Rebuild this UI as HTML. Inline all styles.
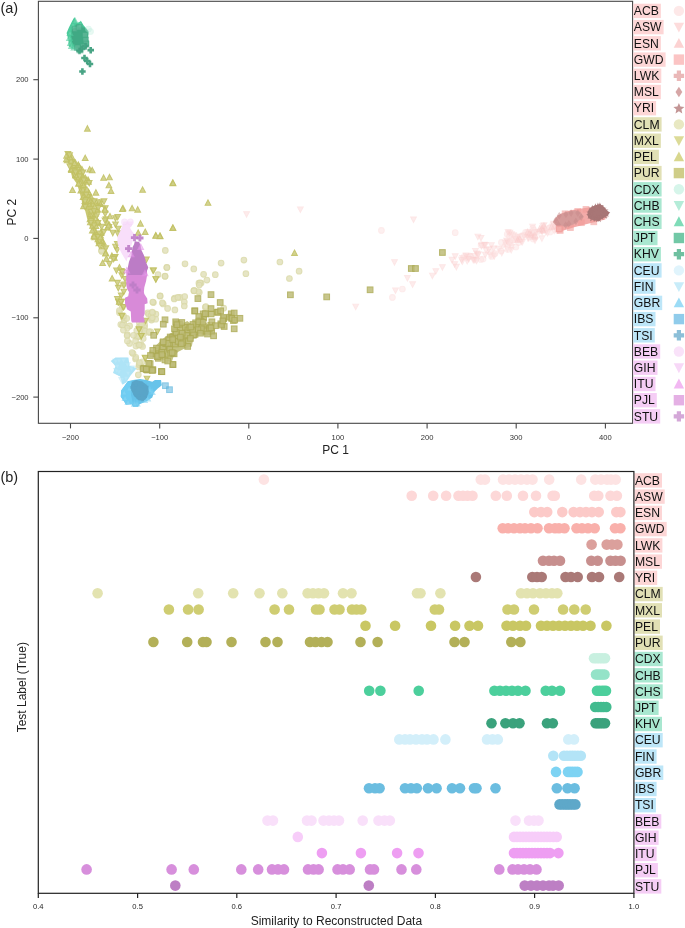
<!DOCTYPE html>
<html><head><meta charset="utf-8"><style>html,body{margin:0;padding:0;background:#fff;}svg{display:block} svg{will-change:transform}</style></head><body>
<svg width="685" height="928" viewBox="0 0 685 928" font-family="&quot;Liberation Sans&quot;, sans-serif">
<rect width="685" height="928" fill="#fff"/>
<path d="M500.0 250.0L520.0 240.0L545.0 233.0L558.0 228.0L556.0 222.0L540.0 228.0L520.0 233.0L503.0 242.0Z" fill="#fbd0d0" fill-opacity="0.4"/>
<g opacity="0.45"><path d="M513.6 238.2L516.4 232.9L510.8 232.9Z" fill="#fcdada" stroke="#fbd0d0" stroke-width="1.1" stroke-opacity="1.0"/></g>
<g opacity="0.45"><path d="M517.7 239.6L520.5 234.3L514.9 234.3Z" fill="#fcdada" stroke="#fbd0d0" stroke-width="1.1" stroke-opacity="1.0"/></g>
<g opacity="0.45"><path d="M557.6 224.0L560.4 218.7L554.8 218.7Z" fill="#fcdada" stroke="#fbd0d0" stroke-width="1.1" stroke-opacity="1.0"/></g>
<g opacity="0.45"><path d="M545.8 234.9L548.6 229.5L543.0 229.5Z" fill="#fcdada" stroke="#fbd0d0" stroke-width="1.1" stroke-opacity="1.0"/></g>
<g opacity="0.45"><path d="M490.8 258.3L493.6 253.0L488.0 253.0Z" fill="#fcdada" stroke="#fbd0d0" stroke-width="1.1" stroke-opacity="1.0"/></g>
<g opacity="0.45"><path d="M523.9 238.5L526.7 233.2L521.1 233.2Z" fill="#fcdada" stroke="#fbd0d0" stroke-width="1.1" stroke-opacity="1.0"/></g>
<g opacity="0.45"><path d="M528.0 241.0L530.8 235.7L525.2 235.7Z" fill="#fcdada" stroke="#fbd0d0" stroke-width="1.1" stroke-opacity="1.0"/></g>
<g opacity="0.45"><path d="M491.4 248.1L494.2 242.7L488.6 242.7Z" fill="#fcdada" stroke="#fbd0d0" stroke-width="1.1" stroke-opacity="1.0"/></g>
<g opacity="0.45"><path d="M484.4 247.6L487.2 242.2L481.6 242.2Z" fill="#fcdada" stroke="#fbd0d0" stroke-width="1.1" stroke-opacity="1.0"/></g>
<g opacity="0.45"><path d="M532.9 234.8L535.7 229.5L530.1 229.5Z" fill="#fcdada" stroke="#fbd0d0" stroke-width="1.1" stroke-opacity="1.0"/></g>
<g opacity="0.45"><path d="M558.0 227.2L560.8 221.9L555.2 221.9Z" fill="#fcdada" stroke="#fbd0d0" stroke-width="1.1" stroke-opacity="1.0"/></g>
<g opacity="0.45"><path d="M501.8 255.7L504.6 250.4L499.0 250.4Z" fill="#fcdada" stroke="#fbd0d0" stroke-width="1.1" stroke-opacity="1.0"/></g>
<g opacity="0.45"><path d="M547.5 235.9L550.3 230.6L544.7 230.6Z" fill="#fcdada" stroke="#fbd0d0" stroke-width="1.1" stroke-opacity="1.0"/></g>
<g opacity="0.45"><path d="M518.0 242.3L520.8 237.0L515.2 237.0Z" fill="#fcdada" stroke="#fbd0d0" stroke-width="1.1" stroke-opacity="1.0"/></g>
<g opacity="0.45"><path d="M507.4 251.6L510.2 246.2L504.6 246.2Z" fill="#fcdada" stroke="#fbd0d0" stroke-width="1.1" stroke-opacity="1.0"/></g>
<g opacity="0.45"><path d="M542.2 234.6L545.0 229.3L539.4 229.3Z" fill="#fcdada" stroke="#fbd0d0" stroke-width="1.1" stroke-opacity="1.0"/></g>
<g opacity="0.45"><path d="M498.6 251.8L501.4 246.4L495.8 246.4Z" fill="#fcdada" stroke="#fbd0d0" stroke-width="1.1" stroke-opacity="1.0"/></g>
<g opacity="0.45"><path d="M555.8 228.7L558.6 223.4L553.0 223.4Z" fill="#fcdada" stroke="#fbd0d0" stroke-width="1.1" stroke-opacity="1.0"/></g>
<g opacity="0.45"><path d="M511.5 249.5L514.3 244.2L508.7 244.2Z" fill="#fcdada" stroke="#fbd0d0" stroke-width="1.1" stroke-opacity="1.0"/></g>
<g opacity="0.45"><path d="M462.6 260.9L465.4 255.6L459.8 255.6Z" fill="#fcdada" stroke="#fbd0d0" stroke-width="1.1" stroke-opacity="1.0"/></g>
<g opacity="0.45"><path d="M506.6 243.5L509.4 238.2L503.8 238.2Z" fill="#fcdada" stroke="#fbd0d0" stroke-width="1.1" stroke-opacity="1.0"/></g>
<g opacity="0.45"><path d="M542.9 229.1L545.7 223.8L540.1 223.8Z" fill="#fcdada" stroke="#fbd0d0" stroke-width="1.1" stroke-opacity="1.0"/></g>
<g opacity="0.45"><path d="M462.3 264.4L465.1 259.0L459.5 259.0Z" fill="#fcdada" stroke="#fbd0d0" stroke-width="1.1" stroke-opacity="1.0"/></g>
<g opacity="0.45"><path d="M476.7 256.4L479.5 251.0L473.9 251.0Z" fill="#fcdada" stroke="#fbd0d0" stroke-width="1.1" stroke-opacity="1.0"/></g>
<g opacity="0.45"><path d="M485.9 252.8L488.7 247.5L483.1 247.5Z" fill="#fcdada" stroke="#fbd0d0" stroke-width="1.1" stroke-opacity="1.0"/></g>
<g opacity="0.45"><path d="M535.0 243.3L537.8 237.9L532.2 237.9Z" fill="#fcdada" stroke="#fbd0d0" stroke-width="1.1" stroke-opacity="1.0"/></g>
<g opacity="0.45"><path d="M477.9 257.1L480.7 251.8L475.1 251.8Z" fill="#fcdada" stroke="#fbd0d0" stroke-width="1.1" stroke-opacity="1.0"/></g>
<g opacity="0.45"><path d="M493.3 257.7L496.1 252.3L490.5 252.3Z" fill="#fcdada" stroke="#fbd0d0" stroke-width="1.1" stroke-opacity="1.0"/></g>
<g opacity="0.45"><path d="M532.5 229.5L535.3 224.2L529.7 224.2Z" fill="#fcdada" stroke="#fbd0d0" stroke-width="1.1" stroke-opacity="1.0"/></g>
<g opacity="0.45"><path d="M474.6 258.8L477.4 253.5L471.8 253.5Z" fill="#fcdada" stroke="#fbd0d0" stroke-width="1.1" stroke-opacity="1.0"/></g>
<g opacity="0.45"><path d="M542.6 231.4L545.4 226.0L539.8 226.0Z" fill="#fcdada" stroke="#fbd0d0" stroke-width="1.1" stroke-opacity="1.0"/></g>
<g opacity="0.45"><path d="M484.1 248.1L486.9 242.8L481.3 242.8Z" fill="#fcdada" stroke="#fbd0d0" stroke-width="1.1" stroke-opacity="1.0"/></g>
<g opacity="0.45"><path d="M473.1 262.5L475.9 257.2L470.3 257.2Z" fill="#fcdada" stroke="#fbd0d0" stroke-width="1.1" stroke-opacity="1.0"/></g>
<g opacity="0.45"><path d="M510.2 245.7L513.0 240.3L507.4 240.3Z" fill="#fcdada" stroke="#fbd0d0" stroke-width="1.1" stroke-opacity="1.0"/></g>
<g opacity="0.45"><path d="M521.3 244.5L524.1 239.2L518.5 239.2Z" fill="#fcdada" stroke="#fbd0d0" stroke-width="1.1" stroke-opacity="1.0"/></g>
<g opacity="0.45"><path d="M511.2 252.8L514.0 247.5L508.4 247.5Z" fill="#fcdada" stroke="#fbd0d0" stroke-width="1.1" stroke-opacity="1.0"/></g>
<g opacity="0.45"><path d="M505.2 245.7L508.0 240.4L502.4 240.4Z" fill="#fcdada" stroke="#fbd0d0" stroke-width="1.1" stroke-opacity="1.0"/></g>
<g opacity="0.45"><path d="M554.2 233.5L557.0 228.2L551.4 228.2Z" fill="#fcdada" stroke="#fbd0d0" stroke-width="1.1" stroke-opacity="1.0"/></g>
<g opacity="0.45"><path d="M544.0 228.1L546.8 222.7L541.2 222.7Z" fill="#fcdada" stroke="#fbd0d0" stroke-width="1.1" stroke-opacity="1.0"/></g>
<g opacity="0.45"><path d="M475.4 253.9L478.2 248.6L472.6 248.6Z" fill="#fcdada" stroke="#fbd0d0" stroke-width="1.1" stroke-opacity="1.0"/></g>
<g opacity="0.45"><path d="M511.6 237.1L514.4 231.7L508.8 231.7Z" fill="#fcdada" stroke="#fbd0d0" stroke-width="1.1" stroke-opacity="1.0"/></g>
<g opacity="0.45"><path d="M515.4 241.6L518.2 236.3L512.6 236.3Z" fill="#fcdada" stroke="#fbd0d0" stroke-width="1.1" stroke-opacity="1.0"/></g>
<g opacity="0.45"><path d="M522.4 244.8L525.2 239.5L519.6 239.5Z" fill="#fcdada" stroke="#fbd0d0" stroke-width="1.1" stroke-opacity="1.0"/></g>
<g opacity="0.45"><path d="M541.9 233.5L544.7 228.2L539.1 228.2Z" fill="#fcdada" stroke="#fbd0d0" stroke-width="1.1" stroke-opacity="1.0"/></g>
<g opacity="0.45"><path d="M474.9 262.9L477.7 257.6L472.1 257.6Z" fill="#fcdada" stroke="#fbd0d0" stroke-width="1.1" stroke-opacity="1.0"/></g>
<g opacity="0.45"><path d="M528.8 240.9L531.6 235.6L526.0 235.6Z" fill="#fcdada" stroke="#fbd0d0" stroke-width="1.1" stroke-opacity="1.0"/></g>
<g opacity="0.45"><path d="M467.2 263.8L470.0 258.5L464.4 258.5Z" fill="#fcdada" stroke="#fbd0d0" stroke-width="1.1" stroke-opacity="1.0"/></g>
<g opacity="0.45"><path d="M468.4 260.1L471.2 254.8L465.6 254.8Z" fill="#fcdada" stroke="#fbd0d0" stroke-width="1.1" stroke-opacity="1.0"/></g>
<g opacity="0.45"><path d="M466.7 260.4L469.5 255.1L463.9 255.1Z" fill="#fcdada" stroke="#fbd0d0" stroke-width="1.1" stroke-opacity="1.0"/></g>
<g opacity="0.45"><path d="M535.9 234.9L538.7 229.6L533.1 229.6Z" fill="#fcdada" stroke="#fbd0d0" stroke-width="1.1" stroke-opacity="1.0"/></g>
<g opacity="0.45"><path d="M553.5 226.7L556.3 221.4L550.7 221.4Z" fill="#fcdada" stroke="#fbd0d0" stroke-width="1.1" stroke-opacity="1.0"/></g>
<g opacity="0.45"><path d="M541.9 241.2L544.7 235.9L539.1 235.9Z" fill="#fcdada" stroke="#fbd0d0" stroke-width="1.1" stroke-opacity="1.0"/></g>
<g opacity="0.45"><path d="M494.3 259.1L497.1 253.7L491.5 253.7Z" fill="#fcdada" stroke="#fbd0d0" stroke-width="1.1" stroke-opacity="1.0"/></g>
<g opacity="0.45"><path d="M468.4 259.5L471.2 254.1L465.6 254.1Z" fill="#fcdada" stroke="#fbd0d0" stroke-width="1.1" stroke-opacity="1.0"/></g>
<g opacity="0.45"><path d="M507.5 244.4L510.3 239.0L504.7 239.0Z" fill="#fcdada" stroke="#fbd0d0" stroke-width="1.1" stroke-opacity="1.0"/></g>
<g opacity="0.5"><circle cx="518.6" cy="242.6" r="2.80" fill="#fde4e4" stroke="#fcdcdc" stroke-width="1.1" stroke-opacity="1.0"/></g>
<g opacity="0.5"><circle cx="558.5" cy="225.7" r="2.80" fill="#fde4e4" stroke="#fcdcdc" stroke-width="1.1" stroke-opacity="1.0"/></g>
<g opacity="0.5"><circle cx="464.4" cy="256.3" r="2.80" fill="#fde4e4" stroke="#fcdcdc" stroke-width="1.1" stroke-opacity="1.0"/></g>
<g opacity="0.5"><circle cx="470.5" cy="256.3" r="2.80" fill="#fde4e4" stroke="#fcdcdc" stroke-width="1.1" stroke-opacity="1.0"/></g>
<g opacity="0.5"><circle cx="515.9" cy="247.0" r="2.80" fill="#fde4e4" stroke="#fcdcdc" stroke-width="1.1" stroke-opacity="1.0"/></g>
<g opacity="0.5"><circle cx="510.3" cy="242.9" r="2.80" fill="#fde4e4" stroke="#fcdcdc" stroke-width="1.1" stroke-opacity="1.0"/></g>
<g opacity="0.5"><circle cx="533.7" cy="230.2" r="2.80" fill="#fde4e4" stroke="#fcdcdc" stroke-width="1.1" stroke-opacity="1.0"/></g>
<g opacity="0.5"><circle cx="532.9" cy="228.2" r="2.80" fill="#fde4e4" stroke="#fcdcdc" stroke-width="1.1" stroke-opacity="1.0"/></g>
<g opacity="0.5"><circle cx="509.4" cy="236.1" r="2.80" fill="#fde4e4" stroke="#fcdcdc" stroke-width="1.1" stroke-opacity="1.0"/></g>
<g opacity="0.5"><circle cx="507.9" cy="249.5" r="2.80" fill="#fde4e4" stroke="#fcdcdc" stroke-width="1.1" stroke-opacity="1.0"/></g>
<g opacity="0.5"><circle cx="534.3" cy="232.6" r="2.80" fill="#fde4e4" stroke="#fcdcdc" stroke-width="1.1" stroke-opacity="1.0"/></g>
<g opacity="0.5"><circle cx="527.6" cy="232.0" r="2.80" fill="#fde4e4" stroke="#fcdcdc" stroke-width="1.1" stroke-opacity="1.0"/></g>
<g opacity="0.5"><circle cx="511.7" cy="239.7" r="2.80" fill="#fde4e4" stroke="#fcdcdc" stroke-width="1.1" stroke-opacity="1.0"/></g>
<g opacity="0.5"><circle cx="549.4" cy="227.9" r="2.80" fill="#fde4e4" stroke="#fcdcdc" stroke-width="1.1" stroke-opacity="1.0"/></g>
<g opacity="0.5"><circle cx="481.1" cy="244.9" r="2.80" fill="#fde4e4" stroke="#fcdcdc" stroke-width="1.1" stroke-opacity="1.0"/></g>
<g opacity="0.5"><circle cx="555.3" cy="224.9" r="2.80" fill="#fde4e4" stroke="#fcdcdc" stroke-width="1.1" stroke-opacity="1.0"/></g>
<g opacity="0.5"><circle cx="483.1" cy="259.0" r="2.80" fill="#fde4e4" stroke="#fcdcdc" stroke-width="1.1" stroke-opacity="1.0"/></g>
<g opacity="0.5"><circle cx="491.6" cy="256.5" r="2.80" fill="#fde4e4" stroke="#fcdcdc" stroke-width="1.1" stroke-opacity="1.0"/></g>
<g opacity="0.5"><circle cx="550.2" cy="231.9" r="2.80" fill="#fde4e4" stroke="#fcdcdc" stroke-width="1.1" stroke-opacity="1.0"/></g>
<g opacity="0.5"><circle cx="470.2" cy="256.2" r="2.80" fill="#fde4e4" stroke="#fcdcdc" stroke-width="1.1" stroke-opacity="1.0"/></g>
<g opacity="0.5"><circle cx="533.2" cy="239.1" r="2.80" fill="#fde4e4" stroke="#fcdcdc" stroke-width="1.1" stroke-opacity="1.0"/></g>
<g opacity="0.5"><circle cx="552.7" cy="224.7" r="2.80" fill="#fde4e4" stroke="#fcdcdc" stroke-width="1.1" stroke-opacity="1.0"/></g>
<g opacity="0.5"><circle cx="507.2" cy="234.3" r="2.80" fill="#fde4e4" stroke="#fcdcdc" stroke-width="1.1" stroke-opacity="1.0"/></g>
<g opacity="0.5"><circle cx="489.8" cy="252.0" r="2.80" fill="#fde4e4" stroke="#fcdcdc" stroke-width="1.1" stroke-opacity="1.0"/></g>
<g opacity="0.5"><circle cx="557.6" cy="230.6" r="2.80" fill="#fde4e4" stroke="#fcdcdc" stroke-width="1.1" stroke-opacity="1.0"/></g>
<g opacity="0.5"><circle cx="525.6" cy="232.4" r="2.80" fill="#fde4e4" stroke="#fcdcdc" stroke-width="1.1" stroke-opacity="1.0"/></g>
<g opacity="0.5"><circle cx="515.7" cy="236.6" r="2.80" fill="#fde4e4" stroke="#fcdcdc" stroke-width="1.1" stroke-opacity="1.0"/></g>
<g opacity="0.5"><circle cx="480.8" cy="259.4" r="2.80" fill="#fde4e4" stroke="#fcdcdc" stroke-width="1.1" stroke-opacity="1.0"/></g>
<g opacity="0.5"><circle cx="535.0" cy="237.4" r="2.80" fill="#fde4e4" stroke="#fcdcdc" stroke-width="1.1" stroke-opacity="1.0"/></g>
<g opacity="0.5"><circle cx="501.4" cy="242.4" r="2.80" fill="#fde4e4" stroke="#fcdcdc" stroke-width="1.1" stroke-opacity="1.0"/></g>
<g opacity="0.45"><path d="M560.2 221.2L563.0 226.5L557.4 226.5Z" fill="#fbd4d4" stroke="#fac8c8" stroke-width="1.1" stroke-opacity="1.0"/></g>
<g opacity="0.45"><path d="M533.7 233.8L536.5 239.1L530.9 239.1Z" fill="#fbd4d4" stroke="#fac8c8" stroke-width="1.1" stroke-opacity="1.0"/></g>
<g opacity="0.45"><path d="M554.2 223.5L557.0 228.8L551.4 228.8Z" fill="#fbd4d4" stroke="#fac8c8" stroke-width="1.1" stroke-opacity="1.0"/></g>
<g opacity="0.45"><path d="M527.8 229.2L530.6 234.5L525.0 234.5Z" fill="#fbd4d4" stroke="#fac8c8" stroke-width="1.1" stroke-opacity="1.0"/></g>
<g opacity="0.45"><path d="M560.4 224.3L563.2 229.6L557.6 229.6Z" fill="#fbd4d4" stroke="#fac8c8" stroke-width="1.1" stroke-opacity="1.0"/></g>
<g opacity="0.45"><path d="M531.1 231.8L533.9 237.2L528.3 237.2Z" fill="#fbd4d4" stroke="#fac8c8" stroke-width="1.1" stroke-opacity="1.0"/></g>
<g opacity="0.45"><path d="M541.8 225.7L544.6 231.0L539.0 231.0Z" fill="#fbd4d4" stroke="#fac8c8" stroke-width="1.1" stroke-opacity="1.0"/></g>
<g opacity="0.45"><path d="M534.9 232.6L537.7 238.0L532.1 238.0Z" fill="#fbd4d4" stroke="#fac8c8" stroke-width="1.1" stroke-opacity="1.0"/></g>
<g opacity="0.45"><path d="M543.9 223.0L546.7 228.3L541.1 228.3Z" fill="#fbd4d4" stroke="#fac8c8" stroke-width="1.1" stroke-opacity="1.0"/></g>
<g opacity="0.45"><path d="M551.7 223.8L554.5 229.2L548.9 229.2Z" fill="#fbd4d4" stroke="#fac8c8" stroke-width="1.1" stroke-opacity="1.0"/></g>
<g opacity="0.45"><path d="M517.6 237.1L520.4 242.4L514.8 242.4Z" fill="#fbd4d4" stroke="#fac8c8" stroke-width="1.1" stroke-opacity="1.0"/></g>
<g opacity="0.45"><path d="M558.1 226.3L560.9 231.6L555.3 231.6Z" fill="#fbd4d4" stroke="#fac8c8" stroke-width="1.1" stroke-opacity="1.0"/></g>
<g opacity="0.45"><path d="M542.9 227.5L545.7 232.8L540.1 232.8Z" fill="#fbd4d4" stroke="#fac8c8" stroke-width="1.1" stroke-opacity="1.0"/></g>
<g opacity="0.45"><path d="M559.5 221.2L562.3 226.5L556.7 226.5Z" fill="#fbd4d4" stroke="#fac8c8" stroke-width="1.1" stroke-opacity="1.0"/></g>
<g opacity="0.45"><path d="M560.0 223.2L562.8 228.6L557.2 228.6Z" fill="#fbd4d4" stroke="#fac8c8" stroke-width="1.1" stroke-opacity="1.0"/></g>
<g opacity="0.45"><path d="M557.4 224.5L560.2 229.8L554.6 229.8Z" fill="#fbd4d4" stroke="#fac8c8" stroke-width="1.1" stroke-opacity="1.0"/></g>
<g opacity="0.45"><path d="M519.9 236.0L522.7 241.3L517.1 241.3Z" fill="#fbd4d4" stroke="#fac8c8" stroke-width="1.1" stroke-opacity="1.0"/></g>
<g opacity="0.45"><path d="M529.5 230.4L532.3 235.7L526.7 235.7Z" fill="#fbd4d4" stroke="#fac8c8" stroke-width="1.1" stroke-opacity="1.0"/></g>
<g opacity="0.45"><path d="M557.9 222.6L560.7 228.0L555.1 228.0Z" fill="#fbd4d4" stroke="#fac8c8" stroke-width="1.1" stroke-opacity="1.0"/></g>
<g opacity="0.45"><path d="M539.6 226.3L542.4 231.6L536.8 231.6Z" fill="#fbd4d4" stroke="#fac8c8" stroke-width="1.1" stroke-opacity="1.0"/></g>
<g opacity="0.5"><path d="M355.7 309.6L358.5 304.3L352.9 304.3Z" fill="#fcdada" stroke="#fbd0d0" stroke-width="1.1" stroke-opacity="1.0"/></g>
<g opacity="0.5"><path d="M246.6 217.1L249.4 211.8L243.8 211.8Z" fill="#fcdada" stroke="#fbd0d0" stroke-width="1.1" stroke-opacity="1.0"/></g>
<g opacity="0.5"><path d="M300.4 212.3L303.2 207.0L297.6 207.0Z" fill="#fcdada" stroke="#fbd0d0" stroke-width="1.1" stroke-opacity="1.0"/></g>
<g opacity="0.5"><path d="M413.5 222.4L416.3 217.1L410.7 217.1Z" fill="#fcdada" stroke="#fbd0d0" stroke-width="1.1" stroke-opacity="1.0"/></g>
<g opacity="0.5"><path d="M394.5 265.1L397.3 259.8L391.7 259.8Z" fill="#fcdada" stroke="#fbd0d0" stroke-width="1.1" stroke-opacity="1.0"/></g>
<g opacity="0.5"><path d="M407.4 280.9L410.2 275.6L404.6 275.6Z" fill="#fcdada" stroke="#fbd0d0" stroke-width="1.1" stroke-opacity="1.0"/></g>
<g opacity="0.5"><path d="M412.6 287.2L415.4 281.9L409.8 281.9Z" fill="#fcdada" stroke="#fbd0d0" stroke-width="1.1" stroke-opacity="1.0"/></g>
<g opacity="0.5"><path d="M395.5 293.3L398.3 288.0L392.7 288.0Z" fill="#fcdada" stroke="#fbd0d0" stroke-width="1.1" stroke-opacity="1.0"/></g>
<g opacity="0.5"><path d="M432.4 278.5L435.2 273.2L429.6 273.2Z" fill="#fcdada" stroke="#fbd0d0" stroke-width="1.1" stroke-opacity="1.0"/></g>
<g opacity="0.5"><path d="M435.8 274.1L438.6 268.8L433.0 268.8Z" fill="#fcdada" stroke="#fbd0d0" stroke-width="1.1" stroke-opacity="1.0"/></g>
<g opacity="0.5"><path d="M442.4 270.1L445.2 264.8L439.6 264.8Z" fill="#fcdada" stroke="#fbd0d0" stroke-width="1.1" stroke-opacity="1.0"/></g>
<g opacity="0.5"><path d="M452.0 262.7L454.8 257.4L449.2 257.4Z" fill="#fcdada" stroke="#fbd0d0" stroke-width="1.1" stroke-opacity="1.0"/></g>
<g opacity="0.5"><path d="M455.2 259.2L458.0 253.9L452.4 253.9Z" fill="#fcdada" stroke="#fbd0d0" stroke-width="1.1" stroke-opacity="1.0"/></g>
<g opacity="0.5"><path d="M454.7 267.1L457.5 261.8L451.9 261.8Z" fill="#fcdada" stroke="#fbd0d0" stroke-width="1.1" stroke-opacity="1.0"/></g>
<g opacity="0.5"><path d="M456.4 269.7L459.2 264.4L453.6 264.4Z" fill="#fcdada" stroke="#fbd0d0" stroke-width="1.1" stroke-opacity="1.0"/></g>
<g opacity="0.5"><path d="M461.7 262.7L464.5 257.4L458.9 257.4Z" fill="#fcdada" stroke="#fbd0d0" stroke-width="1.1" stroke-opacity="1.0"/></g>
<g opacity="0.5"><path d="M466.0 258.3L468.8 253.0L463.2 253.0Z" fill="#fcdada" stroke="#fbd0d0" stroke-width="1.1" stroke-opacity="1.0"/></g>
<g opacity="0.5"><path d="M468.7 261.9L471.5 256.6L465.9 256.6Z" fill="#fcdada" stroke="#fbd0d0" stroke-width="1.1" stroke-opacity="1.0"/></g>
<g opacity="0.5"><path d="M473.9 262.7L476.7 257.4L471.1 257.4Z" fill="#fcdada" stroke="#fbd0d0" stroke-width="1.1" stroke-opacity="1.0"/></g>
<g opacity="0.5"><path d="M476.6 263.6L479.4 258.3L473.8 258.3Z" fill="#fcdada" stroke="#fbd0d0" stroke-width="1.1" stroke-opacity="1.0"/></g>
<g opacity="0.5"><path d="M478.3 257.5L481.1 252.2L475.5 252.2Z" fill="#fcdada" stroke="#fbd0d0" stroke-width="1.1" stroke-opacity="1.0"/></g>
<g opacity="0.5"><path d="M481.0 240.8L483.8 235.5L478.2 235.5Z" fill="#fcdada" stroke="#fbd0d0" stroke-width="1.1" stroke-opacity="1.0"/></g>
<g opacity="0.5"><path d="M477.9 239.6L480.7 234.3L475.1 234.3Z" fill="#fcdada" stroke="#fbd0d0" stroke-width="1.1" stroke-opacity="1.0"/></g>
<g opacity="0.5"><path d="M481.5 248.7L484.3 243.4L478.7 243.4Z" fill="#fcdada" stroke="#fbd0d0" stroke-width="1.1" stroke-opacity="1.0"/></g>
<g opacity="0.5"><path d="M485.3 247.8L488.1 242.5L482.5 242.5Z" fill="#fcdada" stroke="#fbd0d0" stroke-width="1.1" stroke-opacity="1.0"/></g>
<g opacity="0.5"><path d="M485.3 257.5L488.1 252.2L482.5 252.2Z" fill="#fcdada" stroke="#fbd0d0" stroke-width="1.1" stroke-opacity="1.0"/></g>
<g opacity="0.5"><path d="M488.8 252.2L491.6 246.9L486.0 246.9Z" fill="#fcdada" stroke="#fbd0d0" stroke-width="1.1" stroke-opacity="1.0"/></g>
<g opacity="0.5"><path d="M493.7 251.3L496.5 246.0L490.9 246.0Z" fill="#fcdada" stroke="#fbd0d0" stroke-width="1.1" stroke-opacity="1.0"/></g>
<g opacity="0.5"><path d="M509.9 235.6L512.7 230.3L507.1 230.3Z" fill="#fcdada" stroke="#fbd0d0" stroke-width="1.1" stroke-opacity="1.0"/></g>
<g opacity="0.5"><path d="M508.1 235.0L510.9 229.7L505.3 229.7Z" fill="#fcdada" stroke="#fbd0d0" stroke-width="1.1" stroke-opacity="1.0"/></g>
<g opacity="0.55"><circle cx="381.4" cy="230.4" r="2.80" fill="#fde4e4" stroke="#fcdcdc" stroke-width="1.1" stroke-opacity="1.0"/></g>
<g opacity="0.55"><circle cx="402.4" cy="289.0" r="2.80" fill="#fde4e4" stroke="#fcdcdc" stroke-width="1.1" stroke-opacity="1.0"/></g>
<g opacity="0.55"><circle cx="392.4" cy="297.4" r="2.80" fill="#fde4e4" stroke="#fcdcdc" stroke-width="1.1" stroke-opacity="1.0"/></g>
<g opacity="0.55"><circle cx="455.2" cy="232.7" r="2.80" fill="#fde4e4" stroke="#fcdcdc" stroke-width="1.1" stroke-opacity="1.0"/></g>
<g opacity="0.55"><circle cx="495.0" cy="253.7" r="2.80" fill="#fde4e4" stroke="#fcdcdc" stroke-width="1.1" stroke-opacity="1.0"/></g>
<g opacity="0.55"><circle cx="501.1" cy="251.1" r="2.80" fill="#fde4e4" stroke="#fcdcdc" stroke-width="1.1" stroke-opacity="1.0"/></g>
<path d="M556.4 231.2L561.0 231.2L575.0 227.1L589.0 223.6L605.4 219.5L606.0 212.0L600.0 206.0L586.7 207.8L570.4 210.2L560.0 214.0Z" fill="#f3aaa8"/>
<g opacity="0.6"><rect x="557.4" y="227.6" width="5.6" height="5.6" fill="#f29d9a" stroke="#f29d9a" stroke-width="1.1" stroke-opacity="1.0"/></g>
<g opacity="0.6"><rect x="567.6" y="224.8" width="5.6" height="5.6" fill="#f29d9a" stroke="#f29d9a" stroke-width="1.1" stroke-opacity="1.0"/></g>
<g opacity="0.6"><rect x="578.6" y="219.9" width="5.6" height="5.6" fill="#f29d9a" stroke="#f29d9a" stroke-width="1.1" stroke-opacity="1.0"/></g>
<g opacity="0.6"><rect x="591.0" y="219.0" width="5.6" height="5.6" fill="#f29d9a" stroke="#f29d9a" stroke-width="1.1" stroke-opacity="1.0"/></g>
<g opacity="0.6"><rect x="601.3" y="211.8" width="5.6" height="5.6" fill="#f29d9a" stroke="#f29d9a" stroke-width="1.1" stroke-opacity="1.0"/></g>
<g opacity="0.6"><rect x="597.2" y="206.6" width="5.6" height="5.6" fill="#f29d9a" stroke="#f29d9a" stroke-width="1.1" stroke-opacity="1.0"/></g>
<g opacity="0.6"><rect x="583.2" y="206.6" width="5.6" height="5.6" fill="#f29d9a" stroke="#f29d9a" stroke-width="1.1" stroke-opacity="1.0"/></g>
<g opacity="0.6"><rect x="574.9" y="208.6" width="5.6" height="5.6" fill="#f29d9a" stroke="#f29d9a" stroke-width="1.1" stroke-opacity="1.0"/></g>
<g opacity="0.6"><rect x="562.3" y="211.0" width="5.6" height="5.6" fill="#f29d9a" stroke="#f29d9a" stroke-width="1.1" stroke-opacity="1.0"/></g>
<g opacity="0.6"><rect x="558.5" y="216.6" width="5.6" height="5.6" fill="#f29d9a" stroke="#f29d9a" stroke-width="1.1" stroke-opacity="1.0"/></g>
<path d="M552.8 221.9L557.5 215.4L563.4 213.1L569.2 211.4L575.0 210.2L580.3 211.9L583.8 216.6L579.7 220.1L573.9 224.2L568.0 226.5L562.2 226.5L556.4 225.9Z" fill="#d59b9a"/>
<g opacity="0.5"><path d="M555.9 217.4L557.7 220.2L555.9 223.0L554.0 220.2Z" fill="#c88a8a" stroke="#c88a8a" stroke-width="1.1" stroke-opacity="1.0"/></g>
<g opacity="0.5"><path d="M559.2 212.9L561.1 215.7L559.2 218.5L557.4 215.7Z" fill="#c88a8a" stroke="#c88a8a" stroke-width="1.1" stroke-opacity="1.0"/></g>
<g opacity="0.5"><path d="M565.9 211.7L567.7 214.5L565.9 217.3L564.0 214.5Z" fill="#c88a8a" stroke="#c88a8a" stroke-width="1.1" stroke-opacity="1.0"/></g>
<g opacity="0.5"><path d="M571.1 210.3L572.9 213.1L571.1 215.9L569.2 213.1Z" fill="#c88a8a" stroke="#c88a8a" stroke-width="1.1" stroke-opacity="1.0"/></g>
<g opacity="0.5"><path d="M577.8 210.3L579.6 213.1L577.8 215.9L575.9 213.1Z" fill="#c88a8a" stroke="#c88a8a" stroke-width="1.1" stroke-opacity="1.0"/></g>
<g opacity="0.5"><path d="M581.2 214.5L583.0 217.3L581.2 220.1L579.3 217.3Z" fill="#c88a8a" stroke="#c88a8a" stroke-width="1.1" stroke-opacity="1.0"/></g>
<g opacity="0.5"><path d="M575.9 218.6L577.7 221.4L575.9 224.2L574.0 221.4Z" fill="#c88a8a" stroke="#c88a8a" stroke-width="1.1" stroke-opacity="1.0"/></g>
<g opacity="0.5"><path d="M568.8 220.9L570.7 223.7L568.8 226.5L567.0 223.7Z" fill="#c88a8a" stroke="#c88a8a" stroke-width="1.1" stroke-opacity="1.0"/></g>
<g opacity="0.5"><path d="M565.7 222.3L567.6 225.1L565.7 227.9L563.9 225.1Z" fill="#c88a8a" stroke="#c88a8a" stroke-width="1.1" stroke-opacity="1.0"/></g>
<g opacity="0.5"><path d="M558.4 221.8L560.3 224.6L558.4 227.4L556.6 224.6Z" fill="#c88a8a" stroke="#c88a8a" stroke-width="1.1" stroke-opacity="1.0"/></g>
<path d="M589.0 209.0L593.7 206.1L600.1 204.1L603.6 206.7L606.6 210.2L609.8 212.5L607.7 215.4L603.6 217.8L598.4 221.3L593.7 220.1L589.0 218.4L587.3 214.9L587.9 211.4Z" fill="#a87676"/>
<g opacity="0.8"><polygon points="592.3,206.2 593.1,208.0 595.0,208.2 593.5,209.4 594.0,211.3 592.3,210.3 590.7,211.3 591.1,209.4 589.7,208.2 591.6,208.0" fill="#a87676" stroke="#a87676" stroke-width="1.1" stroke-opacity="1.0"/></g>
<g opacity="0.8"><polygon points="595.5,204.7 596.3,206.5 598.2,206.7 596.7,207.9 597.2,209.8 595.5,208.8 593.9,209.8 594.3,207.9 592.9,206.7 594.8,206.5" fill="#a87676" stroke="#a87676" stroke-width="1.1" stroke-opacity="1.0"/></g>
<g opacity="0.8"><polygon points="597.9,203.9 598.6,205.7 600.5,205.9 599.1,207.1 599.5,209.0 597.9,208.0 596.2,209.0 596.7,207.1 595.2,205.9 597.1,205.7" fill="#a87676" stroke="#a87676" stroke-width="1.1" stroke-opacity="1.0"/></g>
<g opacity="0.8"><polygon points="599.9,203.8 600.7,205.6 602.6,205.8 601.1,207.0 601.6,208.9 599.9,207.9 598.3,208.9 598.8,207.0 597.3,205.8 599.2,205.6" fill="#a87676" stroke="#a87676" stroke-width="1.1" stroke-opacity="1.0"/></g>
<g opacity="0.8"><polygon points="602.7,206.2 603.4,208.0 605.3,208.2 603.9,209.4 604.3,211.3 602.7,210.3 601.0,211.3 601.5,209.4 600.0,208.2 601.9,208.0" fill="#a87676" stroke="#a87676" stroke-width="1.1" stroke-opacity="1.0"/></g>
<g opacity="0.8"><polygon points="604.4,208.1 605.2,209.9 607.1,210.0 605.6,211.3 606.1,213.2 604.4,212.2 602.8,213.2 603.2,211.3 601.8,210.0 603.7,209.9" fill="#a87676" stroke="#a87676" stroke-width="1.1" stroke-opacity="1.0"/></g>
<g opacity="0.8"><polygon points="606.2,210.8 606.9,212.6 608.9,212.7 607.4,214.0 607.8,215.9 606.2,214.9 604.5,215.9 605.0,214.0 603.5,212.7 605.5,212.6" fill="#a87676" stroke="#a87676" stroke-width="1.1" stroke-opacity="1.0"/></g>
<g opacity="0.8"><polygon points="604.6,212.7 605.3,214.4 607.3,214.6 605.8,215.8 606.2,217.7 604.6,216.7 603.0,217.7 603.4,215.8 601.9,214.6 603.9,214.4" fill="#a87676" stroke="#a87676" stroke-width="1.1" stroke-opacity="1.0"/></g>
<g opacity="0.8"><polygon points="601.0,213.8 601.8,215.5 603.7,215.7 602.2,216.9 602.7,218.8 601.0,217.8 599.4,218.8 599.8,216.9 598.4,215.7 600.3,215.5" fill="#a87676" stroke="#a87676" stroke-width="1.1" stroke-opacity="1.0"/></g>
<g opacity="0.8"><polygon points="598.5,215.8 599.2,217.6 601.1,217.7 599.7,219.0 600.1,220.9 598.5,219.8 596.8,220.9 597.3,219.0 595.8,217.7 597.7,217.6" fill="#a87676" stroke="#a87676" stroke-width="1.1" stroke-opacity="1.0"/></g>
<g opacity="0.8"><polygon points="596.1,215.5 596.9,217.3 598.8,217.5 597.3,218.7 597.8,220.6 596.1,219.6 594.5,220.6 594.9,218.7 593.5,217.5 595.4,217.3" fill="#a87676" stroke="#a87676" stroke-width="1.1" stroke-opacity="1.0"/></g>
<g opacity="0.8"><polygon points="592.4,215.3 593.1,217.1 595.1,217.2 593.6,218.5 594.0,220.3 592.4,219.3 590.8,220.3 591.2,218.5 589.7,217.2 591.7,217.1" fill="#a87676" stroke="#a87676" stroke-width="1.1" stroke-opacity="1.0"/></g>
<g opacity="0.8"><polygon points="590.2,212.7 590.9,214.5 592.8,214.6 591.4,215.9 591.8,217.8 590.2,216.8 588.5,217.8 589.0,215.9 587.5,214.6 589.4,214.5" fill="#a87676" stroke="#a87676" stroke-width="1.1" stroke-opacity="1.0"/></g>
<g opacity="0.8"><polygon points="590.3,210.0 591.1,211.8 593.0,211.9 591.5,213.2 592.0,215.1 590.3,214.1 588.7,215.1 589.1,213.2 587.7,211.9 589.6,211.8" fill="#a87676" stroke="#a87676" stroke-width="1.1" stroke-opacity="1.0"/></g>
<g opacity="0.8"><rect x="556.5" y="226.1" width="5.6" height="5.6" fill="#f5b3b0" stroke="#f29d9a" stroke-width="1.1" stroke-opacity="1.0"/></g>
<g opacity="0.85"><circle cx="165.3" cy="250.4" r="2.80" fill="#e2e1bb" stroke="#dad9a8" stroke-width="1.1" stroke-opacity="1.0"/></g>
<g opacity="0.85"><circle cx="166.8" cy="267.4" r="2.80" fill="#e2e1bb" stroke="#dad9a8" stroke-width="1.1" stroke-opacity="1.0"/></g>
<g opacity="0.85"><circle cx="165.0" cy="276.2" r="2.80" fill="#e2e1bb" stroke="#dad9a8" stroke-width="1.1" stroke-opacity="1.0"/></g>
<g opacity="0.85"><circle cx="158.0" cy="274.7" r="2.80" fill="#e2e1bb" stroke="#dad9a8" stroke-width="1.1" stroke-opacity="1.0"/></g>
<g opacity="0.85"><circle cx="185.0" cy="263.8" r="2.80" fill="#e2e1bb" stroke="#dad9a8" stroke-width="1.1" stroke-opacity="1.0"/></g>
<g opacity="0.85"><circle cx="193.8" cy="268.9" r="2.80" fill="#e2e1bb" stroke="#dad9a8" stroke-width="1.1" stroke-opacity="1.0"/></g>
<g opacity="0.85"><circle cx="203.6" cy="274.3" r="2.80" fill="#e2e1bb" stroke="#dad9a8" stroke-width="1.1" stroke-opacity="1.0"/></g>
<g opacity="0.85"><circle cx="206.9" cy="280.1" r="2.80" fill="#e2e1bb" stroke="#dad9a8" stroke-width="1.1" stroke-opacity="1.0"/></g>
<g opacity="0.85"><circle cx="198.9" cy="283.1" r="2.80" fill="#e2e1bb" stroke="#dad9a8" stroke-width="1.1" stroke-opacity="1.0"/></g>
<g opacity="0.85"><circle cx="201.1" cy="283.1" r="2.80" fill="#e2e1bb" stroke="#dad9a8" stroke-width="1.1" stroke-opacity="1.0"/></g>
<g opacity="0.85"><circle cx="215.3" cy="274.7" r="2.80" fill="#e2e1bb" stroke="#dad9a8" stroke-width="1.1" stroke-opacity="1.0"/></g>
<g opacity="0.85"><circle cx="221.1" cy="263.1" r="2.80" fill="#e2e1bb" stroke="#dad9a8" stroke-width="1.1" stroke-opacity="1.0"/></g>
<g opacity="0.85"><circle cx="243.9" cy="260.1" r="2.80" fill="#e2e1bb" stroke="#dad9a8" stroke-width="1.1" stroke-opacity="1.0"/></g>
<g opacity="0.85"><circle cx="245.9" cy="273.7" r="2.80" fill="#e2e1bb" stroke="#dad9a8" stroke-width="1.1" stroke-opacity="1.0"/></g>
<g opacity="0.85"><circle cx="194.5" cy="290.8" r="2.80" fill="#e2e1bb" stroke="#dad9a8" stroke-width="1.1" stroke-opacity="1.0"/></g>
<g opacity="0.85"><circle cx="199.3" cy="292.3" r="2.80" fill="#e2e1bb" stroke="#dad9a8" stroke-width="1.1" stroke-opacity="1.0"/></g>
<g opacity="0.85"><circle cx="160.2" cy="295.9" r="2.80" fill="#e2e1bb" stroke="#dad9a8" stroke-width="1.1" stroke-opacity="1.0"/></g>
<g opacity="0.85"><circle cx="174.8" cy="298.1" r="2.80" fill="#e2e1bb" stroke="#dad9a8" stroke-width="1.1" stroke-opacity="1.0"/></g>
<g opacity="0.85"><circle cx="179.9" cy="297.4" r="2.80" fill="#e2e1bb" stroke="#dad9a8" stroke-width="1.1" stroke-opacity="1.0"/></g>
<g opacity="0.85"><circle cx="184.7" cy="296.6" r="2.80" fill="#e2e1bb" stroke="#dad9a8" stroke-width="1.1" stroke-opacity="1.0"/></g>
<g opacity="0.85"><circle cx="279.9" cy="262.0" r="2.80" fill="#e2e1bb" stroke="#dad9a8" stroke-width="1.1" stroke-opacity="1.0"/></g>
<g opacity="0.85"><circle cx="299.1" cy="271.2" r="2.80" fill="#e2e1bb" stroke="#dad9a8" stroke-width="1.1" stroke-opacity="1.0"/></g>
<g opacity="0.85"><circle cx="289.4" cy="278.5" r="2.80" fill="#e2e1bb" stroke="#dad9a8" stroke-width="1.1" stroke-opacity="1.0"/></g>
<g opacity="0.85"><circle cx="101.9" cy="251.5" r="2.80" fill="#e2e1bb" stroke="#dad9a8" stroke-width="1.1" stroke-opacity="1.0"/></g>
<g opacity="0.85"><circle cx="123.1" cy="284.3" r="2.80" fill="#e2e1bb" stroke="#dad9a8" stroke-width="1.1" stroke-opacity="1.0"/></g>
<g opacity="0.85"><circle cx="160.0" cy="296.0" r="2.80" fill="#e2e1bb" stroke="#dad9a8" stroke-width="1.1" stroke-opacity="1.0"/></g>
<g opacity="0.85"><circle cx="153.4" cy="302.6" r="2.80" fill="#e2e1bb" stroke="#dad9a8" stroke-width="1.1" stroke-opacity="1.0"/></g>
<g opacity="0.85"><circle cx="163.2" cy="304.0" r="2.80" fill="#e2e1bb" stroke="#dad9a8" stroke-width="1.1" stroke-opacity="1.0"/></g>
<g opacity="0.85"><circle cx="174.2" cy="298.9" r="2.80" fill="#e2e1bb" stroke="#dad9a8" stroke-width="1.1" stroke-opacity="1.0"/></g>
<g opacity="0.85"><circle cx="177.8" cy="297.4" r="2.80" fill="#e2e1bb" stroke="#dad9a8" stroke-width="1.1" stroke-opacity="1.0"/></g>
<g opacity="0.85"><circle cx="167.6" cy="308.4" r="2.80" fill="#e2e1bb" stroke="#dad9a8" stroke-width="1.1" stroke-opacity="1.0"/></g>
<g opacity="0.85"><circle cx="174.9" cy="309.9" r="2.80" fill="#e2e1bb" stroke="#dad9a8" stroke-width="1.1" stroke-opacity="1.0"/></g>
<g opacity="0.85"><circle cx="147.9" cy="312.8" r="2.80" fill="#e2e1bb" stroke="#dad9a8" stroke-width="1.1" stroke-opacity="1.0"/></g>
<g opacity="0.85"><circle cx="155.9" cy="314.2" r="2.80" fill="#e2e1bb" stroke="#dad9a8" stroke-width="1.1" stroke-opacity="1.0"/></g>
<g opacity="0.85"><circle cx="151.5" cy="320.1" r="2.80" fill="#e2e1bb" stroke="#dad9a8" stroke-width="1.1" stroke-opacity="1.0"/></g>
<g opacity="0.85"><circle cx="123.8" cy="323.0" r="2.80" fill="#e2e1bb" stroke="#dad9a8" stroke-width="1.1" stroke-opacity="1.0"/></g>
<g opacity="0.85"><circle cx="129.6" cy="325.9" r="2.80" fill="#e2e1bb" stroke="#dad9a8" stroke-width="1.1" stroke-opacity="1.0"/></g>
<g opacity="0.85"><circle cx="127.4" cy="334.7" r="2.80" fill="#e2e1bb" stroke="#dad9a8" stroke-width="1.1" stroke-opacity="1.0"/></g>
<g opacity="0.85"><circle cx="136.9" cy="336.9" r="2.80" fill="#e2e1bb" stroke="#dad9a8" stroke-width="1.1" stroke-opacity="1.0"/></g>
<g opacity="0.85"><circle cx="142.8" cy="330.3" r="2.80" fill="#e2e1bb" stroke="#dad9a8" stroke-width="1.1" stroke-opacity="1.0"/></g>
<g opacity="0.85"><circle cx="150.8" cy="331.8" r="2.80" fill="#e2e1bb" stroke="#dad9a8" stroke-width="1.1" stroke-opacity="1.0"/></g>
<g opacity="0.85"><circle cx="129.6" cy="343.4" r="2.80" fill="#e2e1bb" stroke="#dad9a8" stroke-width="1.1" stroke-opacity="1.0"/></g>
<g opacity="0.85"><circle cx="138.4" cy="344.9" r="2.80" fill="#e2e1bb" stroke="#dad9a8" stroke-width="1.1" stroke-opacity="1.0"/></g>
<g opacity="0.85"><circle cx="141.3" cy="344.9" r="2.80" fill="#e2e1bb" stroke="#dad9a8" stroke-width="1.1" stroke-opacity="1.0"/></g>
<g opacity="0.85"><circle cx="122.3" cy="306.9" r="2.80" fill="#e2e1bb" stroke="#dad9a8" stroke-width="1.1" stroke-opacity="1.0"/></g>
<g opacity="0.85"><circle cx="184.3" cy="302.0" r="2.80" fill="#e2e1bb" stroke="#dad9a8" stroke-width="1.1" stroke-opacity="1.0"/></g>
<g opacity="0.85"><circle cx="184.3" cy="306.0" r="2.80" fill="#e2e1bb" stroke="#dad9a8" stroke-width="1.1" stroke-opacity="1.0"/></g>
<g opacity="0.85"><circle cx="205.3" cy="307.3" r="2.80" fill="#e2e1bb" stroke="#dad9a8" stroke-width="1.1" stroke-opacity="1.0"/></g>
<g opacity="0.85"><circle cx="223.7" cy="308.2" r="2.80" fill="#e2e1bb" stroke="#dad9a8" stroke-width="1.1" stroke-opacity="1.0"/></g>
<g opacity="0.85"><circle cx="152.8" cy="302.0" r="2.80" fill="#e2e1bb" stroke="#dad9a8" stroke-width="1.1" stroke-opacity="1.0"/></g>
<g opacity="0.85"><circle cx="162.4" cy="302.9" r="2.80" fill="#e2e1bb" stroke="#dad9a8" stroke-width="1.1" stroke-opacity="1.0"/></g>
<g opacity="0.85"><circle cx="200.0" cy="282.8" r="2.80" fill="#e2e1bb" stroke="#dad9a8" stroke-width="1.1" stroke-opacity="1.0"/></g>
<g opacity="0.85"><circle cx="198.3" cy="291.5" r="2.80" fill="#e2e1bb" stroke="#dad9a8" stroke-width="1.1" stroke-opacity="1.0"/></g>
<g opacity="0.85"><circle cx="194.0" cy="290.7" r="2.80" fill="#e2e1bb" stroke="#dad9a8" stroke-width="1.1" stroke-opacity="1.0"/></g>
<g opacity="0.85"><circle cx="101.4" cy="250.4" r="2.80" fill="#e2e1bb" stroke="#dad9a8" stroke-width="1.1" stroke-opacity="1.0"/></g>
<g opacity="0.85"><circle cx="193.9" cy="290.7" r="2.80" fill="#e2e1bb" stroke="#dad9a8" stroke-width="1.1" stroke-opacity="1.0"/></g>
<g opacity="0.85"><circle cx="199.2" cy="285.0" r="2.80" fill="#e2e1bb" stroke="#dad9a8" stroke-width="1.1" stroke-opacity="1.0"/></g>
<g opacity="0.85"><circle cx="205.8" cy="306.5" r="2.80" fill="#e2e1bb" stroke="#dad9a8" stroke-width="1.1" stroke-opacity="1.0"/></g>
<g opacity="0.85"><circle cx="138.3" cy="374.8" r="2.80" fill="#e2e1bb" stroke="#dad9a8" stroke-width="1.1" stroke-opacity="1.0"/></g>
<g opacity="0.85"><circle cx="140.0" cy="365.1" r="2.80" fill="#e2e1bb" stroke="#dad9a8" stroke-width="1.1" stroke-opacity="1.0"/></g>
<g opacity="0.85"><circle cx="135.6" cy="359.0" r="2.80" fill="#e2e1bb" stroke="#dad9a8" stroke-width="1.1" stroke-opacity="1.0"/></g>
<g opacity="0.85"><circle cx="127.1" cy="335.5" r="2.80" fill="#e2e1bb" stroke="#dad9a8" stroke-width="1.1" stroke-opacity="1.0"/></g>
<g opacity="0.85"><circle cx="137.7" cy="336.8" r="2.80" fill="#e2e1bb" stroke="#dad9a8" stroke-width="1.1" stroke-opacity="1.0"/></g>
<g opacity="0.85"><circle cx="119.3" cy="302.6" r="2.80" fill="#e2e1bb" stroke="#dad9a8" stroke-width="1.1" stroke-opacity="1.0"/></g>
<g opacity="0.85"><circle cx="140.3" cy="365.7" r="2.80" fill="#e2e1bb" stroke="#dad9a8" stroke-width="1.1" stroke-opacity="1.0"/></g>
<g opacity="0.85"><circle cx="166.9" cy="267.5" r="2.80" fill="#e2e1bb" stroke="#dad9a8" stroke-width="1.1" stroke-opacity="1.0"/></g>
<g opacity="0.85"><circle cx="165.1" cy="276.3" r="2.80" fill="#e2e1bb" stroke="#dad9a8" stroke-width="1.1" stroke-opacity="1.0"/></g>
<g opacity="0.8"><circle cx="148.6" cy="314.3" r="2.80" fill="#e2e1bb" stroke="#dad9a8" stroke-width="1.1" stroke-opacity="1.0"/></g>
<g opacity="0.8"><circle cx="135.8" cy="357.4" r="2.80" fill="#e2e1bb" stroke="#dad9a8" stroke-width="1.1" stroke-opacity="1.0"/></g>
<g opacity="0.8"><circle cx="133.6" cy="335.3" r="2.80" fill="#e2e1bb" stroke="#dad9a8" stroke-width="1.1" stroke-opacity="1.0"/></g>
<g opacity="0.8"><circle cx="124.1" cy="319.8" r="2.80" fill="#e2e1bb" stroke="#dad9a8" stroke-width="1.1" stroke-opacity="1.0"/></g>
<g opacity="0.8"><circle cx="139.9" cy="364.8" r="2.80" fill="#e2e1bb" stroke="#dad9a8" stroke-width="1.1" stroke-opacity="1.0"/></g>
<g opacity="0.8"><circle cx="151.0" cy="315.5" r="2.80" fill="#e2e1bb" stroke="#dad9a8" stroke-width="1.1" stroke-opacity="1.0"/></g>
<g opacity="0.8"><circle cx="152.8" cy="312.8" r="2.80" fill="#e2e1bb" stroke="#dad9a8" stroke-width="1.1" stroke-opacity="1.0"/></g>
<g opacity="0.8"><circle cx="127.2" cy="328.0" r="2.80" fill="#e2e1bb" stroke="#dad9a8" stroke-width="1.1" stroke-opacity="1.0"/></g>
<g opacity="0.8"><circle cx="139.8" cy="326.9" r="2.80" fill="#e2e1bb" stroke="#dad9a8" stroke-width="1.1" stroke-opacity="1.0"/></g>
<g opacity="0.8"><circle cx="123.2" cy="317.3" r="2.80" fill="#e2e1bb" stroke="#dad9a8" stroke-width="1.1" stroke-opacity="1.0"/></g>
<g opacity="0.8"><circle cx="143.2" cy="338.5" r="2.80" fill="#e2e1bb" stroke="#dad9a8" stroke-width="1.1" stroke-opacity="1.0"/></g>
<g opacity="0.8"><circle cx="144.3" cy="321.4" r="2.80" fill="#e2e1bb" stroke="#dad9a8" stroke-width="1.1" stroke-opacity="1.0"/></g>
<g opacity="0.8"><circle cx="135.6" cy="340.8" r="2.80" fill="#e2e1bb" stroke="#dad9a8" stroke-width="1.1" stroke-opacity="1.0"/></g>
<g opacity="0.8"><circle cx="135.9" cy="346.1" r="2.80" fill="#e2e1bb" stroke="#dad9a8" stroke-width="1.1" stroke-opacity="1.0"/></g>
<g opacity="0.8"><circle cx="136.8" cy="330.7" r="2.80" fill="#e2e1bb" stroke="#dad9a8" stroke-width="1.1" stroke-opacity="1.0"/></g>
<g opacity="0.8"><circle cx="123.4" cy="330.1" r="2.80" fill="#e2e1bb" stroke="#dad9a8" stroke-width="1.1" stroke-opacity="1.0"/></g>
<g opacity="0.8"><circle cx="139.2" cy="326.5" r="2.80" fill="#e2e1bb" stroke="#dad9a8" stroke-width="1.1" stroke-opacity="1.0"/></g>
<g opacity="0.8"><circle cx="138.7" cy="367.0" r="2.80" fill="#e2e1bb" stroke="#dad9a8" stroke-width="1.1" stroke-opacity="1.0"/></g>
<g opacity="0.8"><circle cx="120.8" cy="324.6" r="2.80" fill="#e2e1bb" stroke="#dad9a8" stroke-width="1.1" stroke-opacity="1.0"/></g>
<g opacity="0.8"><circle cx="155.7" cy="319.2" r="2.80" fill="#e2e1bb" stroke="#dad9a8" stroke-width="1.1" stroke-opacity="1.0"/></g>
<g opacity="0.8"><circle cx="139.1" cy="364.4" r="2.80" fill="#e2e1bb" stroke="#dad9a8" stroke-width="1.1" stroke-opacity="1.0"/></g>
<g opacity="0.8"><circle cx="126.7" cy="318.4" r="2.80" fill="#e2e1bb" stroke="#dad9a8" stroke-width="1.1" stroke-opacity="1.0"/></g>
<g opacity="0.8"><circle cx="139.3" cy="322.3" r="2.80" fill="#e2e1bb" stroke="#dad9a8" stroke-width="1.1" stroke-opacity="1.0"/></g>
<g opacity="0.8"><circle cx="119.5" cy="312.7" r="2.80" fill="#e2e1bb" stroke="#dad9a8" stroke-width="1.1" stroke-opacity="1.0"/></g>
<g opacity="0.8"><circle cx="144.7" cy="325.2" r="2.80" fill="#e2e1bb" stroke="#dad9a8" stroke-width="1.1" stroke-opacity="1.0"/></g>
<g opacity="0.8"><circle cx="142.4" cy="361.8" r="2.80" fill="#e2e1bb" stroke="#dad9a8" stroke-width="1.1" stroke-opacity="1.0"/></g>
<g opacity="0.8"><circle cx="144.5" cy="327.6" r="2.80" fill="#e2e1bb" stroke="#dad9a8" stroke-width="1.1" stroke-opacity="1.0"/></g>
<g opacity="0.8"><circle cx="151.5" cy="318.5" r="2.80" fill="#e2e1bb" stroke="#dad9a8" stroke-width="1.1" stroke-opacity="1.0"/></g>
<g opacity="0.8"><circle cx="133.1" cy="353.5" r="2.80" fill="#e2e1bb" stroke="#dad9a8" stroke-width="1.1" stroke-opacity="1.0"/></g>
<g opacity="0.8"><circle cx="152.4" cy="317.8" r="2.80" fill="#e2e1bb" stroke="#dad9a8" stroke-width="1.1" stroke-opacity="1.0"/></g>
<g opacity="0.8"><circle cx="142.6" cy="346.5" r="2.80" fill="#e2e1bb" stroke="#dad9a8" stroke-width="1.1" stroke-opacity="1.0"/></g>
<g opacity="0.8"><circle cx="119.4" cy="310.5" r="2.80" fill="#e2e1bb" stroke="#dad9a8" stroke-width="1.1" stroke-opacity="1.0"/></g>
<g opacity="0.8"><circle cx="143.9" cy="330.3" r="2.80" fill="#e2e1bb" stroke="#dad9a8" stroke-width="1.1" stroke-opacity="1.0"/></g>
<g opacity="0.8"><circle cx="139.5" cy="362.7" r="2.80" fill="#e2e1bb" stroke="#dad9a8" stroke-width="1.1" stroke-opacity="1.0"/></g>
<g opacity="0.8"><circle cx="123.5" cy="315.9" r="2.80" fill="#e2e1bb" stroke="#dad9a8" stroke-width="1.1" stroke-opacity="1.0"/></g>
<g opacity="0.8"><circle cx="122.5" cy="325.0" r="2.80" fill="#e2e1bb" stroke="#dad9a8" stroke-width="1.1" stroke-opacity="1.0"/></g>
<g opacity="0.8"><circle cx="127.4" cy="340.9" r="2.80" fill="#e2e1bb" stroke="#dad9a8" stroke-width="1.1" stroke-opacity="1.0"/></g>
<g opacity="0.8"><circle cx="144.2" cy="333.2" r="2.80" fill="#e2e1bb" stroke="#dad9a8" stroke-width="1.1" stroke-opacity="1.0"/></g>
<g opacity="0.8"><circle cx="141.6" cy="324.5" r="2.80" fill="#e2e1bb" stroke="#dad9a8" stroke-width="1.1" stroke-opacity="1.0"/></g>
<g opacity="0.8"><circle cx="145.1" cy="331.1" r="2.80" fill="#e2e1bb" stroke="#dad9a8" stroke-width="1.1" stroke-opacity="1.0"/></g>
<g opacity="0.8"><circle cx="139.3" cy="344.9" r="2.80" fill="#e2e1bb" stroke="#dad9a8" stroke-width="1.1" stroke-opacity="1.0"/></g>
<g opacity="0.8"><circle cx="152.2" cy="312.2" r="2.80" fill="#e2e1bb" stroke="#dad9a8" stroke-width="1.1" stroke-opacity="1.0"/></g>
<g opacity="0.8"><circle cx="149.3" cy="332.6" r="2.80" fill="#e2e1bb" stroke="#dad9a8" stroke-width="1.1" stroke-opacity="1.0"/></g>
<g opacity="0.8"><circle cx="149.2" cy="331.7" r="2.80" fill="#e2e1bb" stroke="#dad9a8" stroke-width="1.1" stroke-opacity="1.0"/></g>
<g opacity="0.8"><circle cx="132.1" cy="352.5" r="2.80" fill="#e2e1bb" stroke="#dad9a8" stroke-width="1.1" stroke-opacity="1.0"/></g>
<path d="M68.0 156.0L71.0 156.0L76.0 162.0L80.0 168.0L84.0 175.0L86.0 183.0L87.0 192.0L91.0 200.0L95.0 206.0L95.0 213.0L96.0 222.0L97.0 232.0L100.0 240.0L100.0 244.0L98.0 244.0L94.0 237.0L90.0 227.0L87.0 218.0L85.0 210.0L82.0 202.0L80.0 194.0L77.0 184.0L72.0 177.0L70.0 167.0L68.0 161.0Z" fill="#c6c56b" fill-opacity="0.95"/>
<g opacity="0.9"><path d="M103.3 239.5L106.1 244.8L100.5 244.8Z" fill="#cfcf86" stroke="#c2c164" stroke-width="1.1" stroke-opacity="1.0"/></g>
<g opacity="0.9"><path d="M92.5 222.9L95.3 228.3L89.7 228.3Z" fill="#cfcf86" stroke="#c2c164" stroke-width="1.1" stroke-opacity="1.0"/></g>
<g opacity="0.9"><path d="M100.5 235.4L103.3 240.7L97.7 240.7Z" fill="#cfcf86" stroke="#c2c164" stroke-width="1.1" stroke-opacity="1.0"/></g>
<g opacity="0.9"><path d="M98.1 219.7L100.9 225.0L95.3 225.0Z" fill="#cfcf86" stroke="#c2c164" stroke-width="1.1" stroke-opacity="1.0"/></g>
<g opacity="0.9"><path d="M90.3 219.5L93.1 224.8L87.5 224.8Z" fill="#cfcf86" stroke="#c2c164" stroke-width="1.1" stroke-opacity="1.0"/></g>
<g opacity="0.9"><path d="M97.1 207.1L99.9 212.4L94.3 212.4Z" fill="#cfcf86" stroke="#c2c164" stroke-width="1.1" stroke-opacity="1.0"/></g>
<g opacity="0.9"><path d="M88.2 177.3L91.0 182.6L85.4 182.6Z" fill="#cfcf86" stroke="#c2c164" stroke-width="1.1" stroke-opacity="1.0"/></g>
<g opacity="0.9"><path d="M99.4 235.5L102.2 240.8L96.6 240.8Z" fill="#cfcf86" stroke="#c2c164" stroke-width="1.1" stroke-opacity="1.0"/></g>
<g opacity="0.9"><path d="M80.8 187.7L83.6 193.0L78.0 193.0Z" fill="#cfcf86" stroke="#c2c164" stroke-width="1.1" stroke-opacity="1.0"/></g>
<g opacity="0.9"><path d="M85.4 175.2L88.2 180.5L82.6 180.5Z" fill="#cfcf86" stroke="#c2c164" stroke-width="1.1" stroke-opacity="1.0"/></g>
<g opacity="0.9"><path d="M67.4 157.5L70.2 162.8L64.6 162.8Z" fill="#cfcf86" stroke="#c2c164" stroke-width="1.1" stroke-opacity="1.0"/></g>
<g opacity="0.9"><path d="M71.3 166.1L74.1 171.4L68.5 171.4Z" fill="#cfcf86" stroke="#c2c164" stroke-width="1.1" stroke-opacity="1.0"/></g>
<g opacity="0.9"><path d="M103.8 243.5L106.6 248.8L101.0 248.8Z" fill="#cfcf86" stroke="#c2c164" stroke-width="1.1" stroke-opacity="1.0"/></g>
<g opacity="0.9"><path d="M83.0 186.7L85.8 192.1L80.2 192.1Z" fill="#cfcf86" stroke="#c2c164" stroke-width="1.1" stroke-opacity="1.0"/></g>
<g opacity="0.9"><path d="M98.9 240.3L101.7 245.6L96.1 245.6Z" fill="#cfcf86" stroke="#c2c164" stroke-width="1.1" stroke-opacity="1.0"/></g>
<g opacity="0.9"><path d="M73.4 161.7L76.2 167.0L70.6 167.0Z" fill="#cfcf86" stroke="#c2c164" stroke-width="1.1" stroke-opacity="1.0"/></g>
<g opacity="0.9"><path d="M73.8 165.2L76.6 170.5L71.0 170.5Z" fill="#cfcf86" stroke="#c2c164" stroke-width="1.1" stroke-opacity="1.0"/></g>
<g opacity="0.9"><path d="M101.6 237.9L104.4 243.2L98.8 243.2Z" fill="#cfcf86" stroke="#c2c164" stroke-width="1.1" stroke-opacity="1.0"/></g>
<g opacity="0.9"><path d="M78.4 163.1L81.2 168.4L75.6 168.4Z" fill="#cfcf86" stroke="#c2c164" stroke-width="1.1" stroke-opacity="1.0"/></g>
<g opacity="0.9"><path d="M75.8 172.3L78.6 177.6L73.0 177.6Z" fill="#cfcf86" stroke="#c2c164" stroke-width="1.1" stroke-opacity="1.0"/></g>
<g opacity="0.9"><path d="M98.1 232.8L100.9 238.1L95.3 238.1Z" fill="#cfcf86" stroke="#c2c164" stroke-width="1.1" stroke-opacity="1.0"/></g>
<g opacity="0.9"><path d="M90.3 195.2L93.1 200.5L87.5 200.5Z" fill="#cfcf86" stroke="#c2c164" stroke-width="1.1" stroke-opacity="1.0"/></g>
<g opacity="0.9"><path d="M83.1 182.1L85.9 187.4L80.3 187.4Z" fill="#cfcf86" stroke="#c2c164" stroke-width="1.1" stroke-opacity="1.0"/></g>
<g opacity="0.9"><path d="M90.1 197.9L92.9 203.2L87.3 203.2Z" fill="#cfcf86" stroke="#c2c164" stroke-width="1.1" stroke-opacity="1.0"/></g>
<g opacity="0.9"><path d="M97.9 236.2L100.7 241.6L95.1 241.6Z" fill="#cfcf86" stroke="#c2c164" stroke-width="1.1" stroke-opacity="1.0"/></g>
<g opacity="0.9"><path d="M81.7 170.8L84.5 176.1L78.9 176.1Z" fill="#cfcf86" stroke="#c2c164" stroke-width="1.1" stroke-opacity="1.0"/></g>
<g opacity="0.9"><path d="M71.9 154.2L74.7 159.6L69.1 159.6Z" fill="#cfcf86" stroke="#c2c164" stroke-width="1.1" stroke-opacity="1.0"/></g>
<g opacity="0.9"><path d="M100.4 201.0L103.2 206.3L97.6 206.3Z" fill="#cfcf86" stroke="#c2c164" stroke-width="1.1" stroke-opacity="1.0"/></g>
<g opacity="0.9"><path d="M94.3 231.6L97.1 236.9L91.5 236.9Z" fill="#cfcf86" stroke="#c2c164" stroke-width="1.1" stroke-opacity="1.0"/></g>
<g opacity="0.9"><path d="M97.5 206.4L100.3 211.7L94.7 211.7Z" fill="#cfcf86" stroke="#c2c164" stroke-width="1.1" stroke-opacity="1.0"/></g>
<g opacity="0.9"><path d="M98.1 200.7L100.9 206.0L95.3 206.0Z" fill="#cfcf86" stroke="#c2c164" stroke-width="1.1" stroke-opacity="1.0"/></g>
<g opacity="0.9"><path d="M81.9 166.4L84.7 171.8L79.1 171.8Z" fill="#cfcf86" stroke="#c2c164" stroke-width="1.1" stroke-opacity="1.0"/></g>
<g opacity="0.9"><path d="M85.2 192.7L88.0 198.0L82.4 198.0Z" fill="#cfcf86" stroke="#c2c164" stroke-width="1.1" stroke-opacity="1.0"/></g>
<g opacity="0.9"><path d="M71.4 167.1L74.2 172.4L68.6 172.4Z" fill="#cfcf86" stroke="#c2c164" stroke-width="1.1" stroke-opacity="1.0"/></g>
<g opacity="0.9"><path d="M94.3 233.3L97.1 238.6L91.5 238.6Z" fill="#cfcf86" stroke="#c2c164" stroke-width="1.1" stroke-opacity="1.0"/></g>
<g opacity="0.9"><path d="M83.1 194.1L85.9 199.4L80.3 199.4Z" fill="#cfcf86" stroke="#c2c164" stroke-width="1.1" stroke-opacity="1.0"/></g>
<g opacity="0.9"><path d="M78.3 162.0L81.1 167.3L75.5 167.3Z" fill="#cfcf86" stroke="#c2c164" stroke-width="1.1" stroke-opacity="1.0"/></g>
<g opacity="0.9"><path d="M100.8 230.1L103.6 235.4L98.0 235.4Z" fill="#cfcf86" stroke="#c2c164" stroke-width="1.1" stroke-opacity="1.0"/></g>
<g opacity="0.9"><path d="M88.5 190.0L91.3 195.3L85.7 195.3Z" fill="#cfcf86" stroke="#c2c164" stroke-width="1.1" stroke-opacity="1.0"/></g>
<g opacity="0.9"><path d="M79.4 180.2L82.2 185.5L76.6 185.5Z" fill="#cfcf86" stroke="#c2c164" stroke-width="1.1" stroke-opacity="1.0"/></g>
<g opacity="0.9"><path d="M76.8 172.2L79.6 177.5L74.0 177.5Z" fill="#cfcf86" stroke="#c2c164" stroke-width="1.1" stroke-opacity="1.0"/></g>
<g opacity="0.9"><path d="M66.4 156.4L69.2 161.8L63.6 161.8Z" fill="#cfcf86" stroke="#c2c164" stroke-width="1.1" stroke-opacity="1.0"/></g>
<g opacity="0.9"><path d="M94.8 234.5L97.6 239.8L92.0 239.8Z" fill="#cfcf86" stroke="#c2c164" stroke-width="1.1" stroke-opacity="1.0"/></g>
<g opacity="0.9"><path d="M94.0 233.4L96.8 238.8L91.2 238.8Z" fill="#cfcf86" stroke="#c2c164" stroke-width="1.1" stroke-opacity="1.0"/></g>
<g opacity="0.9"><path d="M95.9 223.1L98.7 228.4L93.1 228.4Z" fill="#cfcf86" stroke="#c2c164" stroke-width="1.1" stroke-opacity="1.0"/></g>
<g opacity="0.9"><path d="M99.5 238.1L102.3 243.4L96.7 243.4Z" fill="#cfcf86" stroke="#c2c164" stroke-width="1.1" stroke-opacity="1.0"/></g>
<g opacity="0.9"><path d="M100.6 232.7L103.4 238.0L97.8 238.0Z" fill="#cfcf86" stroke="#c2c164" stroke-width="1.1" stroke-opacity="1.0"/></g>
<g opacity="0.9"><path d="M78.9 166.5L81.7 171.8L76.1 171.8Z" fill="#cfcf86" stroke="#c2c164" stroke-width="1.1" stroke-opacity="1.0"/></g>
<g opacity="0.9"><path d="M84.9 198.2L87.7 203.5L82.1 203.5Z" fill="#cfcf86" stroke="#c2c164" stroke-width="1.1" stroke-opacity="1.0"/></g>
<g opacity="0.9"><path d="M87.7 191.9L90.5 197.2L84.9 197.2Z" fill="#cfcf86" stroke="#c2c164" stroke-width="1.1" stroke-opacity="1.0"/></g>
<g opacity="0.9"><path d="M86.0 200.1L88.8 205.4L83.2 205.4Z" fill="#cfcf86" stroke="#c2c164" stroke-width="1.1" stroke-opacity="1.0"/></g>
<g opacity="0.9"><path d="M66.6 152.7L69.4 158.1L63.8 158.1Z" fill="#cfcf86" stroke="#c2c164" stroke-width="1.1" stroke-opacity="1.0"/></g>
<g opacity="0.9"><path d="M93.1 200.9L95.9 206.2L90.3 206.2Z" fill="#cfcf86" stroke="#c2c164" stroke-width="1.1" stroke-opacity="1.0"/></g>
<g opacity="0.9"><path d="M94.8 203.8L97.6 209.1L92.0 209.1Z" fill="#cfcf86" stroke="#c2c164" stroke-width="1.1" stroke-opacity="1.0"/></g>
<g opacity="0.9"><path d="M94.1 227.5L96.9 232.8L91.3 232.8Z" fill="#cfcf86" stroke="#c2c164" stroke-width="1.1" stroke-opacity="1.0"/></g>
<g opacity="0.9"><path d="M88.6 189.3L91.4 194.6L85.8 194.6Z" fill="#cfcf86" stroke="#c2c164" stroke-width="1.1" stroke-opacity="1.0"/></g>
<g opacity="0.9"><path d="M83.5 203.2L86.3 208.6L80.7 208.6Z" fill="#cfcf86" stroke="#c2c164" stroke-width="1.1" stroke-opacity="1.0"/></g>
<g opacity="0.9"><path d="M88.4 178.8L91.2 184.1L85.6 184.1Z" fill="#cfcf86" stroke="#c2c164" stroke-width="1.1" stroke-opacity="1.0"/></g>
<g opacity="0.9"><path d="M78.6 174.5L81.4 179.8L75.8 179.8Z" fill="#cfcf86" stroke="#c2c164" stroke-width="1.1" stroke-opacity="1.0"/></g>
<g opacity="0.9"><path d="M98.0 219.5L100.8 224.9L95.2 224.9Z" fill="#cfcf86" stroke="#c2c164" stroke-width="1.1" stroke-opacity="1.0"/></g>
<g opacity="0.9"><path d="M93.9 212.0L96.7 217.3L91.1 217.3Z" fill="#cfcf86" stroke="#c2c164" stroke-width="1.1" stroke-opacity="1.0"/></g>
<g opacity="0.9"><path d="M85.8 201.5L88.6 206.8L83.0 206.8Z" fill="#cfcf86" stroke="#c2c164" stroke-width="1.1" stroke-opacity="1.0"/></g>
<g opacity="0.9"><path d="M80.1 180.3L82.9 185.6L77.3 185.6Z" fill="#cfcf86" stroke="#c2c164" stroke-width="1.1" stroke-opacity="1.0"/></g>
<g opacity="0.9"><path d="M99.1 237.4L101.9 242.7L96.3 242.7Z" fill="#cfcf86" stroke="#c2c164" stroke-width="1.1" stroke-opacity="1.0"/></g>
<g opacity="0.9"><path d="M88.7 200.7L91.5 206.0L85.9 206.0Z" fill="#cfcf86" stroke="#c2c164" stroke-width="1.1" stroke-opacity="1.0"/></g>
<g opacity="0.9"><path d="M73.6 162.1L76.4 167.4L70.8 167.4Z" fill="#cfcf86" stroke="#c2c164" stroke-width="1.1" stroke-opacity="1.0"/></g>
<g opacity="0.9"><path d="M71.1 158.0L73.9 163.3L68.3 163.3Z" fill="#cfcf86" stroke="#c2c164" stroke-width="1.1" stroke-opacity="1.0"/></g>
<g opacity="0.9"><path d="M85.8 198.9L88.6 204.2L83.0 204.2Z" fill="#cfcf86" stroke="#c2c164" stroke-width="1.1" stroke-opacity="1.0"/></g>
<g opacity="0.9"><path d="M75.4 160.0L78.2 165.3L72.6 165.3Z" fill="#cfcf86" stroke="#c2c164" stroke-width="1.1" stroke-opacity="1.0"/></g>
<g opacity="0.9"><path d="M99.3 233.7L102.1 239.0L96.5 239.0Z" fill="#cfcf86" stroke="#c2c164" stroke-width="1.1" stroke-opacity="1.0"/></g>
<g opacity="0.9"><path d="M80.4 169.1L83.2 174.4L77.6 174.4Z" fill="#cfcf86" stroke="#c2c164" stroke-width="1.1" stroke-opacity="1.0"/></g>
<g opacity="0.9"><path d="M70.0 154.3L72.8 159.7L67.2 159.7Z" fill="#cfcf86" stroke="#c2c164" stroke-width="1.1" stroke-opacity="1.0"/></g>
<g opacity="0.9"><path d="M90.0 216.4L92.8 221.7L87.2 221.7Z" fill="#cfcf86" stroke="#c2c164" stroke-width="1.1" stroke-opacity="1.0"/></g>
<g opacity="0.9"><path d="M97.5 218.7L100.3 224.0L94.7 224.0Z" fill="#cfcf86" stroke="#c2c164" stroke-width="1.1" stroke-opacity="1.0"/></g>
<g opacity="0.9"><path d="M79.3 164.2L82.1 169.5L76.5 169.5Z" fill="#cfcf86" stroke="#c2c164" stroke-width="1.1" stroke-opacity="1.0"/></g>
<g opacity="0.9"><path d="M74.4 160.2L77.2 165.5L71.6 165.5Z" fill="#cfcf86" stroke="#c2c164" stroke-width="1.1" stroke-opacity="1.0"/></g>
<g opacity="0.9"><path d="M71.9 165.9L74.7 171.2L69.1 171.2Z" fill="#cfcf86" stroke="#c2c164" stroke-width="1.1" stroke-opacity="1.0"/></g>
<g opacity="0.9"><path d="M75.5 172.4L78.3 177.8L72.7 177.8Z" fill="#cfcf86" stroke="#c2c164" stroke-width="1.1" stroke-opacity="1.0"/></g>
<g opacity="0.9"><path d="M93.9 198.4L96.7 203.7L91.1 203.7Z" fill="#cfcf86" stroke="#c2c164" stroke-width="1.1" stroke-opacity="1.0"/></g>
<g opacity="0.9"><path d="M75.1 168.5L77.9 173.8L72.3 173.8Z" fill="#cfcf86" stroke="#c2c164" stroke-width="1.1" stroke-opacity="1.0"/></g>
<g opacity="0.9"><path d="M90.5 211.2L93.3 216.6L87.7 216.6Z" fill="#cfcf86" stroke="#c2c164" stroke-width="1.1" stroke-opacity="1.0"/></g>
<g opacity="0.9"><path d="M86.8 186.7L89.6 192.1L84.0 192.1Z" fill="#cfcf86" stroke="#c2c164" stroke-width="1.1" stroke-opacity="1.0"/></g>
<g opacity="0.9"><path d="M91.2 194.6L94.0 199.9L88.4 199.9Z" fill="#cfcf86" stroke="#c2c164" stroke-width="1.1" stroke-opacity="1.0"/></g>
<g opacity="0.9"><path d="M95.0 211.1L97.8 216.4L92.2 216.4Z" fill="#cfcf86" stroke="#c2c164" stroke-width="1.1" stroke-opacity="1.0"/></g>
<g opacity="0.9"><path d="M92.3 227.7L95.1 233.0L89.5 233.0Z" fill="#cfcf86" stroke="#c2c164" stroke-width="1.1" stroke-opacity="1.0"/></g>
<g opacity="0.9"><path d="M78.5 180.7L81.3 186.1L75.7 186.1Z" fill="#cfcf86" stroke="#c2c164" stroke-width="1.1" stroke-opacity="1.0"/></g>
<g opacity="0.9"><path d="M99.6 200.2L102.4 205.5L96.8 205.5Z" fill="#cfcf86" stroke="#c2c164" stroke-width="1.1" stroke-opacity="1.0"/></g>
<g opacity="0.9"><path d="M88.2 198.1L91.0 203.4L85.4 203.4Z" fill="#cfcf86" stroke="#c2c164" stroke-width="1.1" stroke-opacity="1.0"/></g>
<g opacity="0.9"><path d="M100.9 229.6L103.7 234.9L98.1 234.9Z" fill="#cfcf86" stroke="#c2c164" stroke-width="1.1" stroke-opacity="1.0"/></g>
<g opacity="0.9"><path d="M100.1 201.1L102.9 206.4L97.3 206.4Z" fill="#cfcf86" stroke="#c2c164" stroke-width="1.1" stroke-opacity="1.0"/></g>
<g opacity="0.9"><path d="M87.8 203.4L90.6 198.0L85.0 198.0Z" fill="#cfcf86" stroke="#c2c164" stroke-width="1.1" stroke-opacity="1.0"/></g>
<g opacity="0.9"><path d="M84.2 182.5L87.0 177.2L81.4 177.2Z" fill="#cfcf86" stroke="#c2c164" stroke-width="1.1" stroke-opacity="1.0"/></g>
<g opacity="0.9"><path d="M99.5 236.4L102.3 231.0L96.7 231.0Z" fill="#cfcf86" stroke="#c2c164" stroke-width="1.1" stroke-opacity="1.0"/></g>
<g opacity="0.9"><path d="M77.6 172.7L80.4 167.4L74.8 167.4Z" fill="#cfcf86" stroke="#c2c164" stroke-width="1.1" stroke-opacity="1.0"/></g>
<g opacity="0.9"><path d="M67.9 156.9L70.7 151.6L65.1 151.6Z" fill="#cfcf86" stroke="#c2c164" stroke-width="1.1" stroke-opacity="1.0"/></g>
<g opacity="0.9"><path d="M94.2 204.1L97.0 198.7L91.4 198.7Z" fill="#cfcf86" stroke="#c2c164" stroke-width="1.1" stroke-opacity="1.0"/></g>
<g opacity="0.9"><path d="M86.2 197.5L89.0 192.2L83.4 192.2Z" fill="#cfcf86" stroke="#c2c164" stroke-width="1.1" stroke-opacity="1.0"/></g>
<g opacity="0.9"><path d="M85.2 209.7L88.0 204.3L82.4 204.3Z" fill="#cfcf86" stroke="#c2c164" stroke-width="1.1" stroke-opacity="1.0"/></g>
<g opacity="0.9"><path d="M96.6 219.1L99.4 213.8L93.8 213.8Z" fill="#cfcf86" stroke="#c2c164" stroke-width="1.1" stroke-opacity="1.0"/></g>
<g opacity="0.9"><path d="M91.4 218.1L94.2 212.8L88.6 212.8Z" fill="#cfcf86" stroke="#c2c164" stroke-width="1.1" stroke-opacity="1.0"/></g>
<g opacity="0.9"><path d="M74.5 177.4L77.3 172.1L71.7 172.1Z" fill="#cfcf86" stroke="#c2c164" stroke-width="1.1" stroke-opacity="1.0"/></g>
<g opacity="0.9"><path d="M99.8 248.7L102.6 243.4L97.0 243.4Z" fill="#cfcf86" stroke="#c2c164" stroke-width="1.1" stroke-opacity="1.0"/></g>
<g opacity="0.9"><path d="M83.8 183.3L86.6 178.0L81.0 178.0Z" fill="#cfcf86" stroke="#c2c164" stroke-width="1.1" stroke-opacity="1.0"/></g>
<g opacity="0.9"><path d="M91.1 223.8L93.9 218.5L88.3 218.5Z" fill="#cfcf86" stroke="#c2c164" stroke-width="1.1" stroke-opacity="1.0"/></g>
<g opacity="0.9"><path d="M99.2 241.5L102.0 236.2L96.4 236.2Z" fill="#cfcf86" stroke="#c2c164" stroke-width="1.1" stroke-opacity="1.0"/></g>
<g opacity="0.9"><path d="M97.9 225.9L100.7 220.6L95.1 220.6Z" fill="#cfcf86" stroke="#c2c164" stroke-width="1.1" stroke-opacity="1.0"/></g>
<g opacity="0.9"><path d="M91.1 214.7L93.9 209.4L88.3 209.4Z" fill="#cfcf86" stroke="#c2c164" stroke-width="1.1" stroke-opacity="1.0"/></g>
<g opacity="0.9"><path d="M79.7 179.2L82.5 173.9L76.9 173.9Z" fill="#cfcf86" stroke="#c2c164" stroke-width="1.1" stroke-opacity="1.0"/></g>
<g opacity="0.9"><path d="M69.6 158.0L72.4 152.7L66.8 152.7Z" fill="#cfcf86" stroke="#c2c164" stroke-width="1.1" stroke-opacity="1.0"/></g>
<g opacity="0.9"><path d="M69.8 169.3L72.6 164.0L67.0 164.0Z" fill="#cfcf86" stroke="#c2c164" stroke-width="1.1" stroke-opacity="1.0"/></g>
<g opacity="0.9"><path d="M94.0 214.0L96.8 208.7L91.2 208.7Z" fill="#cfcf86" stroke="#c2c164" stroke-width="1.1" stroke-opacity="1.0"/></g>
<g opacity="0.9"><path d="M100.0 206.4L102.8 201.1L97.2 201.1Z" fill="#cfcf86" stroke="#c2c164" stroke-width="1.1" stroke-opacity="1.0"/></g>
<g opacity="0.9"><path d="M74.4 173.9L77.2 168.6L71.6 168.6Z" fill="#cfcf86" stroke="#c2c164" stroke-width="1.1" stroke-opacity="1.0"/></g>
<g opacity="0.9"><path d="M85.7 202.7L88.5 197.4L82.9 197.4Z" fill="#cfcf86" stroke="#c2c164" stroke-width="1.1" stroke-opacity="1.0"/></g>
<g opacity="0.9"><path d="M98.1 239.8L100.9 234.4L95.3 234.4Z" fill="#cfcf86" stroke="#c2c164" stroke-width="1.1" stroke-opacity="1.0"/></g>
<g opacity="0.9"><path d="M99.4 243.6L102.2 238.3L96.6 238.3Z" fill="#cfcf86" stroke="#c2c164" stroke-width="1.1" stroke-opacity="1.0"/></g>
<g opacity="0.9"><path d="M75.6 175.3L78.4 169.9L72.8 169.9Z" fill="#cfcf86" stroke="#c2c164" stroke-width="1.1" stroke-opacity="1.0"/></g>
<g opacity="0.9"><path d="M94.1 228.3L96.9 223.0L91.3 223.0Z" fill="#cfcf86" stroke="#c2c164" stroke-width="1.1" stroke-opacity="1.0"/></g>
<g opacity="0.9"><path d="M85.0 204.3L87.8 199.0L82.2 199.0Z" fill="#cfcf86" stroke="#c2c164" stroke-width="1.1" stroke-opacity="1.0"/></g>
<g opacity="0.9"><path d="M91.0 225.5L93.8 220.2L88.2 220.2Z" fill="#cfcf86" stroke="#c2c164" stroke-width="1.1" stroke-opacity="1.0"/></g>
<g opacity="0.9"><path d="M118.3 290.7L121.1 285.4L115.5 285.4Z" fill="#cfcf86" stroke="#c2c164" stroke-width="1.1" stroke-opacity="1.0"/></g>
<g opacity="0.9"><path d="M98.2 210.7L101.0 205.4L95.4 205.4Z" fill="#cfcf86" stroke="#c2c164" stroke-width="1.1" stroke-opacity="1.0"/></g>
<g opacity="0.9"><path d="M101.7 229.5L104.5 224.2L98.9 224.2Z" fill="#cfcf86" stroke="#c2c164" stroke-width="1.1" stroke-opacity="1.0"/></g>
<g opacity="0.9"><path d="M105.8 251.2L108.6 245.9L103.0 245.9Z" fill="#cfcf86" stroke="#c2c164" stroke-width="1.1" stroke-opacity="1.0"/></g>
<g opacity="0.9"><path d="M115.5 227.3L118.3 222.0L112.7 222.0Z" fill="#cfcf86" stroke="#c2c164" stroke-width="1.1" stroke-opacity="1.0"/></g>
<g opacity="0.9"><path d="M121.3 273.8L124.1 268.5L118.5 268.5Z" fill="#cfcf86" stroke="#c2c164" stroke-width="1.1" stroke-opacity="1.0"/></g>
<g opacity="0.9"><path d="M117.8 236.3L120.6 230.9L115.0 230.9Z" fill="#cfcf86" stroke="#c2c164" stroke-width="1.1" stroke-opacity="1.0"/></g>
<g opacity="0.9"><path d="M121.2 298.3L124.0 293.0L118.4 293.0Z" fill="#cfcf86" stroke="#c2c164" stroke-width="1.1" stroke-opacity="1.0"/></g>
<g opacity="0.9"><path d="M105.3 211.1L108.1 205.7L102.5 205.7Z" fill="#cfcf86" stroke="#c2c164" stroke-width="1.1" stroke-opacity="1.0"/></g>
<g opacity="0.9"><path d="M121.8 278.2L124.6 272.9L119.0 272.9Z" fill="#cfcf86" stroke="#c2c164" stroke-width="1.1" stroke-opacity="1.0"/></g>
<g opacity="0.9"><path d="M117.1 252.8L119.9 247.5L114.3 247.5Z" fill="#cfcf86" stroke="#c2c164" stroke-width="1.1" stroke-opacity="1.0"/></g>
<g opacity="0.9"><path d="M118.7 304.6L121.5 299.2L115.9 299.2Z" fill="#cfcf86" stroke="#c2c164" stroke-width="1.1" stroke-opacity="1.0"/></g>
<g opacity="0.9"><path d="M105.2 216.6L108.0 211.3L102.4 211.3Z" fill="#cfcf86" stroke="#c2c164" stroke-width="1.1" stroke-opacity="1.0"/></g>
<g opacity="0.9"><path d="M124.0 288.2L126.8 282.9L121.2 282.9Z" fill="#cfcf86" stroke="#c2c164" stroke-width="1.1" stroke-opacity="1.0"/></g>
<g opacity="0.9"><path d="M118.4 304.7L121.2 299.4L115.6 299.4Z" fill="#cfcf86" stroke="#c2c164" stroke-width="1.1" stroke-opacity="1.0"/></g>
<g opacity="0.9"><path d="M115.2 259.8L118.0 254.5L112.4 254.5Z" fill="#cfcf86" stroke="#c2c164" stroke-width="1.1" stroke-opacity="1.0"/></g>
<g opacity="0.9"><path d="M109.4 266.9L112.2 261.5L106.6 261.5Z" fill="#cfcf86" stroke="#c2c164" stroke-width="1.1" stroke-opacity="1.0"/></g>
<g opacity="0.9"><path d="M117.4 301.8L120.2 296.5L114.6 296.5Z" fill="#cfcf86" stroke="#c2c164" stroke-width="1.1" stroke-opacity="1.0"/></g>
<g opacity="0.9"><path d="M125.1 281.8L127.9 276.5L122.3 276.5Z" fill="#cfcf86" stroke="#c2c164" stroke-width="1.1" stroke-opacity="1.0"/></g>
<g opacity="0.9"><path d="M112.8 235.7L115.6 230.3L110.0 230.3Z" fill="#cfcf86" stroke="#c2c164" stroke-width="1.1" stroke-opacity="1.0"/></g>
<g opacity="0.9"><path d="M108.9 229.9L111.7 224.6L106.1 224.6Z" fill="#cfcf86" stroke="#c2c164" stroke-width="1.1" stroke-opacity="1.0"/></g>
<g opacity="0.9"><path d="M106.0 222.2L108.8 216.9L103.2 216.9Z" fill="#cfcf86" stroke="#c2c164" stroke-width="1.1" stroke-opacity="1.0"/></g>
<g opacity="0.9"><path d="M117.5 285.7L120.3 280.4L114.7 280.4Z" fill="#cfcf86" stroke="#c2c164" stroke-width="1.1" stroke-opacity="1.0"/></g>
<g opacity="0.9"><path d="M103.9 234.7L106.7 229.4L101.1 229.4Z" fill="#cfcf86" stroke="#c2c164" stroke-width="1.1" stroke-opacity="1.0"/></g>
<g opacity="0.9"><path d="M111.9 253.0L114.7 258.3L109.1 258.3Z" fill="#cfcf86" stroke="#c2c164" stroke-width="1.1" stroke-opacity="1.0"/></g>
<g opacity="0.9"><path d="M114.4 254.9L117.2 260.3L111.6 260.3Z" fill="#cfcf86" stroke="#c2c164" stroke-width="1.1" stroke-opacity="1.0"/></g>
<g opacity="0.9"><path d="M119.2 299.0L122.0 304.3L116.4 304.3Z" fill="#cfcf86" stroke="#c2c164" stroke-width="1.1" stroke-opacity="1.0"/></g>
<g opacity="0.9"><path d="M100.3 234.5L103.1 239.8L97.5 239.8Z" fill="#cfcf86" stroke="#c2c164" stroke-width="1.1" stroke-opacity="1.0"/></g>
<g opacity="0.9"><path d="M107.5 224.6L110.3 229.9L104.7 229.9Z" fill="#cfcf86" stroke="#c2c164" stroke-width="1.1" stroke-opacity="1.0"/></g>
<g opacity="0.9"><path d="M110.0 213.5L112.8 218.8L107.2 218.8Z" fill="#cfcf86" stroke="#c2c164" stroke-width="1.1" stroke-opacity="1.0"/></g>
<g opacity="0.9"><path d="M106.4 255.8L109.2 261.2L103.6 261.2Z" fill="#cfcf86" stroke="#c2c164" stroke-width="1.1" stroke-opacity="1.0"/></g>
<g opacity="0.9"><path d="M107.5 220.1L110.3 225.4L104.7 225.4Z" fill="#cfcf86" stroke="#c2c164" stroke-width="1.1" stroke-opacity="1.0"/></g>
<g opacity="0.9"><path d="M87.4 125.8L90.2 131.1L84.6 131.1Z" fill="#cfcf86" stroke="#c2c164" stroke-width="1.1" stroke-opacity="1.0"/></g>
<g opacity="0.9"><path d="M85.2 155.2L88.0 160.5L82.4 160.5Z" fill="#cfcf86" stroke="#c2c164" stroke-width="1.1" stroke-opacity="1.0"/></g>
<g opacity="0.9"><path d="M89.6 166.6L92.4 171.9L86.8 171.9Z" fill="#cfcf86" stroke="#c2c164" stroke-width="1.1" stroke-opacity="1.0"/></g>
<g opacity="0.9"><path d="M92.2 167.5L95.0 172.8L89.4 172.8Z" fill="#cfcf86" stroke="#c2c164" stroke-width="1.1" stroke-opacity="1.0"/></g>
<g opacity="0.9"><path d="M103.6 174.9L106.4 180.2L100.8 180.2Z" fill="#cfcf86" stroke="#c2c164" stroke-width="1.1" stroke-opacity="1.0"/></g>
<g opacity="0.9"><path d="M109.5 174.5L112.3 179.8L106.7 179.8Z" fill="#cfcf86" stroke="#c2c164" stroke-width="1.1" stroke-opacity="1.0"/></g>
<g opacity="0.9"><path d="M108.9 182.4L111.7 187.7L106.1 187.7Z" fill="#cfcf86" stroke="#c2c164" stroke-width="1.1" stroke-opacity="1.0"/></g>
<g opacity="0.9"><path d="M111.0 188.1L113.8 193.4L108.2 193.4Z" fill="#cfcf86" stroke="#c2c164" stroke-width="1.1" stroke-opacity="1.0"/></g>
<g opacity="0.9"><path d="M72.5 187.2L75.3 192.5L69.7 192.5Z" fill="#cfcf86" stroke="#c2c164" stroke-width="1.1" stroke-opacity="1.0"/></g>
<g opacity="0.9"><path d="M95.9 189.8L98.7 195.1L93.1 195.1Z" fill="#cfcf86" stroke="#c2c164" stroke-width="1.1" stroke-opacity="1.0"/></g>
<g opacity="0.9"><path d="M142.6 187.0L145.4 192.3L139.8 192.3Z" fill="#cfcf86" stroke="#c2c164" stroke-width="1.1" stroke-opacity="1.0"/></g>
<g opacity="0.9"><path d="M172.7 180.0L175.5 185.3L169.9 185.3Z" fill="#cfcf86" stroke="#c2c164" stroke-width="1.1" stroke-opacity="1.0"/></g>
<g opacity="0.9"><path d="M104.9 206.3L107.7 211.6L102.1 211.6Z" fill="#cfcf86" stroke="#c2c164" stroke-width="1.1" stroke-opacity="1.0"/></g>
<g opacity="0.9"><path d="M123.0 205.4L125.8 210.7L120.2 210.7Z" fill="#cfcf86" stroke="#c2c164" stroke-width="1.1" stroke-opacity="1.0"/></g>
<g opacity="0.9"><path d="M132.1 205.4L134.9 210.7L129.3 210.7Z" fill="#cfcf86" stroke="#c2c164" stroke-width="1.1" stroke-opacity="1.0"/></g>
<g opacity="0.9"><path d="M137.7 206.8L140.5 212.1L134.9 212.1Z" fill="#cfcf86" stroke="#c2c164" stroke-width="1.1" stroke-opacity="1.0"/></g>
<g opacity="0.9"><path d="M140.5 220.8L143.3 226.1L137.7 226.1Z" fill="#cfcf86" stroke="#c2c164" stroke-width="1.1" stroke-opacity="1.0"/></g>
<g opacity="0.9"><path d="M145.2 229.1L148.0 234.4L142.4 234.4Z" fill="#cfcf86" stroke="#c2c164" stroke-width="1.1" stroke-opacity="1.0"/></g>
<g opacity="0.9"><path d="M155.7 232.6L158.5 237.9L152.9 237.9Z" fill="#cfcf86" stroke="#c2c164" stroke-width="1.1" stroke-opacity="1.0"/></g>
<g opacity="0.9"><path d="M160.1 233.1L162.9 238.4L157.3 238.4Z" fill="#cfcf86" stroke="#c2c164" stroke-width="1.1" stroke-opacity="1.0"/></g>
<g opacity="0.9"><path d="M172.7 225.2L175.5 230.5L169.9 230.5Z" fill="#cfcf86" stroke="#c2c164" stroke-width="1.1" stroke-opacity="1.0"/></g>
<g opacity="0.9"><path d="M138.2 230.0L141.0 235.3L135.4 235.3Z" fill="#cfcf86" stroke="#c2c164" stroke-width="1.1" stroke-opacity="1.0"/></g>
<g opacity="0.9"><path d="M105.8 250.1L108.6 255.4L103.0 255.4Z" fill="#cfcf86" stroke="#c2c164" stroke-width="1.1" stroke-opacity="1.0"/></g>
<g opacity="0.9"><path d="M109.3 222.1L112.1 227.4L106.5 227.4Z" fill="#cfcf86" stroke="#c2c164" stroke-width="1.1" stroke-opacity="1.0"/></g>
<g opacity="0.9"><path d="M173.0 180.3L175.8 185.6L170.2 185.6Z" fill="#cfcf86" stroke="#c2c164" stroke-width="1.1" stroke-opacity="1.0"/></g>
<g opacity="0.9"><path d="M208.0 200.0L210.8 205.3L205.2 205.3Z" fill="#cfcf86" stroke="#c2c164" stroke-width="1.1" stroke-opacity="1.0"/></g>
<g opacity="0.9"><path d="M173.0 225.0L175.8 230.3L170.2 230.3Z" fill="#cfcf86" stroke="#c2c164" stroke-width="1.1" stroke-opacity="1.0"/></g>
<g opacity="0.9"><path d="M155.9 232.9L158.7 238.2L153.1 238.2Z" fill="#cfcf86" stroke="#c2c164" stroke-width="1.1" stroke-opacity="1.0"/></g>
<g opacity="0.9"><path d="M159.9 233.3L162.7 238.6L157.1 238.6Z" fill="#cfcf86" stroke="#c2c164" stroke-width="1.1" stroke-opacity="1.0"/></g>
<g opacity="0.9"><path d="M294.5 250.1L297.3 255.4L291.7 255.4Z" fill="#cfcf86" stroke="#c2c164" stroke-width="1.1" stroke-opacity="1.0"/></g>
<g opacity="0.9"><path d="M105.5 250.7L108.3 256.0L102.7 256.0Z" fill="#cfcf86" stroke="#c2c164" stroke-width="1.1" stroke-opacity="1.0"/></g>
<g opacity="0.9"><path d="M102.6 260.2L105.4 265.5L99.8 265.5Z" fill="#cfcf86" stroke="#c2c164" stroke-width="1.1" stroke-opacity="1.0"/></g>
<g opacity="0.9"><path d="M112.1 275.6L114.9 280.9L109.3 280.9Z" fill="#cfcf86" stroke="#c2c164" stroke-width="1.1" stroke-opacity="1.0"/></g>
<g opacity="0.9"><path d="M119.4 264.6L122.2 269.9L116.6 269.9Z" fill="#cfcf86" stroke="#c2c164" stroke-width="1.1" stroke-opacity="1.0"/></g>
<g opacity="0.9"><path d="M122.5 206.1L125.3 211.4L119.7 211.4Z" fill="#cfcf86" stroke="#c2c164" stroke-width="1.1" stroke-opacity="1.0"/></g>
<g opacity="0.9"><path d="M105.0 207.0L107.8 212.3L102.2 212.3Z" fill="#cfcf86" stroke="#c2c164" stroke-width="1.1" stroke-opacity="1.0"/></g>
<g opacity="0.9"><path d="M108.5 222.7L111.3 228.0L105.7 228.0Z" fill="#cfcf86" stroke="#c2c164" stroke-width="1.1" stroke-opacity="1.0"/></g>
<g opacity="0.9"><path d="M115.5 221.1L118.3 215.8L112.7 215.8Z" fill="#cfcf86" stroke="#c2c164" stroke-width="1.1" stroke-opacity="1.0"/></g>
<g opacity="0.9"><path d="M117.7 219.8L120.5 214.5L114.9 214.5Z" fill="#cfcf86" stroke="#c2c164" stroke-width="1.1" stroke-opacity="1.0"/></g>
<g opacity="0.9"><path d="M105.0 223.3L107.8 218.0L102.2 218.0Z" fill="#cfcf86" stroke="#c2c164" stroke-width="1.1" stroke-opacity="1.0"/></g>
<g opacity="0.9"><path d="M118.2 231.6L121.0 226.3L115.4 226.3Z" fill="#cfcf86" stroke="#c2c164" stroke-width="1.1" stroke-opacity="1.0"/></g>
<g opacity="0.9"><path d="M98.8 205.1L101.6 199.8L96.0 199.8Z" fill="#cfcf86" stroke="#c2c164" stroke-width="1.1" stroke-opacity="1.0"/></g>
<g opacity="0.9"><path d="M104.0 204.2L106.8 198.9L101.2 198.9Z" fill="#cfcf86" stroke="#c2c164" stroke-width="1.1" stroke-opacity="1.0"/></g>
<g opacity="0.9"><path d="M89.2 185.8L92.0 180.5L86.4 180.5Z" fill="#cfcf86" stroke="#c2c164" stroke-width="1.1" stroke-opacity="1.0"/></g>
<g opacity="0.9"><path d="M83.0 175.3L85.8 170.0L80.2 170.0Z" fill="#cfcf86" stroke="#c2c164" stroke-width="1.1" stroke-opacity="1.0"/></g>
<g opacity="0.9"><path d="M115.5 249.6L118.3 244.3L112.7 244.3Z" fill="#cfcf86" stroke="#c2c164" stroke-width="1.1" stroke-opacity="1.0"/></g>
<g opacity="0.9"><path d="M117.3 246.9L120.1 241.6L114.5 241.6Z" fill="#cfcf86" stroke="#c2c164" stroke-width="1.1" stroke-opacity="1.0"/></g>
<g opacity="0.9"><path d="M114.6 260.3L117.4 255.0L111.8 255.0Z" fill="#cfcf86" stroke="#c2c164" stroke-width="1.1" stroke-opacity="1.0"/></g>
<g opacity="0.9"><path d="M113.6 261.7L116.4 256.4L110.8 256.4Z" fill="#cfcf86" stroke="#c2c164" stroke-width="1.1" stroke-opacity="1.0"/></g>
<g opacity="0.9"><path d="M116.5 273.3L119.3 268.0L113.7 268.0Z" fill="#cfcf86" stroke="#c2c164" stroke-width="1.1" stroke-opacity="1.0"/></g>
<g opacity="0.9"><path d="M122.3 274.8L125.1 269.5L119.5 269.5Z" fill="#cfcf86" stroke="#c2c164" stroke-width="1.1" stroke-opacity="1.0"/></g>
<g opacity="0.9"><path d="M123.8 294.5L126.6 289.2L121.0 289.2Z" fill="#cfcf86" stroke="#c2c164" stroke-width="1.1" stroke-opacity="1.0"/></g>
<g opacity="0.9"><path d="M121.6 304.7L124.4 299.4L118.8 299.4Z" fill="#cfcf86" stroke="#c2c164" stroke-width="1.1" stroke-opacity="1.0"/></g>
<g opacity="0.9"><path d="M123.1 309.8L125.9 304.5L120.3 304.5Z" fill="#cfcf86" stroke="#c2c164" stroke-width="1.1" stroke-opacity="1.0"/></g>
<g opacity="0.9"><path d="M121.6 318.6L124.4 313.3L118.8 313.3Z" fill="#cfcf86" stroke="#c2c164" stroke-width="1.1" stroke-opacity="1.0"/></g>
<g opacity="0.9"><path d="M139.1 332.5L141.9 327.2L136.3 327.2Z" fill="#cfcf86" stroke="#c2c164" stroke-width="1.1" stroke-opacity="1.0"/></g>
<g opacity="0.9"><path d="M141.3 339.0L144.1 333.7L138.5 333.7Z" fill="#cfcf86" stroke="#c2c164" stroke-width="1.1" stroke-opacity="1.0"/></g>
<g opacity="0.9"><path d="M153.0 273.3L155.8 268.0L150.2 268.0Z" fill="#cfcf86" stroke="#c2c164" stroke-width="1.1" stroke-opacity="1.0"/></g>
<g opacity="0.9"><path d="M155.9 282.1L158.7 276.8L153.1 276.8Z" fill="#cfcf86" stroke="#c2c164" stroke-width="1.1" stroke-opacity="1.0"/></g>
<g opacity="0.9"><path d="M146.4 262.4L149.2 257.1L143.6 257.1Z" fill="#cfcf86" stroke="#c2c164" stroke-width="1.1" stroke-opacity="1.0"/></g>
<g opacity="0.9"><path d="M153.6 273.3L156.4 268.0L150.8 268.0Z" fill="#cfcf86" stroke="#c2c164" stroke-width="1.1" stroke-opacity="1.0"/></g>
<g opacity="0.9"><path d="M155.8 282.0L158.6 276.7L153.0 276.7Z" fill="#cfcf86" stroke="#c2c164" stroke-width="1.1" stroke-opacity="1.0"/></g>
<g opacity="0.9"><path d="M121.9 319.1L124.7 313.8L119.1 313.8Z" fill="#cfcf86" stroke="#c2c164" stroke-width="1.1" stroke-opacity="1.0"/></g>
<g opacity="0.9"><path d="M139.0 332.2L141.8 326.9L136.2 326.9Z" fill="#cfcf86" stroke="#c2c164" stroke-width="1.1" stroke-opacity="1.0"/></g>
<g opacity="0.9"><path d="M141.2 338.8L144.0 333.5L138.4 333.5Z" fill="#cfcf86" stroke="#c2c164" stroke-width="1.1" stroke-opacity="1.0"/></g>
<g opacity="0.9"><path d="M145.5 323.5L148.3 318.2L142.7 318.2Z" fill="#cfcf86" stroke="#c2c164" stroke-width="1.1" stroke-opacity="1.0"/></g>
<g opacity="0.9"><path d="M157.4 334.4L160.2 329.1L154.6 329.1Z" fill="#cfcf86" stroke="#c2c164" stroke-width="1.1" stroke-opacity="1.0"/></g>
<g opacity="0.9"><path d="M145.1 360.7L147.9 355.4L142.3 355.4Z" fill="#cfcf86" stroke="#c2c164" stroke-width="1.1" stroke-opacity="1.0"/></g>
<g opacity="0.9"><path d="M123.6 309.9L126.4 304.6L120.8 304.6Z" fill="#cfcf86" stroke="#c2c164" stroke-width="1.1" stroke-opacity="1.0"/></g>
<g opacity="0.9"><path d="M121.0 304.7L123.8 299.4L118.2 299.4Z" fill="#cfcf86" stroke="#c2c164" stroke-width="1.1" stroke-opacity="1.0"/></g>
<g opacity="0.9"><path d="M145.3 361.0L148.1 355.7L142.5 355.7Z" fill="#cfcf86" stroke="#c2c164" stroke-width="1.1" stroke-opacity="1.0"/></g>
<g opacity="0.9"><path d="M147.0 381.6L149.8 376.3L144.2 376.3Z" fill="#cfcf86" stroke="#c2c164" stroke-width="1.1" stroke-opacity="1.0"/></g>
<path d="M154.8 346.6L159.5 342.0L165.6 336.5L171.8 332.7L173.3 322.7L177.9 321.1L184.1 322.7L187.2 321.1L191.8 324.2L194.9 321.1L201.1 317.3L205.7 322.7L210.3 325.8L211.8 332.7L207.2 335.7L198.0 334.2L193.3 338.8L191.8 346.6L184.1 348.8L177.9 352.0L173.3 357.3L171.8 362.0L165.6 360.5L157.9 357.3L154.8 354.3Z" fill="#b3b160" fill-opacity="0.8"/>
<g opacity="0.85"><rect x="153.6" y="348.1" width="5.6" height="5.6" fill="#bfbd7a" stroke="#adab55" stroke-width="1.1" stroke-opacity="1.0"/></g>
<g opacity="0.85"><rect x="176.3" y="321.3" width="5.6" height="5.6" fill="#bfbd7a" stroke="#adab55" stroke-width="1.1" stroke-opacity="1.0"/></g>
<g opacity="0.85"><rect x="190.5" y="324.5" width="5.6" height="5.6" fill="#bfbd7a" stroke="#adab55" stroke-width="1.1" stroke-opacity="1.0"/></g>
<g opacity="0.85"><rect x="150.0" y="351.0" width="5.6" height="5.6" fill="#bfbd7a" stroke="#adab55" stroke-width="1.1" stroke-opacity="1.0"/></g>
<g opacity="0.85"><rect x="202.6" y="326.8" width="5.6" height="5.6" fill="#bfbd7a" stroke="#adab55" stroke-width="1.1" stroke-opacity="1.0"/></g>
<g opacity="0.85"><rect x="160.2" y="344.1" width="5.6" height="5.6" fill="#bfbd7a" stroke="#adab55" stroke-width="1.1" stroke-opacity="1.0"/></g>
<g opacity="0.85"><rect x="159.1" y="351.6" width="5.6" height="5.6" fill="#bfbd7a" stroke="#adab55" stroke-width="1.1" stroke-opacity="1.0"/></g>
<g opacity="0.85"><rect x="201.7" y="328.0" width="5.6" height="5.6" fill="#bfbd7a" stroke="#adab55" stroke-width="1.1" stroke-opacity="1.0"/></g>
<g opacity="0.85"><rect x="172.1" y="339.7" width="5.6" height="5.6" fill="#bfbd7a" stroke="#adab55" stroke-width="1.1" stroke-opacity="1.0"/></g>
<g opacity="0.85"><rect x="184.9" y="343.6" width="5.6" height="5.6" fill="#bfbd7a" stroke="#adab55" stroke-width="1.1" stroke-opacity="1.0"/></g>
<g opacity="0.85"><rect x="180.2" y="337.1" width="5.6" height="5.6" fill="#bfbd7a" stroke="#adab55" stroke-width="1.1" stroke-opacity="1.0"/></g>
<g opacity="0.85"><rect x="192.8" y="320.0" width="5.6" height="5.6" fill="#bfbd7a" stroke="#adab55" stroke-width="1.1" stroke-opacity="1.0"/></g>
<g opacity="0.85"><rect x="176.7" y="321.4" width="5.6" height="5.6" fill="#bfbd7a" stroke="#adab55" stroke-width="1.1" stroke-opacity="1.0"/></g>
<g opacity="0.85"><rect x="166.6" y="345.3" width="5.6" height="5.6" fill="#bfbd7a" stroke="#adab55" stroke-width="1.1" stroke-opacity="1.0"/></g>
<g opacity="0.85"><rect x="181.5" y="333.1" width="5.6" height="5.6" fill="#bfbd7a" stroke="#adab55" stroke-width="1.1" stroke-opacity="1.0"/></g>
<g opacity="0.85"><rect x="170.1" y="334.0" width="5.6" height="5.6" fill="#bfbd7a" stroke="#adab55" stroke-width="1.1" stroke-opacity="1.0"/></g>
<g opacity="0.85"><rect x="167.4" y="334.2" width="5.6" height="5.6" fill="#bfbd7a" stroke="#adab55" stroke-width="1.1" stroke-opacity="1.0"/></g>
<g opacity="0.85"><rect x="184.7" y="329.4" width="5.6" height="5.6" fill="#bfbd7a" stroke="#adab55" stroke-width="1.1" stroke-opacity="1.0"/></g>
<g opacity="0.85"><rect x="169.2" y="335.1" width="5.6" height="5.6" fill="#bfbd7a" stroke="#adab55" stroke-width="1.1" stroke-opacity="1.0"/></g>
<g opacity="0.85"><rect x="200.8" y="314.7" width="5.6" height="5.6" fill="#bfbd7a" stroke="#adab55" stroke-width="1.1" stroke-opacity="1.0"/></g>
<g opacity="0.85"><rect x="167.4" y="340.7" width="5.6" height="5.6" fill="#bfbd7a" stroke="#adab55" stroke-width="1.1" stroke-opacity="1.0"/></g>
<g opacity="0.85"><rect x="190.1" y="326.9" width="5.6" height="5.6" fill="#bfbd7a" stroke="#adab55" stroke-width="1.1" stroke-opacity="1.0"/></g>
<g opacity="0.85"><rect x="153.7" y="345.3" width="5.6" height="5.6" fill="#bfbd7a" stroke="#adab55" stroke-width="1.1" stroke-opacity="1.0"/></g>
<g opacity="0.85"><rect x="172.3" y="341.2" width="5.6" height="5.6" fill="#bfbd7a" stroke="#adab55" stroke-width="1.1" stroke-opacity="1.0"/></g>
<g opacity="0.85"><rect x="175.2" y="338.6" width="5.6" height="5.6" fill="#bfbd7a" stroke="#adab55" stroke-width="1.1" stroke-opacity="1.0"/></g>
<g opacity="0.85"><rect x="184.8" y="331.8" width="5.6" height="5.6" fill="#bfbd7a" stroke="#adab55" stroke-width="1.1" stroke-opacity="1.0"/></g>
<g opacity="0.85"><rect x="155.5" y="355.5" width="5.6" height="5.6" fill="#bfbd7a" stroke="#adab55" stroke-width="1.1" stroke-opacity="1.0"/></g>
<g opacity="0.85"><rect x="182.6" y="324.5" width="5.6" height="5.6" fill="#bfbd7a" stroke="#adab55" stroke-width="1.1" stroke-opacity="1.0"/></g>
<g opacity="0.85"><rect x="179.9" y="339.8" width="5.6" height="5.6" fill="#bfbd7a" stroke="#adab55" stroke-width="1.1" stroke-opacity="1.0"/></g>
<g opacity="0.85"><rect x="162.9" y="340.8" width="5.6" height="5.6" fill="#bfbd7a" stroke="#adab55" stroke-width="1.1" stroke-opacity="1.0"/></g>
<g opacity="0.85"><rect x="197.2" y="317.5" width="5.6" height="5.6" fill="#bfbd7a" stroke="#adab55" stroke-width="1.1" stroke-opacity="1.0"/></g>
<g opacity="0.85"><rect x="154.8" y="353.9" width="5.6" height="5.6" fill="#bfbd7a" stroke="#adab55" stroke-width="1.1" stroke-opacity="1.0"/></g>
<g opacity="0.85"><rect x="173.6" y="320.4" width="5.6" height="5.6" fill="#bfbd7a" stroke="#adab55" stroke-width="1.1" stroke-opacity="1.0"/></g>
<g opacity="0.85"><rect x="198.4" y="318.6" width="5.6" height="5.6" fill="#bfbd7a" stroke="#adab55" stroke-width="1.1" stroke-opacity="1.0"/></g>
<g opacity="0.85"><rect x="159.1" y="349.6" width="5.6" height="5.6" fill="#bfbd7a" stroke="#adab55" stroke-width="1.1" stroke-opacity="1.0"/></g>
<g opacity="0.85"><rect x="170.3" y="350.5" width="5.6" height="5.6" fill="#bfbd7a" stroke="#adab55" stroke-width="1.1" stroke-opacity="1.0"/></g>
<g opacity="0.85"><rect x="192.0" y="324.6" width="5.6" height="5.6" fill="#bfbd7a" stroke="#adab55" stroke-width="1.1" stroke-opacity="1.0"/></g>
<g opacity="0.85"><rect x="155.4" y="352.4" width="5.6" height="5.6" fill="#bfbd7a" stroke="#adab55" stroke-width="1.1" stroke-opacity="1.0"/></g>
<g opacity="0.85"><rect x="160.2" y="339.9" width="5.6" height="5.6" fill="#bfbd7a" stroke="#adab55" stroke-width="1.1" stroke-opacity="1.0"/></g>
<g opacity="0.85"><rect x="167.0" y="346.6" width="5.6" height="5.6" fill="#bfbd7a" stroke="#adab55" stroke-width="1.1" stroke-opacity="1.0"/></g>
<g opacity="0.85"><rect x="172.9" y="319.0" width="5.6" height="5.6" fill="#bfbd7a" stroke="#adab55" stroke-width="1.1" stroke-opacity="1.0"/></g>
<g opacity="0.85"><rect x="160.0" y="353.3" width="5.6" height="5.6" fill="#bfbd7a" stroke="#adab55" stroke-width="1.1" stroke-opacity="1.0"/></g>
<g opacity="0.85"><rect x="192.2" y="331.6" width="5.6" height="5.6" fill="#bfbd7a" stroke="#adab55" stroke-width="1.1" stroke-opacity="1.0"/></g>
<g opacity="0.85"><rect x="179.0" y="319.7" width="5.6" height="5.6" fill="#bfbd7a" stroke="#adab55" stroke-width="1.1" stroke-opacity="1.0"/></g>
<g opacity="0.85"><rect x="162.2" y="357.1" width="5.6" height="5.6" fill="#bfbd7a" stroke="#adab55" stroke-width="1.1" stroke-opacity="1.0"/></g>
<g opacity="0.85"><rect x="178.5" y="341.0" width="5.6" height="5.6" fill="#bfbd7a" stroke="#adab55" stroke-width="1.1" stroke-opacity="1.0"/></g>
<g opacity="0.85"><rect x="173.3" y="329.7" width="5.6" height="5.6" fill="#bfbd7a" stroke="#adab55" stroke-width="1.1" stroke-opacity="1.0"/></g>
<g opacity="0.85"><rect x="191.7" y="325.6" width="5.6" height="5.6" fill="#bfbd7a" stroke="#adab55" stroke-width="1.1" stroke-opacity="1.0"/></g>
<g opacity="0.85"><rect x="165.9" y="337.1" width="5.6" height="5.6" fill="#bfbd7a" stroke="#adab55" stroke-width="1.1" stroke-opacity="1.0"/></g>
<g opacity="0.85"><rect x="165.2" y="340.6" width="5.6" height="5.6" fill="#bfbd7a" stroke="#adab55" stroke-width="1.1" stroke-opacity="1.0"/></g>
<g opacity="0.85"><rect x="171.7" y="326.0" width="5.6" height="5.6" fill="#bfbd7a" stroke="#adab55" stroke-width="1.1" stroke-opacity="1.0"/></g>
<g opacity="0.85"><rect x="167.9" y="350.5" width="5.6" height="5.6" fill="#bfbd7a" stroke="#adab55" stroke-width="1.1" stroke-opacity="1.0"/></g>
<g opacity="0.85"><rect x="189.4" y="329.5" width="5.6" height="5.6" fill="#bfbd7a" stroke="#adab55" stroke-width="1.1" stroke-opacity="1.0"/></g>
<g opacity="0.85"><rect x="183.9" y="332.3" width="5.6" height="5.6" fill="#bfbd7a" stroke="#adab55" stroke-width="1.1" stroke-opacity="1.0"/></g>
<g opacity="0.85"><rect x="179.4" y="330.4" width="5.6" height="5.6" fill="#bfbd7a" stroke="#adab55" stroke-width="1.1" stroke-opacity="1.0"/></g>
<g opacity="0.85"><rect x="177.6" y="334.3" width="5.6" height="5.6" fill="#bfbd7a" stroke="#adab55" stroke-width="1.1" stroke-opacity="1.0"/></g>
<g opacity="0.85"><rect x="185.1" y="327.1" width="5.6" height="5.6" fill="#bfbd7a" stroke="#adab55" stroke-width="1.1" stroke-opacity="1.0"/></g>
<g opacity="0.85"><rect x="208.9" y="329.0" width="5.6" height="5.6" fill="#bfbd7a" stroke="#adab55" stroke-width="1.1" stroke-opacity="1.0"/></g>
<g opacity="0.85"><rect x="171.3" y="351.0" width="5.6" height="5.6" fill="#bfbd7a" stroke="#adab55" stroke-width="1.1" stroke-opacity="1.0"/></g>
<g opacity="0.85"><rect x="206.5" y="325.7" width="5.6" height="5.6" fill="#bfbd7a" stroke="#adab55" stroke-width="1.1" stroke-opacity="1.0"/></g>
<g opacity="0.85"><rect x="193.8" y="322.8" width="5.6" height="5.6" fill="#bfbd7a" stroke="#adab55" stroke-width="1.1" stroke-opacity="1.0"/></g>
<g opacity="0.85"><rect x="174.1" y="321.9" width="5.6" height="5.6" fill="#bfbd7a" stroke="#adab55" stroke-width="1.1" stroke-opacity="1.0"/></g>
<g opacity="0.85"><rect x="190.2" y="321.7" width="5.6" height="5.6" fill="#bfbd7a" stroke="#adab55" stroke-width="1.1" stroke-opacity="1.0"/></g>
<g opacity="0.85"><rect x="160.4" y="339.0" width="5.6" height="5.6" fill="#bfbd7a" stroke="#adab55" stroke-width="1.1" stroke-opacity="1.0"/></g>
<g opacity="0.85"><rect x="208.0" y="322.5" width="5.6" height="5.6" fill="#bfbd7a" stroke="#adab55" stroke-width="1.1" stroke-opacity="1.0"/></g>
<g opacity="0.85"><rect x="169.4" y="349.8" width="5.6" height="5.6" fill="#bfbd7a" stroke="#adab55" stroke-width="1.1" stroke-opacity="1.0"/></g>
<g opacity="0.85"><rect x="190.3" y="332.3" width="5.6" height="5.6" fill="#bfbd7a" stroke="#adab55" stroke-width="1.1" stroke-opacity="1.0"/></g>
<g opacity="0.85"><rect x="192.2" y="328.9" width="5.6" height="5.6" fill="#bfbd7a" stroke="#adab55" stroke-width="1.1" stroke-opacity="1.0"/></g>
<g opacity="0.85"><rect x="169.9" y="336.8" width="5.6" height="5.6" fill="#bfbd7a" stroke="#adab55" stroke-width="1.1" stroke-opacity="1.0"/></g>
<g opacity="0.85"><rect x="186.9" y="324.8" width="5.6" height="5.6" fill="#bfbd7a" stroke="#adab55" stroke-width="1.1" stroke-opacity="1.0"/></g>
<g opacity="0.85"><rect x="214.5" y="309.5" width="5.6" height="5.6" fill="#bfbd7a" stroke="#adab55" stroke-width="1.1" stroke-opacity="1.0"/></g>
<g opacity="0.85"><rect x="221.4" y="323.7" width="5.6" height="5.6" fill="#bfbd7a" stroke="#adab55" stroke-width="1.1" stroke-opacity="1.0"/></g>
<g opacity="0.85"><rect x="208.3" y="311.1" width="5.6" height="5.6" fill="#bfbd7a" stroke="#adab55" stroke-width="1.1" stroke-opacity="1.0"/></g>
<g opacity="0.85"><rect x="228.5" y="311.0" width="5.6" height="5.6" fill="#bfbd7a" stroke="#adab55" stroke-width="1.1" stroke-opacity="1.0"/></g>
<g opacity="0.85"><rect x="230.6" y="317.7" width="5.6" height="5.6" fill="#bfbd7a" stroke="#adab55" stroke-width="1.1" stroke-opacity="1.0"/></g>
<g opacity="0.85"><rect x="218.0" y="321.0" width="5.6" height="5.6" fill="#bfbd7a" stroke="#adab55" stroke-width="1.1" stroke-opacity="1.0"/></g>
<g opacity="0.85"><rect x="218.7" y="322.3" width="5.6" height="5.6" fill="#bfbd7a" stroke="#adab55" stroke-width="1.1" stroke-opacity="1.0"/></g>
<g opacity="0.85"><rect x="220.9" y="315.8" width="5.6" height="5.6" fill="#bfbd7a" stroke="#adab55" stroke-width="1.1" stroke-opacity="1.0"/></g>
<g opacity="0.85"><rect x="227.3" y="314.4" width="5.6" height="5.6" fill="#bfbd7a" stroke="#adab55" stroke-width="1.1" stroke-opacity="1.0"/></g>
<g opacity="0.85"><rect x="228.9" y="315.4" width="5.6" height="5.6" fill="#bfbd7a" stroke="#adab55" stroke-width="1.1" stroke-opacity="1.0"/></g>
<g opacity="0.85"><rect x="208.2" y="291.8" width="5.6" height="5.6" fill="#bfbd7a" stroke="#adab55" stroke-width="1.1" stroke-opacity="1.0"/></g>
<g opacity="0.85"><rect x="195.1" y="295.8" width="5.6" height="5.6" fill="#bfbd7a" stroke="#adab55" stroke-width="1.1" stroke-opacity="1.0"/></g>
<g opacity="0.85"><rect x="217.4" y="299.7" width="5.6" height="5.6" fill="#bfbd7a" stroke="#adab55" stroke-width="1.1" stroke-opacity="1.0"/></g>
<g opacity="0.85"><rect x="192.0" y="308.0" width="5.6" height="5.6" fill="#bfbd7a" stroke="#adab55" stroke-width="1.1" stroke-opacity="1.0"/></g>
<g opacity="0.85"><rect x="208.2" y="305.8" width="5.6" height="5.6" fill="#bfbd7a" stroke="#adab55" stroke-width="1.1" stroke-opacity="1.0"/></g>
<g opacity="0.85"><rect x="203.0" y="311.1" width="5.6" height="5.6" fill="#bfbd7a" stroke="#adab55" stroke-width="1.1" stroke-opacity="1.0"/></g>
<g opacity="0.85"><rect x="200.3" y="311.1" width="5.6" height="5.6" fill="#bfbd7a" stroke="#adab55" stroke-width="1.1" stroke-opacity="1.0"/></g>
<g opacity="0.85"><rect x="215.2" y="309.3" width="5.6" height="5.6" fill="#bfbd7a" stroke="#adab55" stroke-width="1.1" stroke-opacity="1.0"/></g>
<g opacity="0.85"><rect x="217.8" y="308.0" width="5.6" height="5.6" fill="#bfbd7a" stroke="#adab55" stroke-width="1.1" stroke-opacity="1.0"/></g>
<g opacity="0.85"><rect x="220.9" y="314.6" width="5.6" height="5.6" fill="#bfbd7a" stroke="#adab55" stroke-width="1.1" stroke-opacity="1.0"/></g>
<g opacity="0.85"><rect x="220.0" y="318.1" width="5.6" height="5.6" fill="#bfbd7a" stroke="#adab55" stroke-width="1.1" stroke-opacity="1.0"/></g>
<g opacity="0.85"><rect x="231.4" y="310.2" width="5.6" height="5.6" fill="#bfbd7a" stroke="#adab55" stroke-width="1.1" stroke-opacity="1.0"/></g>
<g opacity="0.85"><rect x="229.2" y="315.5" width="5.6" height="5.6" fill="#bfbd7a" stroke="#adab55" stroke-width="1.1" stroke-opacity="1.0"/></g>
<g opacity="0.85"><rect x="231.9" y="317.2" width="5.6" height="5.6" fill="#bfbd7a" stroke="#adab55" stroke-width="1.1" stroke-opacity="1.0"/></g>
<g opacity="0.85"><rect x="237.1" y="315.5" width="5.6" height="5.6" fill="#bfbd7a" stroke="#adab55" stroke-width="1.1" stroke-opacity="1.0"/></g>
<g opacity="0.85"><rect x="231.4" y="326.0" width="5.6" height="5.6" fill="#bfbd7a" stroke="#adab55" stroke-width="1.1" stroke-opacity="1.0"/></g>
<g opacity="0.85"><rect x="196.0" y="313.7" width="5.6" height="5.6" fill="#bfbd7a" stroke="#adab55" stroke-width="1.1" stroke-opacity="1.0"/></g>
<g opacity="0.85"><rect x="196.0" y="319.0" width="5.6" height="5.6" fill="#bfbd7a" stroke="#adab55" stroke-width="1.1" stroke-opacity="1.0"/></g>
<g opacity="0.85"><rect x="200.3" y="319.4" width="5.6" height="5.6" fill="#bfbd7a" stroke="#adab55" stroke-width="1.1" stroke-opacity="1.0"/></g>
<g opacity="0.85"><rect x="209.1" y="319.0" width="5.6" height="5.6" fill="#bfbd7a" stroke="#adab55" stroke-width="1.1" stroke-opacity="1.0"/></g>
<g opacity="0.85"><rect x="212.6" y="322.9" width="5.6" height="5.6" fill="#bfbd7a" stroke="#adab55" stroke-width="1.1" stroke-opacity="1.0"/></g>
<g opacity="0.85"><rect x="208.2" y="325.1" width="5.6" height="5.6" fill="#bfbd7a" stroke="#adab55" stroke-width="1.1" stroke-opacity="1.0"/></g>
<g opacity="0.85"><rect x="198.6" y="326.0" width="5.6" height="5.6" fill="#bfbd7a" stroke="#adab55" stroke-width="1.1" stroke-opacity="1.0"/></g>
<g opacity="0.85"><rect x="195.1" y="326.9" width="5.6" height="5.6" fill="#bfbd7a" stroke="#adab55" stroke-width="1.1" stroke-opacity="1.0"/></g>
<g opacity="0.85"><rect x="197.7" y="330.4" width="5.6" height="5.6" fill="#bfbd7a" stroke="#adab55" stroke-width="1.1" stroke-opacity="1.0"/></g>
<g opacity="0.85"><rect x="204.7" y="331.2" width="5.6" height="5.6" fill="#bfbd7a" stroke="#adab55" stroke-width="1.1" stroke-opacity="1.0"/></g>
<g opacity="0.85"><rect x="210.8" y="333.0" width="5.6" height="5.6" fill="#bfbd7a" stroke="#adab55" stroke-width="1.1" stroke-opacity="1.0"/></g>
<g opacity="0.85"><rect x="189.8" y="327.7" width="5.6" height="5.6" fill="#bfbd7a" stroke="#adab55" stroke-width="1.1" stroke-opacity="1.0"/></g>
<g opacity="0.85"><rect x="190.7" y="332.1" width="5.6" height="5.6" fill="#bfbd7a" stroke="#adab55" stroke-width="1.1" stroke-opacity="1.0"/></g>
<g opacity="0.85"><rect x="188.1" y="324.2" width="5.6" height="5.6" fill="#bfbd7a" stroke="#adab55" stroke-width="1.1" stroke-opacity="1.0"/></g>
<g opacity="0.85"><rect x="187.6" y="335.6" width="5.6" height="5.6" fill="#bfbd7a" stroke="#adab55" stroke-width="1.1" stroke-opacity="1.0"/></g>
<g opacity="0.85"><rect x="170.1" y="361.8" width="5.6" height="5.6" fill="#bfbd7a" stroke="#adab55" stroke-width="1.1" stroke-opacity="1.0"/></g>
<g opacity="0.85"><rect x="158.7" y="368.8" width="5.6" height="5.6" fill="#bfbd7a" stroke="#adab55" stroke-width="1.1" stroke-opacity="1.0"/></g>
<g opacity="0.85"><rect x="150.0" y="367.2" width="5.6" height="5.6" fill="#bfbd7a" stroke="#adab55" stroke-width="1.1" stroke-opacity="1.0"/></g>
<g opacity="0.85"><rect x="144.7" y="367.2" width="5.6" height="5.6" fill="#bfbd7a" stroke="#adab55" stroke-width="1.1" stroke-opacity="1.0"/></g>
<g opacity="0.85"><rect x="141.2" y="365.5" width="5.6" height="5.6" fill="#bfbd7a" stroke="#adab55" stroke-width="1.1" stroke-opacity="1.0"/></g>
<g opacity="0.85"><rect x="147.3" y="360.9" width="5.6" height="5.6" fill="#bfbd7a" stroke="#adab55" stroke-width="1.1" stroke-opacity="1.0"/></g>
<g opacity="0.85"><rect x="150.9" y="332.5" width="5.6" height="5.6" fill="#bfbd7a" stroke="#adab55" stroke-width="1.1" stroke-opacity="1.0"/></g>
<g opacity="0.85"><rect x="140.3" y="366.0" width="5.6" height="5.6" fill="#bfbd7a" stroke="#adab55" stroke-width="1.1" stroke-opacity="1.0"/></g>
<g opacity="0.85"><rect x="143.8" y="366.9" width="5.6" height="5.6" fill="#bfbd7a" stroke="#adab55" stroke-width="1.1" stroke-opacity="1.0"/></g>
<g opacity="0.85"><rect x="150.0" y="366.9" width="5.6" height="5.6" fill="#bfbd7a" stroke="#adab55" stroke-width="1.1" stroke-opacity="1.0"/></g>
<g opacity="0.85"><rect x="158.7" y="368.7" width="5.6" height="5.6" fill="#bfbd7a" stroke="#adab55" stroke-width="1.1" stroke-opacity="1.0"/></g>
<g opacity="0.85"><rect x="170.1" y="361.7" width="5.6" height="5.6" fill="#bfbd7a" stroke="#adab55" stroke-width="1.1" stroke-opacity="1.0"/></g>
<g opacity="0.85"><rect x="164.9" y="358.2" width="5.6" height="5.6" fill="#bfbd7a" stroke="#adab55" stroke-width="1.1" stroke-opacity="1.0"/></g>
<g opacity="0.85"><rect x="150.0" y="347.6" width="5.6" height="5.6" fill="#bfbd7a" stroke="#adab55" stroke-width="1.1" stroke-opacity="1.0"/></g>
<g opacity="0.85"><rect x="162.2" y="317.0" width="5.6" height="5.6" fill="#bfbd7a" stroke="#adab55" stroke-width="1.1" stroke-opacity="1.0"/></g>
<g opacity="0.85"><rect x="160.5" y="321.4" width="5.6" height="5.6" fill="#bfbd7a" stroke="#adab55" stroke-width="1.1" stroke-opacity="1.0"/></g>
<g opacity="0.85"><rect x="192.0" y="308.2" width="5.6" height="5.6" fill="#bfbd7a" stroke="#adab55" stroke-width="1.1" stroke-opacity="1.0"/></g>
<g opacity="0.85"><rect x="202.5" y="310.9" width="5.6" height="5.6" fill="#bfbd7a" stroke="#adab55" stroke-width="1.1" stroke-opacity="1.0"/></g>
<g opacity="0.85"><rect x="146.0" y="360.6" width="5.6" height="5.6" fill="#bfbd7a" stroke="#adab55" stroke-width="1.1" stroke-opacity="1.0"/></g>
<g opacity="0.85"><rect x="143.4" y="366.3" width="5.6" height="5.6" fill="#bfbd7a" stroke="#adab55" stroke-width="1.1" stroke-opacity="1.0"/></g>
<g opacity="0.85"><rect x="149.5" y="367.6" width="5.6" height="5.6" fill="#bfbd7a" stroke="#adab55" stroke-width="1.1" stroke-opacity="1.0"/></g>
<g opacity="0.85"><rect x="159.1" y="368.9" width="5.6" height="5.6" fill="#bfbd7a" stroke="#adab55" stroke-width="1.1" stroke-opacity="1.0"/></g>
<g opacity="0.85"><rect x="147.7" y="352.7" width="5.6" height="5.6" fill="#bfbd7a" stroke="#adab55" stroke-width="1.1" stroke-opacity="1.0"/></g>
<g opacity="0.85"><rect x="154.7" y="353.6" width="5.6" height="5.6" fill="#bfbd7a" stroke="#adab55" stroke-width="1.1" stroke-opacity="1.0"/></g>
<g opacity="0.85"><rect x="159.1" y="351.8" width="5.6" height="5.6" fill="#bfbd7a" stroke="#adab55" stroke-width="1.1" stroke-opacity="1.0"/></g>
<g opacity="0.85"><rect x="287.6" y="292.0" width="5.6" height="5.6" fill="#bfbd7a" stroke="#adab55" stroke-width="1.1" stroke-opacity="1.0"/></g>
<g opacity="0.85"><rect x="323.9" y="294.1" width="5.6" height="5.6" fill="#bfbd7a" stroke="#adab55" stroke-width="1.1" stroke-opacity="1.0"/></g>
<g opacity="0.85"><rect x="367.3" y="287.0" width="5.6" height="5.6" fill="#bfbd7a" stroke="#adab55" stroke-width="1.1" stroke-opacity="1.0"/></g>
<g opacity="0.85"><rect x="408.5" y="265.7" width="5.6" height="5.6" fill="#bfbd7a" stroke="#adab55" stroke-width="1.1" stroke-opacity="1.0"/></g>
<g opacity="0.85"><rect x="412.7" y="265.7" width="5.6" height="5.6" fill="#bfbd7a" stroke="#adab55" stroke-width="1.1" stroke-opacity="1.0"/></g>
<g opacity="0.85"><rect x="439.6" y="249.7" width="5.6" height="5.6" fill="#bfbd7a" stroke="#adab55" stroke-width="1.1" stroke-opacity="1.0"/></g>
<path d="M123.4 221.6L133.0 221.6L131.8 226.0L130.0 227.8L132.0 231.3L134.6 233.9L133.0 240.0L131.2 246.2L129.4 252.3L127.6 257.5L126.5 261.5L122.0 254.0L119.3 248.8L117.4 241.8L117.5 236.5L120.2 231.3L122.0 226.9Z" fill="#f8defa"/>
<g opacity="0.6"><circle cx="124.5" cy="221.9" r="2.80" fill="#f8e1fa" stroke="#f6d8f8" stroke-width="1.1" stroke-opacity="1.0"/></g>
<g opacity="0.6"><circle cx="130.4" cy="221.9" r="2.80" fill="#f8e1fa" stroke="#f6d8f8" stroke-width="1.1" stroke-opacity="1.0"/></g>
<path d="M125.7 270.0L146.9 270.0L147.2 274.4L146.1 281.0L144.3 287.5L143.9 291.9L144.3 294.1L147.2 298.5L147.6 303.2L144.7 304.3L144.7 313.8L143.6 316.7L144.7 320.4L144.3 322.6L131.9 322.6L131.2 320.4L130.8 311.6L127.2 309.4L125.0 303.6L125.0 297.7L128.2 296.3L129.0 291.9L127.5 289.7L126.4 286.1L126.1 279.5L126.4 272.9Z" fill="#d88ad8"/>
<path d="M134.8 241.3L139.2 242.0L140.7 245.7L141.4 250.0L143.6 254.4L145.0 258.1L145.8 261.7L148.3 267.6L146.5 271.9L145.0 275.0L128.2 275.0L127.5 269.0L129.0 261.7L131.2 255.9L131.9 251.5L132.6 247.1L134.1 244.2Z" fill="#bc7cc6"/>
<path d="M133.1 234.0H135.9V236.2H138.1V239.0H135.9V241.2H133.1V239.0H130.9V236.2H133.1Z" fill="#bc7cc6" fill-opacity="0.9"/>
<path d="M138.5 234.4H141.3V236.6H143.5V239.4H141.3V241.6H138.5V239.4H136.3V236.6H138.5Z" fill="#bc7cc6" fill-opacity="0.9"/>
<path d="M127.2 245.0H130.0V247.2H132.2V250.0H130.0V252.2H127.2V250.0H125.0V247.2H127.2Z" fill="#bc7cc6" fill-opacity="0.9"/>
<path d="M131.6 281.4H134.4V283.6H136.6V286.4H134.4V288.6H131.6V286.4H129.4V283.6H131.6Z" fill="#bc7cc6" fill-opacity="0.9"/>
<path d="M135.6 286.4H138.4V288.6H140.6V291.4H138.4V293.6H135.6V291.4H133.4V288.6H135.6Z" fill="#bc7cc6" fill-opacity="0.9"/>
<g opacity="0.6"><path d="M140.7 244.1L143.5 249.4L137.9 249.4Z" fill="#eaa7ed" stroke="#e48ee8" stroke-width="1.1" stroke-opacity="1.0"/></g>
<g opacity="0.6"><path d="M131.2 251.5L134.0 256.8L128.4 256.8Z" fill="#eaa7ed" stroke="#e48ee8" stroke-width="1.1" stroke-opacity="1.0"/></g>
<g opacity="0.6"><path d="M126.8 267.6L129.6 272.9L124.0 272.9Z" fill="#eaa7ed" stroke="#e48ee8" stroke-width="1.1" stroke-opacity="1.0"/></g>
<g opacity="0.6"><path d="M145.0 270.5L147.8 275.8L142.2 275.8Z" fill="#eaa7ed" stroke="#e48ee8" stroke-width="1.1" stroke-opacity="1.0"/></g>
<path d="M110.7 361.1L115.4 357.6L128.4 357.6L129.6 365.9L136.7 368.2L130.8 375.3L126.1 382.4L122.5 384.8L120.1 376.5L113.0 373.0L115.4 365.9Z" fill="#aee4f7"/>
<g opacity="0.5"><path d="M115.7 364.6L118.5 359.3L112.9 359.3Z" fill="#c0eaf9" stroke="#aee4f7" stroke-width="1.1" stroke-opacity="1.0"/></g>
<g opacity="0.5"><path d="M119.0 364.1L121.8 358.7L116.2 358.7Z" fill="#c0eaf9" stroke="#aee4f7" stroke-width="1.1" stroke-opacity="1.0"/></g>
<g opacity="0.5"><path d="M123.5 363.7L126.3 358.3L120.7 358.3Z" fill="#c0eaf9" stroke="#aee4f7" stroke-width="1.1" stroke-opacity="1.0"/></g>
<g opacity="0.5"><path d="M127.3 368.1L130.1 362.7L124.5 362.7Z" fill="#c0eaf9" stroke="#aee4f7" stroke-width="1.1" stroke-opacity="1.0"/></g>
<g opacity="0.5"><path d="M131.4 371.4L134.2 366.1L128.6 366.1Z" fill="#c0eaf9" stroke="#aee4f7" stroke-width="1.1" stroke-opacity="1.0"/></g>
<g opacity="0.5"><path d="M131.6 372.3L134.4 367.0L128.8 367.0Z" fill="#c0eaf9" stroke="#aee4f7" stroke-width="1.1" stroke-opacity="1.0"/></g>
<g opacity="0.5"><path d="M128.1 376.6L130.9 371.2L125.3 371.2Z" fill="#c0eaf9" stroke="#aee4f7" stroke-width="1.1" stroke-opacity="1.0"/></g>
<g opacity="0.5"><path d="M126.0 381.5L128.8 376.2L123.2 376.2Z" fill="#c0eaf9" stroke="#aee4f7" stroke-width="1.1" stroke-opacity="1.0"/></g>
<g opacity="0.5"><path d="M121.7 382.8L124.5 377.5L118.9 377.5Z" fill="#c0eaf9" stroke="#aee4f7" stroke-width="1.1" stroke-opacity="1.0"/></g>
<g opacity="0.5"><path d="M118.9 375.2L121.7 369.8L116.1 369.8Z" fill="#c0eaf9" stroke="#aee4f7" stroke-width="1.1" stroke-opacity="1.0"/></g>
<g opacity="0.5"><path d="M116.7 373.9L119.5 368.6L113.9 368.6Z" fill="#c0eaf9" stroke="#aee4f7" stroke-width="1.1" stroke-opacity="1.0"/></g>
<g opacity="0.5"><path d="M117.4 369.4L120.2 364.1L114.6 364.1Z" fill="#c0eaf9" stroke="#aee4f7" stroke-width="1.1" stroke-opacity="1.0"/></g>
<path d="M127.8 381.3L133.0 380.0L140.0 379.1L146.2 380.0L152.3 381.8L154.9 380.0L161.0 380.0L161.9 385.3L157.5 388.8L154.0 392.3L152.3 397.5L147.0 401.0L139.2 404.5L138.3 406.7L133.0 406.7L131.3 403.7L126.0 404.5L123.8 401.0L120.8 396.7L121.2 390.5L124.3 386.2Z" fill="#66c3ea"/>
<path d="M127.8 381.3L131.0 381.0L131.0 395.0L133.0 404.0L126.0 404.5L123.8 401.0L120.8 396.7L121.2 390.5L124.3 386.2Z" fill="#70cdf2"/>
<g opacity="0.5"><path d="M152.2 389.1L155.0 394.4L149.4 394.4Z" fill="#8fd8f5" stroke="#70cdf2" stroke-width="1.1" stroke-opacity="1.0"/></g>
<g opacity="0.5"><path d="M147.6 395.6L150.4 400.9L144.8 400.9Z" fill="#8fd8f5" stroke="#70cdf2" stroke-width="1.1" stroke-opacity="1.0"/></g>
<g opacity="0.5"><path d="M144.5 397.0L147.3 402.4L141.7 402.4Z" fill="#8fd8f5" stroke="#70cdf2" stroke-width="1.1" stroke-opacity="1.0"/></g>
<g opacity="0.5"><path d="M137.0 400.5L139.8 405.9L134.2 405.9Z" fill="#8fd8f5" stroke="#70cdf2" stroke-width="1.1" stroke-opacity="1.0"/></g>
<g opacity="0.5"><path d="M134.5 400.8L137.3 406.1L131.7 406.1Z" fill="#8fd8f5" stroke="#70cdf2" stroke-width="1.1" stroke-opacity="1.0"/></g>
<g opacity="0.5"><path d="M128.1 399.2L130.9 404.5L125.3 404.5Z" fill="#8fd8f5" stroke="#70cdf2" stroke-width="1.1" stroke-opacity="1.0"/></g>
<g opacity="0.5"><path d="M125.1 395.2L127.9 400.5L122.3 400.5Z" fill="#8fd8f5" stroke="#70cdf2" stroke-width="1.1" stroke-opacity="1.0"/></g>
<g opacity="0.5"><path d="M124.3 389.7L127.1 395.1L121.5 395.1Z" fill="#8fd8f5" stroke="#70cdf2" stroke-width="1.1" stroke-opacity="1.0"/></g>
<g opacity="0.5"><path d="M129.3 385.7L132.1 391.0L126.5 391.0Z" fill="#8fd8f5" stroke="#70cdf2" stroke-width="1.1" stroke-opacity="1.0"/></g>
<g opacity="0.5"><path d="M135.5 387.8L138.3 393.1L132.7 393.1Z" fill="#8fd8f5" stroke="#70cdf2" stroke-width="1.1" stroke-opacity="1.0"/></g>
<g opacity="0.5"><path d="M142.7 387.6L145.5 393.0L139.9 393.0Z" fill="#8fd8f5" stroke="#70cdf2" stroke-width="1.1" stroke-opacity="1.0"/></g>
<g opacity="0.5"><path d="M149.8 386.9L152.6 392.3L147.0 392.3Z" fill="#8fd8f5" stroke="#70cdf2" stroke-width="1.1" stroke-opacity="1.0"/></g>
<path d="M132.1 381.8L136.5 380.0L142.7 381.8L147.9 386.2L148.8 391.4L147.0 397.5L143.5 401.0L138.3 400.2L133.9 395.8L131.3 390.5L130.8 386.2Z" fill="#5aa5c8"/>
<path d="M134.5 380.0H137.1V382.0H139.1V384.6H137.1V386.5H134.5V384.6H132.6V382.0H134.5Z" fill="#5aa5c8" fill-opacity="0.55"/>
<path d="M139.8 381.1H142.4V383.1H144.3V385.7H142.4V387.6H139.8V385.7H137.8V383.1H139.8Z" fill="#5aa5c8" fill-opacity="0.55"/>
<path d="M144.0 383.7H146.6V385.6H148.5V388.2H146.6V390.2H144.0V388.2H142.0V385.6H144.0Z" fill="#5aa5c8" fill-opacity="0.55"/>
<path d="M143.8 390.0H146.4V392.0H148.3V394.6H146.4V396.5H143.8V394.6H141.8V392.0H143.8Z" fill="#5aa5c8" fill-opacity="0.55"/>
<path d="M141.2 394.9H143.8V396.8H145.7V399.4H143.8V401.4H141.2V399.4H139.2V396.8H141.2Z" fill="#5aa5c8" fill-opacity="0.55"/>
<path d="M136.2 392.1H138.8V394.0H140.7V396.6H138.8V398.6H136.2V396.6H134.2V394.0H136.2Z" fill="#5aa5c8" fill-opacity="0.55"/>
<path d="M135.3 389.8H137.9V391.8H139.8V394.4H137.9V396.3H135.3V394.4H133.3V391.8H135.3Z" fill="#5aa5c8" fill-opacity="0.55"/>
<path d="M131.9 384.2H134.5V386.2H136.4V388.8H134.5V390.7H131.9V388.8H129.9V386.2H131.9Z" fill="#5aa5c8" fill-opacity="0.55"/>
<g opacity="0.7"><rect x="162.6" y="382.9" width="5.6" height="5.6" fill="#7ec4e4" stroke="#5ab4dc" stroke-width="1.1" stroke-opacity="1.0"/></g>
<g opacity="0.7"><rect x="166.7" y="386.9" width="5.6" height="5.6" fill="#7ec4e4" stroke="#5ab4dc" stroke-width="1.1" stroke-opacity="1.0"/></g>
<path d="M74.3 17.3L77.1 23.0L81.1 21.2L83.7 25.6L86.0 28.0L88.5 31.0L88.5 34.0L87.7 37.4L88.5 41.8L89.0 45.3L86.8 47.9L83.3 48.8L81.5 52.3L78.9 52.7L76.3 49.7L72.8 48.8L68.8 46.6L68.4 40.0L66.6 33.0L68.8 27.8L71.9 21.6Z" fill="#4ccb9c"/>
<path d="M72.0 30.0L76.0 25.0L80.0 24.0L84.0 27.0L88.0 31.0L87.5 37.0L88.5 42.0L88.5 45.5L86.0 48.0L83.0 49.0L81.5 52.3L78.9 52.7L76.0 50.0L73.0 46.0L71.5 40.0L71.0 34.0Z" fill="#40a984"/>
<g opacity="0.35"><circle cx="88.5" cy="29.0" r="2.80" fill="#c1efdf" stroke="#b0ead6" stroke-width="1.1" stroke-opacity="1.0"/></g>
<g opacity="0.35"><circle cx="90.5" cy="31.5" r="2.80" fill="#c1efdf" stroke="#b0ead6" stroke-width="1.1" stroke-opacity="1.0"/></g>
<g opacity="0.6"><path d="M70.0 30.1L72.8 35.4L67.2 35.4Z" fill="#73d6b2" stroke="#4ccb9c" stroke-width="1.1" stroke-opacity="1.0"/></g>
<g opacity="0.6"><path d="M69.5 35.1L72.3 40.4L66.7 40.4Z" fill="#73d6b2" stroke="#4ccb9c" stroke-width="1.1" stroke-opacity="1.0"/></g>
<g opacity="0.6"><path d="M70.5 40.1L73.3 45.4L67.7 45.4Z" fill="#73d6b2" stroke="#4ccb9c" stroke-width="1.1" stroke-opacity="1.0"/></g>
<g opacity="0.6"><path d="M71.5 43.1L74.3 48.4L68.7 48.4Z" fill="#73d6b2" stroke="#4ccb9c" stroke-width="1.1" stroke-opacity="1.0"/></g>
<g opacity="0.6"><path d="M74.0 44.6L76.8 49.9L71.2 49.9Z" fill="#73d6b2" stroke="#4ccb9c" stroke-width="1.1" stroke-opacity="1.0"/></g>
<g opacity="0.6"><path d="M73.0 22.1L75.8 27.4L70.2 27.4Z" fill="#73d6b2" stroke="#4ccb9c" stroke-width="1.1" stroke-opacity="1.0"/></g>
<g opacity="0.6"><path d="M75.0 18.1L77.8 23.4L72.2 23.4Z" fill="#73d6b2" stroke="#4ccb9c" stroke-width="1.1" stroke-opacity="1.0"/></g>
<g opacity="0.6"><path d="M80.5 21.6L83.3 26.9L77.7 26.9Z" fill="#73d6b2" stroke="#4ccb9c" stroke-width="1.1" stroke-opacity="1.0"/></g>
<g opacity="0.6"><rect x="82.2" y="32.2" width="5.6" height="5.6" fill="#6abc9f" stroke="#40a984" stroke-width="1.1" stroke-opacity="1.0"/></g>
<g opacity="0.6"><rect x="82.7" y="37.2" width="5.6" height="5.6" fill="#6abc9f" stroke="#40a984" stroke-width="1.1" stroke-opacity="1.0"/></g>
<g opacity="0.6"><rect x="83.2" y="41.2" width="5.6" height="5.6" fill="#6abc9f" stroke="#40a984" stroke-width="1.1" stroke-opacity="1.0"/></g>
<g opacity="0.6"><rect x="80.7" y="43.7" width="5.6" height="5.6" fill="#6abc9f" stroke="#40a984" stroke-width="1.1" stroke-opacity="1.0"/></g>
<g opacity="0.6"><rect x="77.2" y="47.2" width="5.6" height="5.6" fill="#6abc9f" stroke="#40a984" stroke-width="1.1" stroke-opacity="1.0"/></g>
<g opacity="0.6"><rect x="74.7" y="44.7" width="5.6" height="5.6" fill="#6abc9f" stroke="#40a984" stroke-width="1.1" stroke-opacity="1.0"/></g>
<g opacity="0.6"><rect x="72.2" y="26.2" width="5.6" height="5.6" fill="#6abc9f" stroke="#40a984" stroke-width="1.1" stroke-opacity="1.0"/></g>
<g opacity="0.6"><rect x="76.2" y="24.7" width="5.6" height="5.6" fill="#6abc9f" stroke="#40a984" stroke-width="1.1" stroke-opacity="1.0"/></g>
<path d="M84.2 42.8H86.8V44.7H88.8V47.3H86.8V49.2H84.2V47.3H82.2V44.7H84.2Z" fill="#3f9f7e" fill-opacity="0.7999999999999999"/>
<path d="M80.7 45.8H83.3V47.7H85.2V50.3H83.3V52.2H80.7V50.3H78.8V47.7H80.7Z" fill="#3f9f7e" fill-opacity="0.7999999999999999"/>
<path d="M78.2 47.8H80.8V49.7H82.8V52.3H80.8V54.2H78.2V52.3H76.2V49.7H78.2Z" fill="#3f9f7e" fill-opacity="0.7999999999999999"/>
<path d="M89.4 46.9H92.0V48.8H94.0V51.4H92.0V53.4H89.4V51.4H87.5V48.8H89.4Z" fill="#3f9f7e" fill-opacity="0.95"/>
<path d="M83.2 54.8H85.8V56.7H87.8V59.3H85.8V61.2H83.2V59.3H81.2V56.7H83.2Z" fill="#3f9f7e" fill-opacity="0.95"/>
<path d="M85.9 57.8H88.5V59.7H90.5V62.3H88.5V64.2H85.9V62.3H84.0V59.7H85.9Z" fill="#3f9f7e" fill-opacity="0.95"/>
<path d="M88.7 60.8H91.3V62.7H93.2V65.3H91.3V67.2H88.7V65.3H86.8V62.7H88.7Z" fill="#3f9f7e" fill-opacity="0.95"/>
<path d="M81.1 68.2H83.7V70.2H85.7V72.8H83.7V74.8H81.1V72.8H79.2V70.2H81.1Z" fill="#3f9f7e" fill-opacity="0.95"/>
<rect x="38.4" y="1.3" width="594.2" height="422" fill="none" stroke="#474747" stroke-width="1.1"/>
<line x1="70.5" y1="423.3" x2="70.5" y2="428.4" stroke="#474747" stroke-width="1.1"/>
<text x="70.5" y="439.6" font-size="7.6" text-anchor="middle" fill="#333">−200</text>
<line x1="159.7" y1="423.3" x2="159.7" y2="428.4" stroke="#474747" stroke-width="1.1"/>
<text x="159.7" y="439.6" font-size="7.6" text-anchor="middle" fill="#333">−100</text>
<line x1="248.8" y1="423.3" x2="248.8" y2="428.4" stroke="#474747" stroke-width="1.1"/>
<text x="248.8" y="439.6" font-size="7.6" text-anchor="middle" fill="#333">0</text>
<line x1="337.9" y1="423.3" x2="337.9" y2="428.4" stroke="#474747" stroke-width="1.1"/>
<text x="337.9" y="439.6" font-size="7.6" text-anchor="middle" fill="#333">100</text>
<line x1="427.1" y1="423.3" x2="427.1" y2="428.4" stroke="#474747" stroke-width="1.1"/>
<text x="427.1" y="439.6" font-size="7.6" text-anchor="middle" fill="#333">200</text>
<line x1="516.2" y1="423.3" x2="516.2" y2="428.4" stroke="#474747" stroke-width="1.1"/>
<text x="516.2" y="439.6" font-size="7.6" text-anchor="middle" fill="#333">300</text>
<line x1="605.4" y1="423.3" x2="605.4" y2="428.4" stroke="#474747" stroke-width="1.1"/>
<text x="605.4" y="439.6" font-size="7.6" text-anchor="middle" fill="#333">400</text>
<line x1="33.3" y1="79.7" x2="38.4" y2="79.7" stroke="#474747" stroke-width="1.1"/>
<text x="28.6" y="82.4" font-size="7.6" text-anchor="end" fill="#333">200</text>
<line x1="33.3" y1="159.1" x2="38.4" y2="159.1" stroke="#474747" stroke-width="1.1"/>
<text x="28.6" y="161.8" font-size="7.6" text-anchor="end" fill="#333">100</text>
<line x1="33.3" y1="238.4" x2="38.4" y2="238.4" stroke="#474747" stroke-width="1.1"/>
<text x="28.6" y="241.1" font-size="7.6" text-anchor="end" fill="#333">0</text>
<line x1="33.3" y1="317.8" x2="38.4" y2="317.8" stroke="#474747" stroke-width="1.1"/>
<text x="28.6" y="320.4" font-size="7.6" text-anchor="end" fill="#333">−100</text>
<line x1="33.3" y1="397.1" x2="38.4" y2="397.1" stroke="#474747" stroke-width="1.1"/>
<text x="28.6" y="399.8" font-size="7.6" text-anchor="end" fill="#333">−200</text>
<text x="335.5" y="453.8" font-size="12" text-anchor="middle" fill="#222">PC 1</text>
<text transform="translate(15.6 212.2) rotate(-90)" font-size="12" text-anchor="middle" fill="#222">PC 2</text>
<text x="0.4" y="12.6" font-size="14.5" fill="#222">(a)</text>
<rect x="633.3" y="3.7" width="27.6" height="14.4" fill="#fdd6d6"/>
<text x="633.8" y="15.1" font-size="12.2" fill="#111">ACB</text>
<rect x="633.3" y="19.9" width="30.3" height="14.4" fill="#fdd6d6"/>
<text x="633.8" y="31.3" font-size="12.2" fill="#111">ASW</text>
<rect x="633.3" y="36.1" width="27.6" height="14.4" fill="#fdd6d6"/>
<text x="633.8" y="47.5" font-size="12.2" fill="#111">ESN</text>
<rect x="633.3" y="52.4" width="32.3" height="14.4" fill="#fdd6d6"/>
<text x="633.8" y="63.8" font-size="12.2" fill="#111">GWD</text>
<rect x="633.3" y="68.6" width="28.0" height="14.4" fill="#fdd6d6"/>
<text x="633.8" y="80.0" font-size="12.2" fill="#111">LWK</text>
<rect x="633.3" y="84.8" width="27.6" height="14.4" fill="#fdd6d6"/>
<text x="633.8" y="96.2" font-size="12.2" fill="#111">MSL</text>
<rect x="633.3" y="101.0" width="22.8" height="14.4" fill="#fdd6d6"/>
<text x="633.8" y="112.4" font-size="12.2" fill="#111">YRI</text>
<rect x="633.3" y="117.2" width="28.3" height="14.4" fill="#e1e0b5"/>
<text x="633.8" y="128.6" font-size="12.2" fill="#111">CLM</text>
<rect x="633.3" y="133.5" width="27.6" height="14.4" fill="#e1e0b5"/>
<text x="633.8" y="144.9" font-size="12.2" fill="#111">MXL</text>
<rect x="633.3" y="149.7" width="25.6" height="14.4" fill="#e1e0b5"/>
<text x="633.8" y="161.1" font-size="12.2" fill="#111">PEL</text>
<rect x="633.3" y="165.9" width="28.3" height="14.4" fill="#e1e0b5"/>
<text x="633.8" y="177.3" font-size="12.2" fill="#111">PUR</text>
<rect x="633.3" y="182.1" width="28.3" height="14.4" fill="#a9e7d0"/>
<text x="633.8" y="193.5" font-size="12.2" fill="#111">CDX</text>
<rect x="633.3" y="198.3" width="28.3" height="14.4" fill="#a9e7d0"/>
<text x="633.8" y="209.7" font-size="12.2" fill="#111">CHB</text>
<rect x="633.3" y="214.6" width="28.3" height="14.4" fill="#a9e7d0"/>
<text x="633.8" y="226.0" font-size="12.2" fill="#111">CHS</text>
<rect x="633.3" y="230.8" width="24.2" height="14.4" fill="#a9e7d0"/>
<text x="633.8" y="242.2" font-size="12.2" fill="#111">JPT</text>
<rect x="633.3" y="247.0" width="27.6" height="14.4" fill="#a9e7d0"/>
<text x="633.8" y="258.4" font-size="12.2" fill="#111">KHV</text>
<rect x="633.3" y="263.2" width="28.3" height="14.4" fill="#bde6f8"/>
<text x="633.8" y="274.6" font-size="12.2" fill="#111">CEU</text>
<rect x="633.3" y="279.4" width="22.2" height="14.4" fill="#bde6f8"/>
<text x="633.8" y="290.8" font-size="12.2" fill="#111">FIN</text>
<rect x="633.3" y="295.7" width="28.9" height="14.4" fill="#bde6f8"/>
<text x="633.8" y="307.1" font-size="12.2" fill="#111">GBR</text>
<rect x="633.3" y="311.9" width="22.2" height="14.4" fill="#bde6f8"/>
<text x="633.8" y="323.3" font-size="12.2" fill="#111">IBS</text>
<rect x="633.3" y="328.1" width="21.5" height="14.4" fill="#bde6f8"/>
<text x="633.8" y="339.5" font-size="12.2" fill="#111">TSI</text>
<rect x="633.3" y="344.3" width="26.9" height="14.4" fill="#f5cdf5"/>
<text x="633.8" y="355.7" font-size="12.2" fill="#111">BEB</text>
<rect x="633.3" y="360.5" width="24.2" height="14.4" fill="#f5cdf5"/>
<text x="633.8" y="371.9" font-size="12.2" fill="#111">GIH</text>
<rect x="633.3" y="376.8" width="22.2" height="14.4" fill="#f5cdf5"/>
<text x="633.8" y="388.2" font-size="12.2" fill="#111">ITU</text>
<rect x="633.3" y="393.0" width="23.5" height="14.4" fill="#f5cdf5"/>
<text x="633.8" y="404.4" font-size="12.2" fill="#111">PJL</text>
<rect x="633.3" y="409.2" width="26.9" height="14.4" fill="#f5cdf5"/>
<text x="633.8" y="420.6" font-size="12.2" fill="#111">STU</text>
<circle cx="678.9" cy="10.9" r="5.20" fill="#fde8e8"/>
<path d="M678.9 32.6L684.1 22.7L673.7 22.7Z" fill="#fddcdc"/>
<path d="M678.9 37.9L684.1 47.8L673.7 47.8Z" fill="#fcd2d2"/>
<rect x="673.7" y="54.4" width="10.4" height="10.4" fill="#fbc4c4"/>
<path d="M676.8 70.6H681.0V73.7H684.1V77.9H681.0V81.0H676.8V77.9H673.7V73.7H676.8Z" fill="#eab8b8"/>
<path d="M678.9 86.8L682.3 92.0L678.9 97.2L675.5 92.0Z" fill="#d6a6a6"/>
<polygon points="678.9,102.9 680.4,106.6 684.4,106.9 681.4,109.5 682.3,113.4 678.9,111.3 675.5,113.4 676.4,109.5 673.4,106.9 677.4,106.6" fill="#c39595"/>
<circle cx="678.9" cy="124.4" r="5.20" fill="#e8e8c2"/>
<path d="M678.9 146.1L684.1 136.2L673.7 136.2Z" fill="#dcdb98"/>
<path d="M678.9 151.4L684.1 161.3L673.7 161.3Z" fill="#d8d78e"/>
<rect x="673.7" y="167.9" width="10.4" height="10.4" fill="#cfcd88"/>
<circle cx="678.9" cy="189.3" r="5.20" fill="#d6f5ea"/>
<path d="M678.9 211.0L684.1 201.1L673.7 201.1Z" fill="#b4ecd8"/>
<path d="M678.9 216.3L684.1 226.2L673.7 226.2Z" fill="#7fdcb8"/>
<rect x="673.7" y="232.8" width="10.4" height="10.4" fill="#72c8a6"/>
<path d="M676.8 249.0H681.0V252.1H684.1V256.3H681.0V259.4H676.8V256.3H673.7V252.1H676.8Z" fill="#6fc0a0"/>
<circle cx="678.9" cy="270.4" r="5.20" fill="#e0f4fc"/>
<path d="M678.9 292.1L684.1 282.2L673.7 282.2Z" fill="#c8ecf9"/>
<path d="M678.9 297.4L684.1 307.3L673.7 307.3Z" fill="#9cdcf6"/>
<rect x="673.7" y="313.9" width="10.4" height="10.4" fill="#90cceb"/>
<path d="M676.8 330.1H681.0V333.2H684.1V337.4H681.0V340.5H676.8V337.4H673.7V333.2H676.8Z" fill="#8cbfd8"/>
<circle cx="678.9" cy="351.5" r="5.20" fill="#f9e2f9"/>
<path d="M678.9 373.2L684.1 363.3L673.7 363.3Z" fill="#f7d8f7"/>
<path d="M678.9 378.5L684.1 388.4L673.7 388.4Z" fill="#f2b8f2"/>
<rect x="673.7" y="395.0" width="10.4" height="10.4" fill="#e4b0e4"/>
<path d="M676.8 411.2H681.0V414.3H684.1V418.5H681.0V421.6H676.8V418.5H673.7V414.3H676.8Z" fill="#d4a8d8"/>
<circle cx="263.9" cy="479.6" r="5.3" fill="#fde3e3"/>
<circle cx="480.8" cy="479.6" r="5.3" fill="#fde3e3"/>
<circle cx="485.0" cy="479.6" r="5.3" fill="#fde3e3"/>
<circle cx="503.0" cy="479.6" r="5.3" fill="#fde3e3"/>
<circle cx="509.0" cy="479.6" r="5.3" fill="#fde3e3"/>
<circle cx="515.0" cy="479.6" r="5.3" fill="#fde3e3"/>
<circle cx="521.0" cy="479.6" r="5.3" fill="#fde3e3"/>
<circle cx="527.0" cy="479.6" r="5.3" fill="#fde3e3"/>
<circle cx="532.5" cy="479.6" r="5.3" fill="#fde3e3"/>
<circle cx="549.2" cy="479.6" r="5.3" fill="#fde3e3"/>
<circle cx="581.2" cy="479.6" r="5.3" fill="#fde3e3"/>
<circle cx="595.3" cy="479.6" r="5.3" fill="#fde3e3"/>
<circle cx="601.0" cy="479.6" r="5.3" fill="#fde3e3"/>
<circle cx="607.0" cy="479.6" r="5.3" fill="#fde3e3"/>
<circle cx="611.0" cy="479.6" r="5.3" fill="#fde3e3"/>
<circle cx="615.7" cy="479.6" r="5.3" fill="#fde3e3"/>
<circle cx="411.7" cy="495.8" r="5.3" fill="#fdd8d8"/>
<circle cx="433.2" cy="495.8" r="5.3" fill="#fdd8d8"/>
<circle cx="446.1" cy="495.8" r="5.3" fill="#fdd8d8"/>
<circle cx="458.5" cy="495.8" r="5.3" fill="#fdd8d8"/>
<circle cx="463.0" cy="495.8" r="5.3" fill="#fdd8d8"/>
<circle cx="467.5" cy="495.8" r="5.3" fill="#fdd8d8"/>
<circle cx="472.5" cy="495.8" r="5.3" fill="#fdd8d8"/>
<circle cx="495.8" cy="495.8" r="5.3" fill="#fdd8d8"/>
<circle cx="506.8" cy="495.8" r="5.3" fill="#fdd8d8"/>
<circle cx="523.0" cy="495.8" r="5.3" fill="#fdd8d8"/>
<circle cx="536.0" cy="495.8" r="5.3" fill="#fdd8d8"/>
<circle cx="552.6" cy="495.8" r="5.3" fill="#fdd8d8"/>
<circle cx="554.8" cy="495.8" r="5.3" fill="#fdd8d8"/>
<circle cx="594.2" cy="495.8" r="5.3" fill="#fdd8d8"/>
<circle cx="598.3" cy="495.8" r="5.3" fill="#fdd8d8"/>
<circle cx="610.5" cy="495.8" r="5.3" fill="#fdd8d8"/>
<circle cx="616.9" cy="495.8" r="5.3" fill="#fdd8d8"/>
<circle cx="534.3" cy="512.1" r="5.3" fill="#fccac8"/>
<circle cx="541.0" cy="512.1" r="5.3" fill="#fccac8"/>
<circle cx="547.2" cy="512.1" r="5.3" fill="#fccac8"/>
<circle cx="562.3" cy="512.1" r="5.3" fill="#fccac8"/>
<circle cx="573.6" cy="512.1" r="5.3" fill="#fccac8"/>
<circle cx="580.0" cy="512.1" r="5.3" fill="#fccac8"/>
<circle cx="586.0" cy="512.1" r="5.3" fill="#fccac8"/>
<circle cx="592.0" cy="512.1" r="5.3" fill="#fccac8"/>
<circle cx="598.7" cy="512.1" r="5.3" fill="#fccac8"/>
<circle cx="616.3" cy="512.1" r="5.3" fill="#fccac8"/>
<circle cx="620.4" cy="512.1" r="5.3" fill="#fccac8"/>
<circle cx="502.7" cy="528.3" r="5.3" fill="#f9b0ab"/>
<circle cx="508.0" cy="528.3" r="5.3" fill="#f9b0ab"/>
<circle cx="514.0" cy="528.3" r="5.3" fill="#f9b0ab"/>
<circle cx="520.0" cy="528.3" r="5.3" fill="#f9b0ab"/>
<circle cx="525.0" cy="528.3" r="5.3" fill="#f9b0ab"/>
<circle cx="531.0" cy="528.3" r="5.3" fill="#f9b0ab"/>
<circle cx="537.5" cy="528.3" r="5.3" fill="#f9b0ab"/>
<circle cx="549.0" cy="528.3" r="5.3" fill="#f9b0ab"/>
<circle cx="555.0" cy="528.3" r="5.3" fill="#f9b0ab"/>
<circle cx="559.0" cy="528.3" r="5.3" fill="#f9b0ab"/>
<circle cx="564.5" cy="528.3" r="5.3" fill="#f9b0ab"/>
<circle cx="576.5" cy="528.3" r="5.3" fill="#f9b0ab"/>
<circle cx="582.0" cy="528.3" r="5.3" fill="#f9b0ab"/>
<circle cx="588.0" cy="528.3" r="5.3" fill="#f9b0ab"/>
<circle cx="594.7" cy="528.3" r="5.3" fill="#f9b0ab"/>
<circle cx="615.0" cy="528.3" r="5.3" fill="#f9b0ab"/>
<circle cx="620.4" cy="528.3" r="5.3" fill="#f9b0ab"/>
<circle cx="591.6" cy="544.6" r="5.3" fill="#dba09c"/>
<circle cx="606.7" cy="544.6" r="5.3" fill="#dba09c"/>
<circle cx="612.0" cy="544.6" r="5.3" fill="#dba09c"/>
<circle cx="617.4" cy="544.6" r="5.3" fill="#dba09c"/>
<circle cx="543.0" cy="560.8" r="5.3" fill="#c78f8e"/>
<circle cx="549.0" cy="560.8" r="5.3" fill="#c78f8e"/>
<circle cx="554.0" cy="560.8" r="5.3" fill="#c78f8e"/>
<circle cx="560.0" cy="560.8" r="5.3" fill="#c78f8e"/>
<circle cx="591.3" cy="560.8" r="5.3" fill="#c78f8e"/>
<circle cx="597.7" cy="560.8" r="5.3" fill="#c78f8e"/>
<circle cx="610.5" cy="560.8" r="5.3" fill="#c78f8e"/>
<circle cx="615.5" cy="560.8" r="5.3" fill="#c78f8e"/>
<circle cx="620.6" cy="560.8" r="5.3" fill="#c78f8e"/>
<circle cx="475.9" cy="577.0" r="5.3" fill="#aa7977"/>
<circle cx="532.3" cy="577.0" r="5.3" fill="#aa7977"/>
<circle cx="537.0" cy="577.0" r="5.3" fill="#aa7977"/>
<circle cx="541.7" cy="577.0" r="5.3" fill="#aa7977"/>
<circle cx="565.5" cy="577.0" r="5.3" fill="#aa7977"/>
<circle cx="571.0" cy="577.0" r="5.3" fill="#aa7977"/>
<circle cx="577.7" cy="577.0" r="5.3" fill="#aa7977"/>
<circle cx="592.0" cy="577.0" r="5.3" fill="#aa7977"/>
<circle cx="599.0" cy="577.0" r="5.3" fill="#aa7977"/>
<circle cx="619.2" cy="577.0" r="5.3" fill="#aa7977"/>
<circle cx="97.6" cy="593.3" r="5.3" fill="#e3e3b0"/>
<circle cx="198.2" cy="593.3" r="5.3" fill="#e3e3b0"/>
<circle cx="233.2" cy="593.3" r="5.3" fill="#e3e3b0"/>
<circle cx="259.5" cy="593.3" r="5.3" fill="#e3e3b0"/>
<circle cx="282.3" cy="593.3" r="5.3" fill="#e3e3b0"/>
<circle cx="307.6" cy="593.3" r="5.3" fill="#e3e3b0"/>
<circle cx="313.0" cy="593.3" r="5.3" fill="#e3e3b0"/>
<circle cx="318.5" cy="593.3" r="5.3" fill="#e3e3b0"/>
<circle cx="324.0" cy="593.3" r="5.3" fill="#e3e3b0"/>
<circle cx="343.0" cy="593.3" r="5.3" fill="#e3e3b0"/>
<circle cx="351.5" cy="593.3" r="5.3" fill="#e3e3b0"/>
<circle cx="417.0" cy="593.3" r="5.3" fill="#e3e3b0"/>
<circle cx="420.5" cy="593.3" r="5.3" fill="#e3e3b0"/>
<circle cx="440.4" cy="593.3" r="5.3" fill="#e3e3b0"/>
<circle cx="521.0" cy="593.3" r="5.3" fill="#e3e3b0"/>
<circle cx="527.0" cy="593.3" r="5.3" fill="#e3e3b0"/>
<circle cx="533.0" cy="593.3" r="5.3" fill="#e3e3b0"/>
<circle cx="540.0" cy="593.3" r="5.3" fill="#e3e3b0"/>
<circle cx="546.0" cy="593.3" r="5.3" fill="#e3e3b0"/>
<circle cx="552.0" cy="593.3" r="5.3" fill="#e3e3b0"/>
<circle cx="557.3" cy="593.3" r="5.3" fill="#e3e3b0"/>
<circle cx="168.9" cy="609.5" r="5.3" fill="#cfcd72"/>
<circle cx="188.1" cy="609.5" r="5.3" fill="#cfcd72"/>
<circle cx="198.6" cy="609.5" r="5.3" fill="#cfcd72"/>
<circle cx="274.6" cy="609.5" r="5.3" fill="#cfcd72"/>
<circle cx="289.0" cy="609.5" r="5.3" fill="#cfcd72"/>
<circle cx="316.0" cy="609.5" r="5.3" fill="#cfcd72"/>
<circle cx="319.5" cy="609.5" r="5.3" fill="#cfcd72"/>
<circle cx="334.5" cy="609.5" r="5.3" fill="#cfcd72"/>
<circle cx="339.5" cy="609.5" r="5.3" fill="#cfcd72"/>
<circle cx="352.0" cy="609.5" r="5.3" fill="#cfcd72"/>
<circle cx="356.5" cy="609.5" r="5.3" fill="#cfcd72"/>
<circle cx="361.3" cy="609.5" r="5.3" fill="#cfcd72"/>
<circle cx="434.8" cy="609.5" r="5.3" fill="#cfcd72"/>
<circle cx="439.0" cy="609.5" r="5.3" fill="#cfcd72"/>
<circle cx="507.5" cy="609.5" r="5.3" fill="#cfcd72"/>
<circle cx="514.0" cy="609.5" r="5.3" fill="#cfcd72"/>
<circle cx="534.0" cy="609.5" r="5.3" fill="#cfcd72"/>
<circle cx="563.1" cy="609.5" r="5.3" fill="#cfcd72"/>
<circle cx="574.3" cy="609.5" r="5.3" fill="#cfcd72"/>
<circle cx="585.7" cy="609.5" r="5.3" fill="#cfcd72"/>
<circle cx="365.5" cy="625.8" r="5.3" fill="#c9c763"/>
<circle cx="395.1" cy="625.8" r="5.3" fill="#c9c763"/>
<circle cx="431.0" cy="625.8" r="5.3" fill="#c9c763"/>
<circle cx="455.1" cy="625.8" r="5.3" fill="#c9c763"/>
<circle cx="469.5" cy="625.8" r="5.3" fill="#c9c763"/>
<circle cx="478.0" cy="625.8" r="5.3" fill="#c9c763"/>
<circle cx="506.5" cy="625.8" r="5.3" fill="#c9c763"/>
<circle cx="513.0" cy="625.8" r="5.3" fill="#c9c763"/>
<circle cx="520.0" cy="625.8" r="5.3" fill="#c9c763"/>
<circle cx="526.0" cy="625.8" r="5.3" fill="#c9c763"/>
<circle cx="541.0" cy="625.8" r="5.3" fill="#c9c763"/>
<circle cx="547.0" cy="625.8" r="5.3" fill="#c9c763"/>
<circle cx="553.0" cy="625.8" r="5.3" fill="#c9c763"/>
<circle cx="559.0" cy="625.8" r="5.3" fill="#c9c763"/>
<circle cx="565.0" cy="625.8" r="5.3" fill="#c9c763"/>
<circle cx="571.0" cy="625.8" r="5.3" fill="#c9c763"/>
<circle cx="577.0" cy="625.8" r="5.3" fill="#c9c763"/>
<circle cx="583.0" cy="625.8" r="5.3" fill="#c9c763"/>
<circle cx="590.5" cy="625.8" r="5.3" fill="#c9c763"/>
<circle cx="606.4" cy="625.8" r="5.3" fill="#c9c763"/>
<circle cx="153.4" cy="642.0" r="5.3" fill="#b3b058"/>
<circle cx="187.2" cy="642.0" r="5.3" fill="#b3b058"/>
<circle cx="203.0" cy="642.0" r="5.3" fill="#b3b058"/>
<circle cx="206.5" cy="642.0" r="5.3" fill="#b3b058"/>
<circle cx="231.5" cy="642.0" r="5.3" fill="#b3b058"/>
<circle cx="265.5" cy="642.0" r="5.3" fill="#b3b058"/>
<circle cx="277.5" cy="642.0" r="5.3" fill="#b3b058"/>
<circle cx="310.0" cy="642.0" r="5.3" fill="#b3b058"/>
<circle cx="315.5" cy="642.0" r="5.3" fill="#b3b058"/>
<circle cx="321.5" cy="642.0" r="5.3" fill="#b3b058"/>
<circle cx="327.5" cy="642.0" r="5.3" fill="#b3b058"/>
<circle cx="360.5" cy="642.0" r="5.3" fill="#b3b058"/>
<circle cx="377.6" cy="642.0" r="5.3" fill="#b3b058"/>
<circle cx="454.5" cy="642.0" r="5.3" fill="#b3b058"/>
<circle cx="464.5" cy="642.0" r="5.3" fill="#b3b058"/>
<circle cx="511.3" cy="642.0" r="5.3" fill="#b3b058"/>
<circle cx="520.4" cy="642.0" r="5.3" fill="#b3b058"/>
<circle cx="594.0" cy="658.2" r="5.3" fill="#c8f0e0"/>
<circle cx="596.8" cy="658.2" r="5.3" fill="#c8f0e0"/>
<circle cx="599.5" cy="658.2" r="5.3" fill="#c8f0e0"/>
<circle cx="602.2" cy="658.2" r="5.3" fill="#c8f0e0"/>
<circle cx="605.0" cy="658.2" r="5.3" fill="#c8f0e0"/>
<circle cx="596.0" cy="674.5" r="5.3" fill="#94e3c8"/>
<circle cx="598.0" cy="674.5" r="5.3" fill="#94e3c8"/>
<circle cx="600.0" cy="674.5" r="5.3" fill="#94e3c8"/>
<circle cx="602.2" cy="674.5" r="5.3" fill="#94e3c8"/>
<circle cx="604.5" cy="674.5" r="5.3" fill="#94e3c8"/>
<circle cx="369.2" cy="690.7" r="5.3" fill="#4ccf9c"/>
<circle cx="380.4" cy="690.7" r="5.3" fill="#4ccf9c"/>
<circle cx="418.7" cy="690.7" r="5.3" fill="#4ccf9c"/>
<circle cx="494.4" cy="690.7" r="5.3" fill="#4ccf9c"/>
<circle cx="500.0" cy="690.7" r="5.3" fill="#4ccf9c"/>
<circle cx="506.0" cy="690.7" r="5.3" fill="#4ccf9c"/>
<circle cx="512.0" cy="690.7" r="5.3" fill="#4ccf9c"/>
<circle cx="518.0" cy="690.7" r="5.3" fill="#4ccf9c"/>
<circle cx="525.5" cy="690.7" r="5.3" fill="#4ccf9c"/>
<circle cx="545.7" cy="690.7" r="5.3" fill="#4ccf9c"/>
<circle cx="552.0" cy="690.7" r="5.3" fill="#4ccf9c"/>
<circle cx="560.0" cy="690.7" r="5.3" fill="#4ccf9c"/>
<circle cx="597.0" cy="690.7" r="5.3" fill="#4ccf9c"/>
<circle cx="599.5" cy="690.7" r="5.3" fill="#4ccf9c"/>
<circle cx="602.0" cy="690.7" r="5.3" fill="#4ccf9c"/>
<circle cx="604.0" cy="690.7" r="5.3" fill="#4ccf9c"/>
<circle cx="606.0" cy="690.7" r="5.3" fill="#4ccf9c"/>
<circle cx="595.2" cy="707.0" r="5.3" fill="#42bb8f"/>
<circle cx="598.1" cy="707.0" r="5.3" fill="#42bb8f"/>
<circle cx="601.0" cy="707.0" r="5.3" fill="#42bb8f"/>
<circle cx="603.6" cy="707.0" r="5.3" fill="#42bb8f"/>
<circle cx="606.3" cy="707.0" r="5.3" fill="#42bb8f"/>
<circle cx="491.5" cy="723.2" r="5.3" fill="#3aa27c"/>
<circle cx="505.4" cy="723.2" r="5.3" fill="#3aa27c"/>
<circle cx="513.0" cy="723.2" r="5.3" fill="#3aa27c"/>
<circle cx="519.5" cy="723.2" r="5.3" fill="#3aa27c"/>
<circle cx="547.0" cy="723.2" r="5.3" fill="#3aa27c"/>
<circle cx="552.8" cy="723.2" r="5.3" fill="#3aa27c"/>
<circle cx="595.6" cy="723.2" r="5.3" fill="#3aa27c"/>
<circle cx="597.8" cy="723.2" r="5.3" fill="#3aa27c"/>
<circle cx="600.0" cy="723.2" r="5.3" fill="#3aa27c"/>
<circle cx="602.5" cy="723.2" r="5.3" fill="#3aa27c"/>
<circle cx="605.0" cy="723.2" r="5.3" fill="#3aa27c"/>
<circle cx="399.3" cy="739.4" r="5.3" fill="#d3effa"/>
<circle cx="405.0" cy="739.4" r="5.3" fill="#d3effa"/>
<circle cx="410.0" cy="739.4" r="5.3" fill="#d3effa"/>
<circle cx="416.0" cy="739.4" r="5.3" fill="#d3effa"/>
<circle cx="422.0" cy="739.4" r="5.3" fill="#d3effa"/>
<circle cx="427.0" cy="739.4" r="5.3" fill="#d3effa"/>
<circle cx="433.5" cy="739.4" r="5.3" fill="#d3effa"/>
<circle cx="445.4" cy="739.4" r="5.3" fill="#d3effa"/>
<circle cx="487.0" cy="739.4" r="5.3" fill="#d3effa"/>
<circle cx="492.5" cy="739.4" r="5.3" fill="#d3effa"/>
<circle cx="497.8" cy="739.4" r="5.3" fill="#d3effa"/>
<circle cx="568.3" cy="739.4" r="5.3" fill="#d3effa"/>
<circle cx="574.0" cy="739.4" r="5.3" fill="#d3effa"/>
<circle cx="553.3" cy="755.7" r="5.3" fill="#b3e4f7"/>
<circle cx="564.0" cy="755.7" r="5.3" fill="#b3e4f7"/>
<circle cx="567.0" cy="755.7" r="5.3" fill="#b3e4f7"/>
<circle cx="570.0" cy="755.7" r="5.3" fill="#b3e4f7"/>
<circle cx="572.5" cy="755.7" r="5.3" fill="#b3e4f7"/>
<circle cx="575.0" cy="755.7" r="5.3" fill="#b3e4f7"/>
<circle cx="577.9" cy="755.7" r="5.3" fill="#b3e4f7"/>
<circle cx="580.8" cy="755.7" r="5.3" fill="#b3e4f7"/>
<circle cx="556.0" cy="771.9" r="5.3" fill="#7dd3f3"/>
<circle cx="568.0" cy="771.9" r="5.3" fill="#7dd3f3"/>
<circle cx="570.2" cy="771.9" r="5.3" fill="#7dd3f3"/>
<circle cx="572.5" cy="771.9" r="5.3" fill="#7dd3f3"/>
<circle cx="575.0" cy="771.9" r="5.3" fill="#7dd3f3"/>
<circle cx="577.5" cy="771.9" r="5.3" fill="#7dd3f3"/>
<circle cx="369.0" cy="788.2" r="5.3" fill="#6bbde0"/>
<circle cx="375.0" cy="788.2" r="5.3" fill="#6bbde0"/>
<circle cx="379.6" cy="788.2" r="5.3" fill="#6bbde0"/>
<circle cx="405.0" cy="788.2" r="5.3" fill="#6bbde0"/>
<circle cx="411.0" cy="788.2" r="5.3" fill="#6bbde0"/>
<circle cx="416.8" cy="788.2" r="5.3" fill="#6bbde0"/>
<circle cx="428.0" cy="788.2" r="5.3" fill="#6bbde0"/>
<circle cx="436.6" cy="788.2" r="5.3" fill="#6bbde0"/>
<circle cx="452.0" cy="788.2" r="5.3" fill="#6bbde0"/>
<circle cx="460.0" cy="788.2" r="5.3" fill="#6bbde0"/>
<circle cx="474.0" cy="788.2" r="5.3" fill="#6bbde0"/>
<circle cx="476.5" cy="788.2" r="5.3" fill="#6bbde0"/>
<circle cx="495.5" cy="788.2" r="5.3" fill="#6bbde0"/>
<circle cx="556.8" cy="788.2" r="5.3" fill="#6bbde0"/>
<circle cx="567.5" cy="788.2" r="5.3" fill="#6bbde0"/>
<circle cx="574.6" cy="788.2" r="5.3" fill="#6bbde0"/>
<circle cx="559.5" cy="804.4" r="5.3" fill="#5ea8c9"/>
<circle cx="562.2" cy="804.4" r="5.3" fill="#5ea8c9"/>
<circle cx="565.0" cy="804.4" r="5.3" fill="#5ea8c9"/>
<circle cx="567.5" cy="804.4" r="5.3" fill="#5ea8c9"/>
<circle cx="570.0" cy="804.4" r="5.3" fill="#5ea8c9"/>
<circle cx="572.7" cy="804.4" r="5.3" fill="#5ea8c9"/>
<circle cx="575.4" cy="804.4" r="5.3" fill="#5ea8c9"/>
<circle cx="267.5" cy="820.6" r="5.3" fill="#f9e0fa"/>
<circle cx="273.0" cy="820.6" r="5.3" fill="#f9e0fa"/>
<circle cx="307.0" cy="820.6" r="5.3" fill="#f9e0fa"/>
<circle cx="311.5" cy="820.6" r="5.3" fill="#f9e0fa"/>
<circle cx="323.5" cy="820.6" r="5.3" fill="#f9e0fa"/>
<circle cx="329.0" cy="820.6" r="5.3" fill="#f9e0fa"/>
<circle cx="334.0" cy="820.6" r="5.3" fill="#f9e0fa"/>
<circle cx="339.0" cy="820.6" r="5.3" fill="#f9e0fa"/>
<circle cx="362.7" cy="820.6" r="5.3" fill="#f9e0fa"/>
<circle cx="378.5" cy="820.6" r="5.3" fill="#f9e0fa"/>
<circle cx="384.5" cy="820.6" r="5.3" fill="#f9e0fa"/>
<circle cx="389.8" cy="820.6" r="5.3" fill="#f9e0fa"/>
<circle cx="515.5" cy="820.6" r="5.3" fill="#f9e0fa"/>
<circle cx="529.0" cy="820.6" r="5.3" fill="#f9e0fa"/>
<circle cx="534.0" cy="820.6" r="5.3" fill="#f9e0fa"/>
<circle cx="538.5" cy="820.6" r="5.3" fill="#f9e0fa"/>
<circle cx="297.8" cy="836.9" r="5.3" fill="#f7cdf9"/>
<circle cx="514.0" cy="836.9" r="5.3" fill="#f7cdf9"/>
<circle cx="517.0" cy="836.9" r="5.3" fill="#f7cdf9"/>
<circle cx="520.0" cy="836.9" r="5.3" fill="#f7cdf9"/>
<circle cx="523.0" cy="836.9" r="5.3" fill="#f7cdf9"/>
<circle cx="526.0" cy="836.9" r="5.3" fill="#f7cdf9"/>
<circle cx="529.0" cy="836.9" r="5.3" fill="#f7cdf9"/>
<circle cx="532.0" cy="836.9" r="5.3" fill="#f7cdf9"/>
<circle cx="535.0" cy="836.9" r="5.3" fill="#f7cdf9"/>
<circle cx="538.0" cy="836.9" r="5.3" fill="#f7cdf9"/>
<circle cx="541.0" cy="836.9" r="5.3" fill="#f7cdf9"/>
<circle cx="544.0" cy="836.9" r="5.3" fill="#f7cdf9"/>
<circle cx="547.0" cy="836.9" r="5.3" fill="#f7cdf9"/>
<circle cx="550.0" cy="836.9" r="5.3" fill="#f7cdf9"/>
<circle cx="553.4" cy="836.9" r="5.3" fill="#f7cdf9"/>
<circle cx="556.7" cy="836.9" r="5.3" fill="#f7cdf9"/>
<circle cx="321.9" cy="853.1" r="5.3" fill="#ee9ef2"/>
<circle cx="360.9" cy="853.1" r="5.3" fill="#ee9ef2"/>
<circle cx="397.1" cy="853.1" r="5.3" fill="#ee9ef2"/>
<circle cx="418.5" cy="853.1" r="5.3" fill="#ee9ef2"/>
<circle cx="514.0" cy="853.1" r="5.3" fill="#ee9ef2"/>
<circle cx="517.0" cy="853.1" r="5.3" fill="#ee9ef2"/>
<circle cx="520.0" cy="853.1" r="5.3" fill="#ee9ef2"/>
<circle cx="523.0" cy="853.1" r="5.3" fill="#ee9ef2"/>
<circle cx="526.0" cy="853.1" r="5.3" fill="#ee9ef2"/>
<circle cx="529.0" cy="853.1" r="5.3" fill="#ee9ef2"/>
<circle cx="532.0" cy="853.1" r="5.3" fill="#ee9ef2"/>
<circle cx="535.0" cy="853.1" r="5.3" fill="#ee9ef2"/>
<circle cx="538.0" cy="853.1" r="5.3" fill="#ee9ef2"/>
<circle cx="541.0" cy="853.1" r="5.3" fill="#ee9ef2"/>
<circle cx="544.0" cy="853.1" r="5.3" fill="#ee9ef2"/>
<circle cx="547.0" cy="853.1" r="5.3" fill="#ee9ef2"/>
<circle cx="550.0" cy="853.1" r="5.3" fill="#ee9ef2"/>
<circle cx="558.4" cy="853.1" r="5.3" fill="#ee9ef2"/>
<circle cx="86.6" cy="869.4" r="5.3" fill="#d78fdc"/>
<circle cx="171.6" cy="869.4" r="5.3" fill="#d78fdc"/>
<circle cx="193.8" cy="869.4" r="5.3" fill="#d78fdc"/>
<circle cx="241.3" cy="869.4" r="5.3" fill="#d78fdc"/>
<circle cx="258.2" cy="869.4" r="5.3" fill="#d78fdc"/>
<circle cx="272.0" cy="869.4" r="5.3" fill="#d78fdc"/>
<circle cx="278.0" cy="869.4" r="5.3" fill="#d78fdc"/>
<circle cx="284.0" cy="869.4" r="5.3" fill="#d78fdc"/>
<circle cx="308.0" cy="869.4" r="5.3" fill="#d78fdc"/>
<circle cx="313.5" cy="869.4" r="5.3" fill="#d78fdc"/>
<circle cx="318.6" cy="869.4" r="5.3" fill="#d78fdc"/>
<circle cx="337.5" cy="869.4" r="5.3" fill="#d78fdc"/>
<circle cx="343.0" cy="869.4" r="5.3" fill="#d78fdc"/>
<circle cx="349.7" cy="869.4" r="5.3" fill="#d78fdc"/>
<circle cx="370.0" cy="869.4" r="5.3" fill="#d78fdc"/>
<circle cx="374.0" cy="869.4" r="5.3" fill="#d78fdc"/>
<circle cx="401.5" cy="869.4" r="5.3" fill="#d78fdc"/>
<circle cx="416.3" cy="869.4" r="5.3" fill="#d78fdc"/>
<circle cx="499.3" cy="869.4" r="5.3" fill="#d78fdc"/>
<circle cx="512.5" cy="869.4" r="5.3" fill="#d78fdc"/>
<circle cx="518.0" cy="869.4" r="5.3" fill="#d78fdc"/>
<circle cx="524.0" cy="869.4" r="5.3" fill="#d78fdc"/>
<circle cx="530.0" cy="869.4" r="5.3" fill="#d78fdc"/>
<circle cx="536.5" cy="869.4" r="5.3" fill="#d78fdc"/>
<circle cx="175.3" cy="885.6" r="5.3" fill="#bd7fc4"/>
<circle cx="368.8" cy="885.6" r="5.3" fill="#bd7fc4"/>
<circle cx="524.7" cy="885.6" r="5.3" fill="#bd7fc4"/>
<circle cx="531.0" cy="885.6" r="5.3" fill="#bd7fc4"/>
<circle cx="537.0" cy="885.6" r="5.3" fill="#bd7fc4"/>
<circle cx="543.0" cy="885.6" r="5.3" fill="#bd7fc4"/>
<circle cx="549.0" cy="885.6" r="5.3" fill="#bd7fc4"/>
<circle cx="553.0" cy="885.6" r="5.3" fill="#bd7fc4"/>
<circle cx="558.7" cy="885.6" r="5.3" fill="#bd7fc4"/>
<rect x="634.4" y="473.2" width="27.6" height="14.4" fill="#fdd6d6"/>
<text x="634.9" y="484.6" font-size="12.2" fill="#111">ACB</text>
<rect x="634.4" y="489.4" width="30.3" height="14.4" fill="#fdd6d6"/>
<text x="634.9" y="500.8" font-size="12.2" fill="#111">ASW</text>
<rect x="634.4" y="505.7" width="27.6" height="14.4" fill="#fdd6d6"/>
<text x="634.9" y="517.1" font-size="12.2" fill="#111">ESN</text>
<rect x="634.4" y="521.9" width="32.3" height="14.4" fill="#fdd6d6"/>
<text x="634.9" y="533.3" font-size="12.2" fill="#111">GWD</text>
<rect x="634.4" y="538.2" width="28.0" height="14.4" fill="#fdd6d6"/>
<text x="634.9" y="549.6" font-size="12.2" fill="#111">LWK</text>
<rect x="634.4" y="554.4" width="27.6" height="14.4" fill="#fdd6d6"/>
<text x="634.9" y="565.8" font-size="12.2" fill="#111">MSL</text>
<rect x="634.4" y="570.6" width="22.8" height="14.4" fill="#fdd6d6"/>
<text x="634.9" y="582.0" font-size="12.2" fill="#111">YRI</text>
<rect x="634.4" y="586.9" width="28.3" height="14.4" fill="#e1e0b5"/>
<text x="634.9" y="598.3" font-size="12.2" fill="#111">CLM</text>
<rect x="634.4" y="603.1" width="27.6" height="14.4" fill="#e1e0b5"/>
<text x="634.9" y="614.5" font-size="12.2" fill="#111">MXL</text>
<rect x="634.4" y="619.4" width="25.6" height="14.4" fill="#e1e0b5"/>
<text x="634.9" y="630.8" font-size="12.2" fill="#111">PEL</text>
<rect x="634.4" y="635.6" width="28.3" height="14.4" fill="#e1e0b5"/>
<text x="634.9" y="647.0" font-size="12.2" fill="#111">PUR</text>
<rect x="634.4" y="651.8" width="28.3" height="14.4" fill="#a9e7d0"/>
<text x="634.9" y="663.2" font-size="12.2" fill="#111">CDX</text>
<rect x="634.4" y="668.1" width="28.3" height="14.4" fill="#a9e7d0"/>
<text x="634.9" y="679.5" font-size="12.2" fill="#111">CHB</text>
<rect x="634.4" y="684.3" width="28.3" height="14.4" fill="#a9e7d0"/>
<text x="634.9" y="695.7" font-size="12.2" fill="#111">CHS</text>
<rect x="634.4" y="700.6" width="24.2" height="14.4" fill="#a9e7d0"/>
<text x="634.9" y="712.0" font-size="12.2" fill="#111">JPT</text>
<rect x="634.4" y="716.8" width="27.6" height="14.4" fill="#a9e7d0"/>
<text x="634.9" y="728.2" font-size="12.2" fill="#111">KHV</text>
<rect x="634.4" y="733.0" width="28.3" height="14.4" fill="#bde6f8"/>
<text x="634.9" y="744.4" font-size="12.2" fill="#111">CEU</text>
<rect x="634.4" y="749.3" width="22.2" height="14.4" fill="#bde6f8"/>
<text x="634.9" y="760.7" font-size="12.2" fill="#111">FIN</text>
<rect x="634.4" y="765.5" width="28.9" height="14.4" fill="#bde6f8"/>
<text x="634.9" y="776.9" font-size="12.2" fill="#111">GBR</text>
<rect x="634.4" y="781.8" width="22.2" height="14.4" fill="#bde6f8"/>
<text x="634.9" y="793.2" font-size="12.2" fill="#111">IBS</text>
<rect x="634.4" y="798.0" width="21.5" height="14.4" fill="#bde6f8"/>
<text x="634.9" y="809.4" font-size="12.2" fill="#111">TSI</text>
<rect x="634.4" y="814.2" width="26.9" height="14.4" fill="#f5cdf5"/>
<text x="634.9" y="825.6" font-size="12.2" fill="#111">BEB</text>
<rect x="634.4" y="830.5" width="24.2" height="14.4" fill="#f5cdf5"/>
<text x="634.9" y="841.9" font-size="12.2" fill="#111">GIH</text>
<rect x="634.4" y="846.7" width="22.2" height="14.4" fill="#f5cdf5"/>
<text x="634.9" y="858.1" font-size="12.2" fill="#111">ITU</text>
<rect x="634.4" y="863.0" width="23.5" height="14.4" fill="#f5cdf5"/>
<text x="634.9" y="874.4" font-size="12.2" fill="#111">PJL</text>
<rect x="634.4" y="879.2" width="26.9" height="14.4" fill="#f5cdf5"/>
<text x="634.9" y="890.6" font-size="12.2" fill="#111">STU</text>
<rect x="38.3" y="471.5" width="595.6" height="421.8" fill="none" stroke="#222" stroke-width="1.2"/>
<line x1="38.3" y1="893.3" x2="38.3" y2="898" stroke="#222" stroke-width="1.2"/>
<text x="38.3" y="909.2" font-size="7.6" text-anchor="middle" fill="#1e1e1e">0.4</text>
<line x1="137.6" y1="893.3" x2="137.6" y2="898" stroke="#222" stroke-width="1.2"/>
<text x="137.6" y="909.2" font-size="7.6" text-anchor="middle" fill="#1e1e1e">0.5</text>
<line x1="236.8" y1="893.3" x2="236.8" y2="898" stroke="#222" stroke-width="1.2"/>
<text x="236.8" y="909.2" font-size="7.6" text-anchor="middle" fill="#1e1e1e">0.6</text>
<line x1="336.1" y1="893.3" x2="336.1" y2="898" stroke="#222" stroke-width="1.2"/>
<text x="336.1" y="909.2" font-size="7.6" text-anchor="middle" fill="#1e1e1e">0.7</text>
<line x1="435.4" y1="893.3" x2="435.4" y2="898" stroke="#222" stroke-width="1.2"/>
<text x="435.4" y="909.2" font-size="7.6" text-anchor="middle" fill="#1e1e1e">0.8</text>
<line x1="534.6" y1="893.3" x2="534.6" y2="898" stroke="#222" stroke-width="1.2"/>
<text x="534.6" y="909.2" font-size="7.6" text-anchor="middle" fill="#1e1e1e">0.9</text>
<line x1="633.9" y1="893.3" x2="633.9" y2="898" stroke="#222" stroke-width="1.2"/>
<text x="633.9" y="909.2" font-size="7.6" text-anchor="middle" fill="#1e1e1e">1.0</text>
<text x="336.4" y="924.6" font-size="12" text-anchor="middle" fill="#222">Similarity to Reconstructed Data</text>
<text transform="translate(26.0 687.2) rotate(-90)" font-size="12" text-anchor="middle" fill="#222">Test Label (True)</text>
<text x="0.4" y="482.3" font-size="14.5" fill="#222">(b)</text>
</svg>
</body></html>
